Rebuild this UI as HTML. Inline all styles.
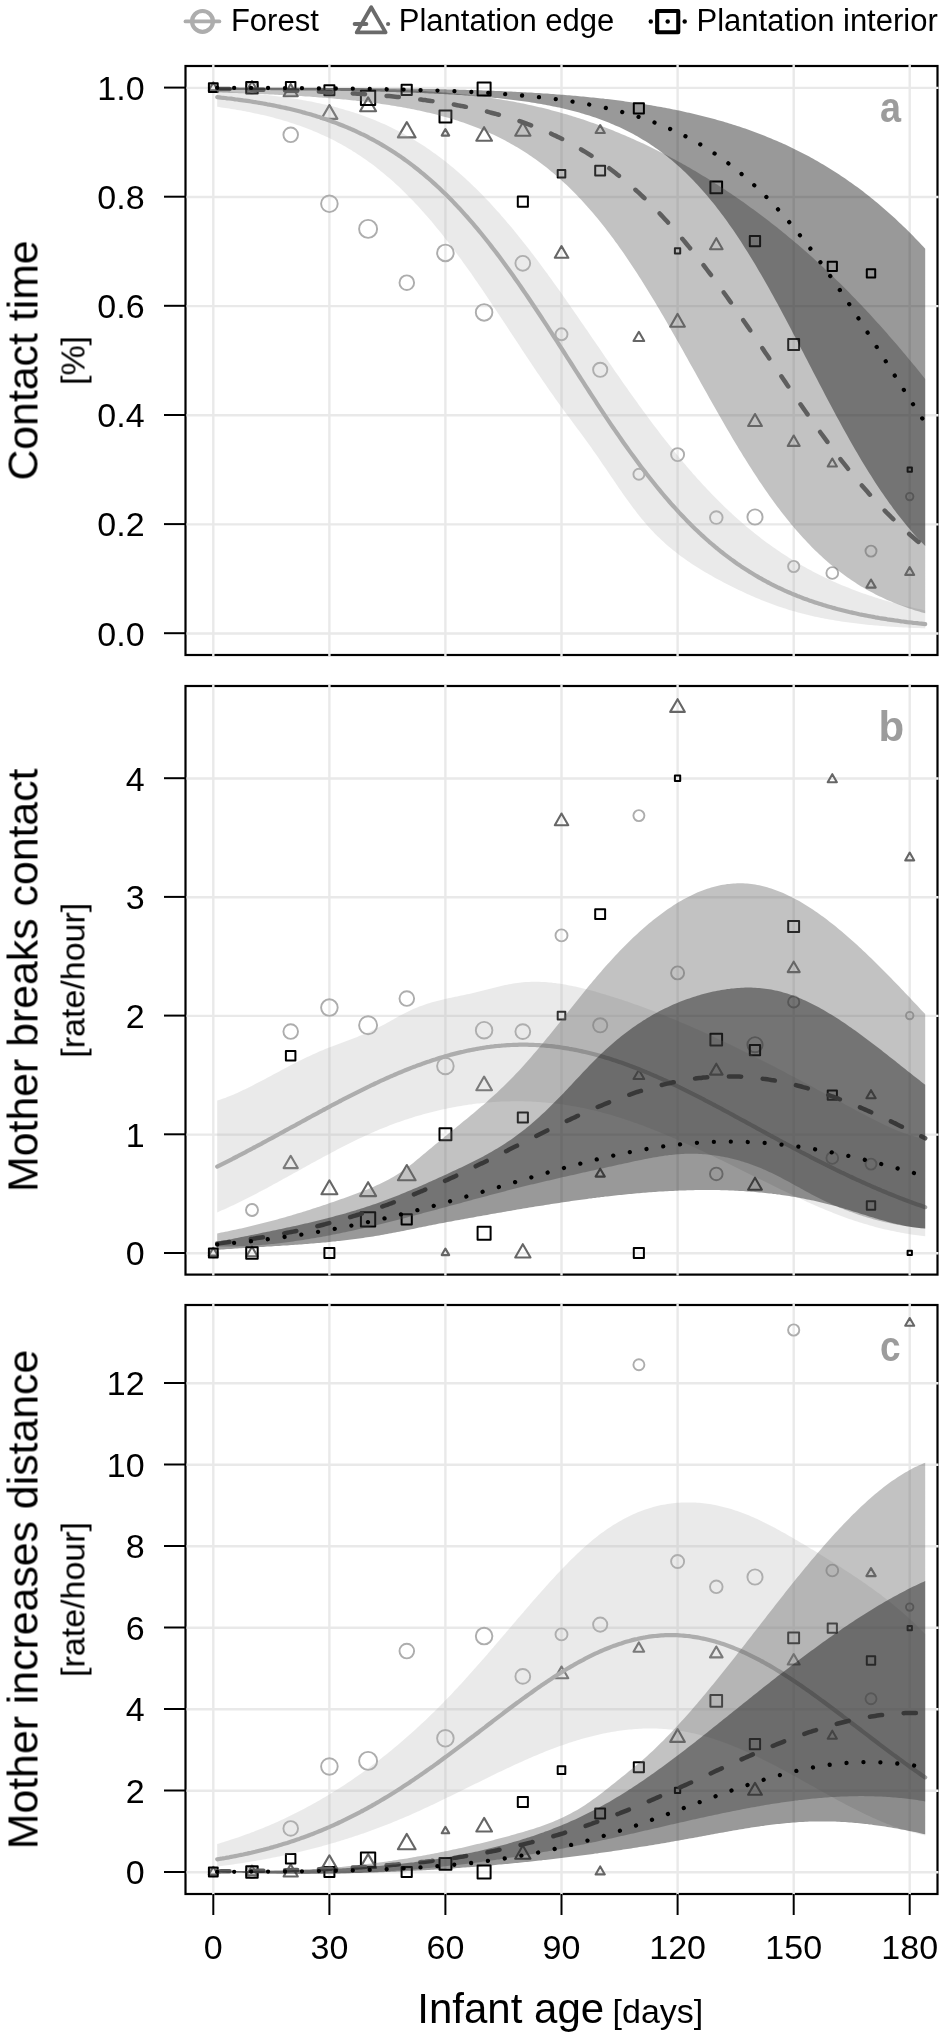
<!DOCTYPE html>
<html><head><meta charset="utf-8"><title>Figure</title>
<style>html,body{margin:0;padding:0;background:#fff;}body{width:944px;height:2040px;overflow:hidden;font-family:"Liberation Sans",sans-serif;}svg{display:block;}svg text{will-change:transform;}</style>
</head><body>
<svg width="944" height="2040" viewBox="0 0 944 2040" font-family="'Liberation Sans', sans-serif" fill="#000">
<rect width="944" height="2040" fill="#fff"/>
<rect x="185.5" y="66" width="752" height="589" fill="#fff" stroke="#000" stroke-width="2.2"/>
<line x1="213.3" y1="65" x2="213.3" y2="656" stroke="#e9e9e9" stroke-width="2.4"/>
<line x1="329.4" y1="65" x2="329.4" y2="656" stroke="#e9e9e9" stroke-width="2.4"/>
<line x1="445.4" y1="65" x2="445.4" y2="656" stroke="#e9e9e9" stroke-width="2.4"/>
<line x1="561.5" y1="65" x2="561.5" y2="656" stroke="#e9e9e9" stroke-width="2.4"/>
<line x1="677.6" y1="65" x2="677.6" y2="656" stroke="#e9e9e9" stroke-width="2.4"/>
<line x1="793.7" y1="65" x2="793.7" y2="656" stroke="#e9e9e9" stroke-width="2.4"/>
<line x1="909.7" y1="65" x2="909.7" y2="656" stroke="#e9e9e9" stroke-width="2.4"/>
<line x1="186.5" y1="633.5" x2="938.5" y2="633.5" stroke="#e9e9e9" stroke-width="2.4"/>
<line x1="186.5" y1="524.4" x2="938.5" y2="524.4" stroke="#e9e9e9" stroke-width="2.4"/>
<line x1="186.5" y1="415.3" x2="938.5" y2="415.3" stroke="#e9e9e9" stroke-width="2.4"/>
<line x1="186.5" y1="306.1" x2="938.5" y2="306.1" stroke="#e9e9e9" stroke-width="2.4"/>
<line x1="186.5" y1="197" x2="938.5" y2="197" stroke="#e9e9e9" stroke-width="2.4"/>
<line x1="186.5" y1="87.9" x2="938.5" y2="87.9" stroke="#e9e9e9" stroke-width="2.4"/>
<line x1="164" y1="633.2" x2="185.5" y2="633.2" stroke="#000" stroke-width="2"/>
<text x="144.6" y="645.5" text-anchor="end" font-size="34">0.0</text>
<line x1="164" y1="524.1" x2="185.5" y2="524.1" stroke="#000" stroke-width="2"/>
<text x="144.6" y="536.4" text-anchor="end" font-size="34">0.2</text>
<line x1="164" y1="415" x2="185.5" y2="415" stroke="#000" stroke-width="2"/>
<text x="144.6" y="427.3" text-anchor="end" font-size="34">0.4</text>
<line x1="164" y1="305.8" x2="185.5" y2="305.8" stroke="#000" stroke-width="2"/>
<text x="144.6" y="318.1" text-anchor="end" font-size="34">0.6</text>
<line x1="164" y1="196.7" x2="185.5" y2="196.7" stroke="#000" stroke-width="2"/>
<text x="144.6" y="209" text-anchor="end" font-size="34">0.8</text>
<line x1="164" y1="87.6" x2="185.5" y2="87.6" stroke="#000" stroke-width="2"/>
<text x="144.6" y="99.9" text-anchor="end" font-size="34">1.0</text>
<circle cx="213.3" cy="87.6" r="4.5" fill="none" stroke="#adadad" stroke-width="1.9"/>
<circle cx="252" cy="87.6" r="6" fill="none" stroke="#adadad" stroke-width="1.9"/>
<circle cx="290.7" cy="134.8" r="7.3" fill="none" stroke="#adadad" stroke-width="1.9"/>
<circle cx="329.4" cy="203.8" r="8.3" fill="none" stroke="#adadad" stroke-width="1.9"/>
<circle cx="368.1" cy="228.9" r="9" fill="none" stroke="#adadad" stroke-width="1.9"/>
<circle cx="406.8" cy="282.7" r="7.3" fill="none" stroke="#adadad" stroke-width="1.9"/>
<circle cx="445.4" cy="252.9" r="8.3" fill="none" stroke="#adadad" stroke-width="1.9"/>
<circle cx="484.1" cy="312.4" r="8.3" fill="none" stroke="#adadad" stroke-width="1.9"/>
<circle cx="522.8" cy="263.3" r="7.4" fill="none" stroke="#adadad" stroke-width="1.9"/>
<circle cx="561.5" cy="334.3" r="6" fill="none" stroke="#adadad" stroke-width="1.9"/>
<circle cx="600.2" cy="369.8" r="7.1" fill="none" stroke="#adadad" stroke-width="1.9"/>
<circle cx="638.9" cy="474.2" r="5.5" fill="none" stroke="#adadad" stroke-width="1.9"/>
<circle cx="677.6" cy="454.6" r="6.5" fill="none" stroke="#adadad" stroke-width="1.9"/>
<circle cx="716.3" cy="517.6" r="6.3" fill="none" stroke="#adadad" stroke-width="1.9"/>
<circle cx="755" cy="517" r="7.6" fill="none" stroke="#adadad" stroke-width="1.9"/>
<circle cx="793.7" cy="566.5" r="5.6" fill="none" stroke="#adadad" stroke-width="1.9"/>
<circle cx="832.3" cy="573" r="5.9" fill="none" stroke="#adadad" stroke-width="1.9"/>
<circle cx="871" cy="551.1" r="5.5" fill="none" stroke="#adadad" stroke-width="1.9"/>
<circle cx="909.7" cy="496.6" r="3.7" fill="none" stroke="#adadad" stroke-width="1.9"/>
<path d="M213.3 82.4 L217.8 90.2 L208.8 90.2Z" fill="none" stroke="#666666" stroke-width="2.1" stroke-linejoin="round"/>
<path d="M252 81.2 L257.5 90.7 L246.5 90.7Z" fill="none" stroke="#666666" stroke-width="2.1" stroke-linejoin="round"/>
<path d="M290.7 83.9 L297.8 96.2 L283.6 96.2Z" fill="none" stroke="#666666" stroke-width="2.1" stroke-linejoin="round"/>
<path d="M329.4 105.1 L337.4 118.9 L321.4 118.9Z" fill="none" stroke="#666666" stroke-width="2.1" stroke-linejoin="round"/>
<path d="M368.1 97.4 L376.1 111.2 L360.1 111.2Z" fill="none" stroke="#666666" stroke-width="2.1" stroke-linejoin="round"/>
<path d="M406.8 122.1 L415.6 137.4 L397.9 137.4Z" fill="none" stroke="#666666" stroke-width="2.1" stroke-linejoin="round"/>
<path d="M445.4 129.1 L449.2 135.6 L441.7 135.6Z" fill="none" stroke="#666666" stroke-width="2.1" stroke-linejoin="round"/>
<path d="M484.1 127.2 L492 140.8 L476.3 140.8Z" fill="none" stroke="#666666" stroke-width="2.1" stroke-linejoin="round"/>
<path d="M522.8 122.4 L530.5 135.7 L515.2 135.7Z" fill="none" stroke="#666666" stroke-width="2.1" stroke-linejoin="round"/>
<path d="M561.5 246.1 L568.3 257.8 L554.8 257.8Z" fill="none" stroke="#666666" stroke-width="2.1" stroke-linejoin="round"/>
<path d="M600.2 125.1 L604.8 133 L595.6 133Z" fill="none" stroke="#666666" stroke-width="2.1" stroke-linejoin="round"/>
<path d="M638.9 331.8 L644.2 341 L633.5 341Z" fill="none" stroke="#666666" stroke-width="2.1" stroke-linejoin="round"/>
<path d="M677.6 313.9 L684.9 326.7 L670.2 326.7Z" fill="none" stroke="#666666" stroke-width="2.1" stroke-linejoin="round"/>
<path d="M716.3 238.2 L722.6 249.2 L710 249.2Z" fill="none" stroke="#666666" stroke-width="2.1" stroke-linejoin="round"/>
<path d="M755 414 L761.9 426 L748.1 426Z" fill="none" stroke="#666666" stroke-width="2.1" stroke-linejoin="round"/>
<path d="M793.7 435.5 L799.7 445.9 L787.7 445.9Z" fill="none" stroke="#666666" stroke-width="2.1" stroke-linejoin="round"/>
<path d="M832.3 458.5 L836.9 466.5 L827.7 466.5Z" fill="none" stroke="#666666" stroke-width="2.1" stroke-linejoin="round"/>
<path d="M871 579.5 L875.7 587.6 L866.4 587.6Z" fill="none" stroke="#666666" stroke-width="2.1" stroke-linejoin="round"/>
<path d="M909.7 567.1 L914.2 574.9 L905.2 574.9Z" fill="none" stroke="#666666" stroke-width="2.1" stroke-linejoin="round"/>
<rect x="208.9" y="83.2" width="8.8" height="8.8" fill="none" stroke="#000" stroke-width="2" stroke-linejoin="round"/>
<rect x="246.2" y="81.9" width="11.5" height="11.5" fill="none" stroke="#000" stroke-width="2" stroke-linejoin="round"/>
<rect x="285.9" y="82" width="9.5" height="9.5" fill="none" stroke="#000" stroke-width="2" stroke-linejoin="round"/>
<rect x="324.4" y="85.3" width="10" height="10" fill="none" stroke="#000" stroke-width="2" stroke-linejoin="round"/>
<rect x="360.9" y="90.8" width="14.3" height="14.3" fill="none" stroke="#000" stroke-width="2" stroke-linejoin="round"/>
<rect x="401.6" y="84.7" width="10.2" height="10.2" fill="none" stroke="#000" stroke-width="2" stroke-linejoin="round"/>
<rect x="439.5" y="110.6" width="11.9" height="11.9" fill="none" stroke="#000" stroke-width="2" stroke-linejoin="round"/>
<rect x="477.6" y="82.4" width="13" height="13" fill="none" stroke="#000" stroke-width="2" stroke-linejoin="round"/>
<rect x="517.8" y="196.6" width="10.1" height="10.1" fill="none" stroke="#000" stroke-width="2" stroke-linejoin="round"/>
<rect x="557.7" y="170" width="7.6" height="7.6" fill="none" stroke="#000" stroke-width="2" stroke-linejoin="round"/>
<rect x="595.2" y="165.7" width="9.9" height="9.9" fill="none" stroke="#000" stroke-width="2" stroke-linejoin="round"/>
<rect x="633.8" y="103.3" width="10.1" height="10.1" fill="none" stroke="#000" stroke-width="2" stroke-linejoin="round"/>
<rect x="674.9" y="248.2" width="5.3" height="5.3" fill="none" stroke="#000" stroke-width="2" stroke-linejoin="round"/>
<rect x="710.4" y="181.6" width="11.7" height="11.7" fill="none" stroke="#000" stroke-width="2" stroke-linejoin="round"/>
<rect x="749.8" y="236" width="10.3" height="10.3" fill="none" stroke="#000" stroke-width="2" stroke-linejoin="round"/>
<rect x="788.2" y="339" width="10.9" height="10.9" fill="none" stroke="#000" stroke-width="2" stroke-linejoin="round"/>
<rect x="827.7" y="261.8" width="9.2" height="9.2" fill="none" stroke="#000" stroke-width="2" stroke-linejoin="round"/>
<rect x="866.8" y="269.2" width="8.4" height="8.4" fill="none" stroke="#000" stroke-width="2" stroke-linejoin="round"/>
<rect x="907.6" y="467.4" width="4.3" height="4.3" fill="none" stroke="#000" stroke-width="2" stroke-linejoin="round"/>
<path d="M217.2 91.1 L219.2 91.2 L221.2 91.3 L223.2 91.4 L225.2 91.5 L227.2 91.7 L229.2 91.8 L231.2 91.9 L233.2 92.1 L235.2 92.2 L237.2 92.3 L239.2 92.5 L241.2 92.6 L243.2 92.8 L245.2 93 L247.2 93.1 L249.2 93.3 L251.2 93.5 L253.2 93.6 L255.2 93.8 L257.2 94 L259.2 94.2 L261.2 94.4 L263.2 94.6 L265.2 94.8 L267.2 95.1 L269.2 95.3 L271.2 95.5 L273.2 95.8 L275.2 96 L277.2 96.2 L279.2 96.5 L281.2 96.8 L283.2 97 L285.2 97.3 L287.2 97.6 L289.2 97.9 L291.2 98.2 L293.2 98.5 L295.2 98.8 L297.2 99.1 L299.2 99.5 L301.2 99.8 L303.2 100.2 L305.2 100.5 L307.2 100.9 L309.2 101.3 L311.2 101.6 L313.2 102 L315.2 102.4 L317.2 102.9 L319.2 103.3 L321.2 103.7 L323.2 104.2 L325.2 104.6 L327.2 105.1 L329.2 105.6 L331.2 106.1 L333.2 106.6 L335.2 107.1 L337.2 107.6 L339.2 108.2 L341.2 108.7 L343.2 109.3 L345.2 109.9 L347.2 110.5 L349.2 111.1 L351.2 111.7 L353.2 112.3 L355.2 113 L357.2 113.6 L359.2 114.3 L361.2 115 L363.2 115.7 L365.2 116.4 L367.2 117.2 L369.2 117.9 L371.2 118.7 L373.2 119.5 L375.2 120.3 L377.2 121.2 L379.2 122 L381.2 122.9 L383.2 123.7 L385.2 124.6 L387.2 125.6 L389.2 126.5 L391.2 127.4 L393.2 128.4 L395.2 129.4 L397.2 130.4 L399.2 131.5 L401.2 132.5 L403.2 133.6 L405.2 134.7 L407.2 135.8 L409.2 136.9 L411.2 138.1 L413.2 139.3 L415.2 140.5 L417.2 141.7 L419.2 143 L421.2 144.2 L423.2 145.5 L425.2 146.8 L427.2 148.2 L429.2 149.6 L431.2 150.9 L433.2 152.4 L435.2 153.8 L437.2 155.3 L439.2 156.7 L441.2 158.3 L443.2 159.8 L445.2 161.3 L447.2 162.9 L449.2 164.5 L451.2 166.2 L453.2 167.8 L455.2 169.5 L457.2 171.2 L459.2 173 L461.2 174.7 L463.2 176.5 L465.2 178.3 L467.2 180.2 L469.2 182.1 L471.2 183.9 L473.2 185.9 L475.2 187.8 L477.2 189.8 L479.2 191.8 L481.2 193.8 L483.2 195.8 L485.2 197.9 L487.2 200 L489.2 202.1 L491.2 204.3 L493.2 206.5 L495.2 208.7 L497.2 210.9 L499.2 213.1 L501.2 215.4 L503.2 217.7 L505.2 220 L507.2 222.4 L509.2 224.7 L511.2 227.1 L513.2 229.5 L515.2 232 L517.2 234.4 L519.2 236.9 L521.2 239.4 L523.2 241.9 L525.2 244.4 L527.2 247 L529.2 249.6 L531.2 252.2 L533.2 254.8 L535.2 257.4 L537.2 260.1 L539.2 262.8 L541.2 265.5 L543.2 268.2 L545.2 270.9 L547.2 273.6 L549.2 276.4 L551.2 279.1 L553.2 281.9 L555.2 284.7 L557.2 287.5 L559.2 290.3 L561.2 293.1 L563.2 296 L565.2 298.8 L567.2 301.7 L569.2 304.6 L571.2 307.4 L573.2 310.3 L575.2 313.2 L577.2 316.1 L579.2 319 L581.2 321.9 L583.2 324.8 L585.2 327.7 L587.2 330.6 L589.2 333.5 L591.2 336.5 L593.2 339.4 L595.2 342.3 L597.2 345.2 L599.2 348.1 L601.2 351.1 L603.2 354 L605.2 356.9 L607.2 359.8 L609.2 362.7 L611.2 365.6 L613.2 368.5 L615.2 371.4 L617.2 374.3 L619.2 377.1 L621.2 380 L623.2 382.9 L625.2 385.7 L627.2 388.6 L629.2 391.4 L631.2 394.2 L633.2 397 L635.2 399.8 L637.2 402.6 L639.2 405.4 L641.2 408.1 L643.2 410.9 L645.2 413.6 L647.2 416.3 L649.2 419 L651.2 421.7 L653.2 424.4 L655.2 427 L657.2 429.6 L659.2 432.3 L661.2 434.9 L663.2 437.4 L665.2 440 L667.2 442.6 L669.2 445.1 L671.2 447.6 L673.2 450.1 L675.2 452.5 L677.2 455 L679.2 457.4 L681.2 459.8 L683.2 462.2 L685.2 464.6 L687.2 466.9 L689.2 469.3 L691.2 471.6 L693.2 473.9 L695.2 476.1 L697.2 478.4 L699.2 480.6 L701.2 482.8 L703.2 484.9 L705.2 487.1 L707.2 489.2 L709.2 491.3 L711.2 493.4 L713.2 495.5 L715.2 497.5 L717.2 499.5 L719.2 501.5 L721.2 503.5 L723.2 505.5 L725.2 507.4 L727.2 509.3 L729.2 511.2 L731.2 513.1 L733.2 514.9 L735.2 516.7 L737.2 518.5 L739.2 520.3 L741.2 522 L743.2 523.8 L745.2 525.5 L747.2 527.2 L749.2 528.8 L751.2 530.5 L753.2 532.1 L755.2 533.7 L757.2 535.3 L759.2 536.8 L761.2 538.4 L763.2 539.9 L765.2 541.4 L767.2 542.9 L769.2 544.3 L771.2 545.8 L773.2 547.2 L775.2 548.6 L777.2 550 L779.2 551.3 L781.2 552.7 L783.2 554 L785.2 555.3 L787.2 556.6 L789.2 557.9 L791.2 559.1 L793.2 560.3 L795.2 561.5 L797.2 562.7 L799.2 563.9 L801.2 565.1 L803.2 566.2 L805.2 567.3 L807.2 568.4 L809.2 569.5 L811.2 570.6 L813.2 571.7 L815.2 572.7 L817.2 573.7 L819.2 574.7 L821.2 575.7 L823.2 576.7 L825.2 577.7 L827.2 578.6 L829.2 579.6 L831.2 580.5 L833.2 581.4 L835.2 582.3 L837.2 583.2 L839.2 584 L841.2 584.9 L843.2 585.7 L845.2 586.5 L847.2 587.3 L849.2 588.1 L851.2 588.9 L853.2 589.7 L855.2 590.5 L857.2 591.2 L859.2 591.9 L861.2 592.7 L863.2 593.4 L865.2 594.1 L867.2 594.8 L869.2 595.4 L871.2 596.1 L873.2 596.8 L875.2 597.4 L877.2 598 L879.2 598.7 L881.2 599.3 L883.2 599.9 L885.2 600.5 L887.2 601 L889.2 601.6 L891.2 602.2 L893.2 602.7 L895.2 603.3 L897.2 603.8 L899.2 604.3 L901.2 604.9 L903.2 605.4 L905.2 605.9 L907.2 606.4 L909.2 606.8 L911.2 607.3 L913.2 607.8 L915.2 608.2 L917.2 608.7 L919.2 609.1 L921.2 609.6 L923.2 610 L925.2 610.4 L925.2 628.4 L923.2 628.3 L921.2 628.2 L919.2 628.1 L917.2 628.1 L915.2 628 L913.2 627.9 L911.2 627.8 L909.2 627.7 L907.2 627.6 L905.2 627.5 L903.2 627.4 L901.2 627.3 L899.2 627.2 L897.2 627 L895.2 626.9 L893.2 626.8 L891.2 626.7 L889.2 626.5 L887.2 626.4 L885.2 626.2 L883.2 626.1 L881.2 625.9 L879.2 625.8 L877.2 625.6 L875.2 625.4 L873.2 625.2 L871.2 625 L869.2 624.9 L867.2 624.7 L865.2 624.5 L863.2 624.2 L861.2 624 L859.2 623.8 L857.2 623.6 L855.2 623.3 L853.2 623.1 L851.2 622.8 L849.2 622.6 L847.2 622.3 L845.2 622 L843.2 621.7 L841.2 621.4 L839.2 621.1 L837.2 620.8 L835.2 620.5 L833.2 620.1 L831.2 619.8 L829.2 619.4 L827.2 619.1 L825.2 618.7 L823.2 618.3 L821.2 617.9 L819.2 617.5 L817.2 617.1 L815.2 616.7 L813.2 616.2 L811.2 615.8 L809.2 615.3 L807.2 614.8 L805.2 614.3 L803.2 613.8 L801.2 613.3 L799.2 612.8 L797.2 612.2 L795.2 611.6 L793.2 611.1 L791.2 610.5 L789.2 609.9 L787.2 609.3 L785.2 608.6 L783.2 608 L781.2 607.3 L779.2 606.7 L777.2 606 L775.2 605.3 L773.2 604.5 L771.2 603.8 L769.2 603.1 L767.2 602.3 L765.2 601.5 L763.2 600.7 L761.2 599.9 L759.2 599.1 L757.2 598.3 L755.2 597.4 L753.2 596.6 L751.2 595.7 L749.2 594.8 L747.2 593.9 L745.2 593 L743.2 592 L741.2 591.1 L739.2 590.2 L737.2 589.2 L735.2 588.2 L733.2 587.2 L731.2 586.2 L729.2 585.2 L727.2 584.2 L725.2 583.2 L723.2 582.2 L721.2 581.1 L719.2 580 L717.2 579 L715.2 577.9 L713.2 576.8 L711.2 575.6 L709.2 574.5 L707.2 573.3 L705.2 572.2 L703.2 571 L701.2 569.8 L699.2 568.5 L697.2 567.3 L695.2 566 L693.2 564.7 L691.2 563.4 L689.2 562 L687.2 560.7 L685.2 559.3 L683.2 557.8 L681.2 556.4 L679.2 554.9 L677.2 553.3 L675.2 551.8 L673.2 550.2 L671.2 548.5 L669.2 546.9 L667.2 545.2 L665.2 543.4 L663.2 541.6 L661.2 539.7 L659.2 537.8 L657.2 535.9 L655.2 533.9 L653.2 531.8 L651.2 529.7 L649.2 527.5 L647.2 525.3 L645.2 523 L643.2 520.6 L641.2 518.2 L639.2 515.7 L637.2 513.2 L635.2 510.6 L633.2 508 L631.2 505.3 L629.2 502.6 L627.2 499.8 L625.2 497 L623.2 494.2 L621.2 491.3 L619.2 488.4 L617.2 485.5 L615.2 482.6 L613.2 479.6 L611.2 476.7 L609.2 473.7 L607.2 470.8 L605.2 467.8 L603.2 464.9 L601.2 462 L599.2 459 L597.2 456.1 L595.2 453.3 L593.2 450.4 L591.2 447.6 L589.2 444.8 L587.2 442 L585.2 439.2 L583.2 436.5 L581.2 433.8 L579.2 431 L577.2 428.4 L575.2 425.7 L573.2 423 L571.2 420.3 L569.2 417.6 L567.2 414.9 L565.2 412.2 L563.2 409.5 L561.2 406.7 L559.2 404 L557.2 401.2 L555.2 398.4 L553.2 395.6 L551.2 392.7 L549.2 389.9 L547.2 387 L545.2 384.1 L543.2 381.2 L541.2 378.3 L539.2 375.3 L537.2 372.4 L535.2 369.4 L533.2 366.4 L531.2 363.4 L529.2 360.4 L527.2 357.4 L525.2 354.4 L523.2 351.4 L521.2 348.4 L519.2 345.3 L517.2 342.3 L515.2 339.3 L513.2 336.2 L511.2 333.2 L509.2 330.2 L507.2 327.1 L505.2 324.1 L503.2 321 L501.2 318 L499.2 315 L497.2 312 L495.2 308.9 L493.2 305.9 L491.2 302.9 L489.2 300 L487.2 297 L485.2 294 L483.2 291.1 L481.2 288.1 L479.2 285.2 L477.2 282.3 L475.2 279.4 L473.2 276.5 L471.2 273.6 L469.2 270.8 L467.2 268 L465.2 265.2 L463.2 262.4 L461.2 259.6 L459.2 256.9 L457.2 254.2 L455.2 251.5 L453.2 248.8 L451.2 246.2 L449.2 243.5 L447.2 240.9 L445.2 238.4 L443.2 235.8 L441.2 233.3 L439.2 230.8 L437.2 228.4 L435.2 225.9 L433.2 223.5 L431.2 221.1 L429.2 218.8 L427.2 216.5 L425.2 214.2 L423.2 211.9 L421.2 209.7 L419.2 207.5 L417.2 205.3 L415.2 203.2 L413.2 201.1 L411.2 199 L409.2 196.9 L407.2 194.9 L405.2 192.9 L403.2 191 L401.2 189 L399.2 187.1 L397.2 185.3 L395.2 183.4 L393.2 181.6 L391.2 179.8 L389.2 178.1 L387.2 176.4 L385.2 174.7 L383.2 173 L381.2 171.4 L379.2 169.8 L377.2 168.2 L375.2 166.6 L373.2 165.1 L371.2 163.6 L369.2 162.2 L367.2 160.7 L365.2 159.3 L363.2 157.9 L361.2 156.6 L359.2 155.2 L357.2 153.9 L355.2 152.6 L353.2 151.4 L351.2 150.1 L349.2 148.9 L347.2 147.7 L345.2 146.6 L343.2 145.4 L341.2 144.3 L339.2 143.2 L337.2 142.2 L335.2 141.1 L333.2 140.1 L331.2 139.1 L329.2 138.1 L327.2 137.1 L325.2 136.2 L323.2 135.3 L321.2 134.4 L319.2 133.5 L317.2 132.6 L315.2 131.7 L313.2 130.9 L311.2 130.1 L309.2 129.3 L307.2 128.5 L305.2 127.8 L303.2 127 L301.2 126.3 L299.2 125.6 L297.2 124.9 L295.2 124.2 L293.2 123.5 L291.2 122.9 L289.2 122.2 L287.2 121.6 L285.2 121 L283.2 120.4 L281.2 119.8 L279.2 119.3 L277.2 118.7 L275.2 118.2 L273.2 117.6 L271.2 117.1 L269.2 116.6 L267.2 116.1 L265.2 115.6 L263.2 115.1 L261.2 114.7 L259.2 114.2 L257.2 113.8 L255.2 113.4 L253.2 112.9 L251.2 112.5 L249.2 112.1 L247.2 111.7 L245.2 111.3 L243.2 111 L241.2 110.6 L239.2 110.2 L237.2 109.9 L235.2 109.6 L233.2 109.2 L231.2 108.9 L229.2 108.6 L227.2 108.3 L225.2 108 L223.2 107.7 L221.2 107.4 L219.2 107.1 L217.2 106.8Z" fill="rgba(179,179,179,0.27)"/>
<path d="M217.2 97.1 L219.2 97.3 L221.2 97.6 L223.2 97.8 L225.2 98 L227.2 98.3 L229.2 98.5 L231.2 98.7 L233.2 99 L235.2 99.3 L237.2 99.5 L239.2 99.8 L241.2 100.1 L243.2 100.4 L245.2 100.6 L247.2 100.9 L249.2 101.2 L251.2 101.5 L253.2 101.9 L255.2 102.2 L257.2 102.5 L259.2 102.8 L261.2 103.2 L263.2 103.5 L265.2 103.9 L267.2 104.3 L269.2 104.6 L271.2 105 L273.2 105.4 L275.2 105.8 L277.2 106.2 L279.2 106.6 L281.2 107.1 L283.2 107.5 L285.2 107.9 L287.2 108.4 L289.2 108.8 L291.2 109.3 L293.2 109.8 L295.2 110.3 L297.2 110.8 L299.2 111.3 L301.2 111.8 L303.2 112.4 L305.2 112.9 L307.2 113.5 L309.2 114 L311.2 114.6 L313.2 115.2 L315.2 115.8 L317.2 116.5 L319.2 117.1 L321.2 117.7 L323.2 118.4 L325.2 119.1 L327.2 119.7 L329.2 120.4 L331.2 121.2 L333.2 121.9 L335.2 122.6 L337.2 123.4 L339.2 124.2 L341.2 125 L343.2 125.8 L345.2 126.6 L347.2 127.4 L349.2 128.3 L351.2 129.1 L353.2 130 L355.2 130.9 L357.2 131.9 L359.2 132.8 L361.2 133.8 L363.2 134.7 L365.2 135.7 L367.2 136.7 L369.2 137.8 L371.2 138.8 L373.2 139.9 L375.2 141 L377.2 142.1 L379.2 143.2 L381.2 144.4 L383.2 145.6 L385.2 146.8 L387.2 148 L389.2 149.2 L391.2 150.5 L393.2 151.8 L395.2 153.1 L397.2 154.4 L399.2 155.8 L401.2 157.1 L403.2 158.5 L405.2 160 L407.2 161.4 L409.2 162.9 L411.2 164.4 L413.2 165.9 L415.2 167.5 L417.2 169 L419.2 170.6 L421.2 172.3 L423.2 173.9 L425.2 175.6 L427.2 177.3 L429.2 179 L431.2 180.8 L433.2 182.6 L435.2 184.4 L437.2 186.2 L439.2 188.1 L441.2 190 L443.2 191.9 L445.2 193.8 L447.2 195.8 L449.2 197.8 L451.2 199.8 L453.2 201.9 L455.2 204 L457.2 206.1 L459.2 208.2 L461.2 210.4 L463.2 212.6 L465.2 214.8 L467.2 217 L469.2 219.3 L471.2 221.6 L473.2 223.9 L475.2 226.3 L477.2 228.7 L479.2 231.1 L481.2 233.5 L483.2 236 L485.2 238.5 L487.2 241 L489.2 243.5 L491.2 246.1 L493.2 248.7 L495.2 251.3 L497.2 253.9 L499.2 256.6 L501.2 259.3 L503.2 262 L505.2 264.7 L507.2 267.4 L509.2 270.2 L511.2 273 L513.2 275.8 L515.2 278.7 L517.2 281.5 L519.2 284.4 L521.2 287.3 L523.2 290.2 L525.2 293.1 L527.2 296 L529.2 299 L531.2 302 L533.2 305 L535.2 308 L537.2 311 L539.2 314 L541.2 317 L543.2 320.1 L545.2 323.2 L547.2 326.2 L549.2 329.3 L551.2 332.4 L553.2 335.5 L555.2 338.6 L557.2 341.7 L559.2 344.8 L561.2 347.9 L563.2 351 L565.2 354.2 L567.2 357.3 L569.2 360.4 L571.2 363.5 L573.2 366.7 L575.2 369.8 L577.2 372.9 L579.2 376 L581.2 379.1 L583.2 382.2 L585.2 385.3 L587.2 388.4 L589.2 391.5 L591.2 394.6 L593.2 397.7 L595.2 400.7 L597.2 403.8 L599.2 406.8 L601.2 409.8 L603.2 412.8 L605.2 415.8 L607.2 418.8 L609.2 421.8 L611.2 424.8 L613.2 427.7 L615.2 430.6 L617.2 433.5 L619.2 436.4 L621.2 439.3 L623.2 442.2 L625.2 445 L627.2 447.8 L629.2 450.6 L631.2 453.4 L633.2 456.1 L635.2 458.8 L637.2 461.5 L639.2 464.2 L641.2 466.9 L643.2 469.5 L645.2 472.1 L647.2 474.7 L649.2 477.3 L651.2 479.8 L653.2 482.3 L655.2 484.8 L657.2 487.3 L659.2 489.7 L661.2 492.1 L663.2 494.5 L665.2 496.9 L667.2 499.2 L669.2 501.5 L671.2 503.8 L673.2 506 L675.2 508.2 L677.2 510.4 L679.2 512.6 L681.2 514.7 L683.2 516.8 L685.2 518.9 L687.2 521 L689.2 523 L691.2 525 L693.2 527 L695.2 528.9 L697.2 530.8 L699.2 532.7 L701.2 534.6 L703.2 536.4 L705.2 538.2 L707.2 540 L709.2 541.8 L711.2 543.5 L713.2 545.2 L715.2 546.9 L717.2 548.5 L719.2 550.2 L721.2 551.8 L723.2 553.3 L725.2 554.9 L727.2 556.4 L729.2 557.9 L731.2 559.4 L733.2 560.8 L735.2 562.3 L737.2 563.7 L739.2 565 L741.2 566.4 L743.2 567.7 L745.2 569 L747.2 570.3 L749.2 571.6 L751.2 572.8 L753.2 574 L755.2 575.2 L757.2 576.4 L759.2 577.6 L761.2 578.7 L763.2 579.8 L765.2 580.9 L767.2 582 L769.2 583 L771.2 584.1 L773.2 585.1 L775.2 586.1 L777.2 587.1 L779.2 588 L781.2 588.9 L783.2 589.9 L785.2 590.8 L787.2 591.7 L789.2 592.5 L791.2 593.4 L793.2 594.2 L795.2 595 L797.2 595.9 L799.2 596.6 L801.2 597.4 L803.2 598.2 L805.2 598.9 L807.2 599.6 L809.2 600.4 L811.2 601.1 L813.2 601.7 L815.2 602.4 L817.2 603.1 L819.2 603.7 L821.2 604.3 L823.2 605 L825.2 605.6 L827.2 606.2 L829.2 606.8 L831.2 607.3 L833.2 607.9 L835.2 608.4 L837.2 609 L839.2 609.5 L841.2 610 L843.2 610.5 L845.2 611 L847.2 611.5 L849.2 612 L851.2 612.4 L853.2 612.9 L855.2 613.3 L857.2 613.7 L859.2 614.2 L861.2 614.6 L863.2 615 L865.2 615.4 L867.2 615.8 L869.2 616.2 L871.2 616.5 L873.2 616.9 L875.2 617.3 L877.2 617.6 L879.2 618 L881.2 618.3 L883.2 618.6 L885.2 618.9 L887.2 619.3 L889.2 619.6 L891.2 619.9 L893.2 620.2 L895.2 620.5 L897.2 620.7 L899.2 621 L901.2 621.3 L903.2 621.5 L905.2 621.8 L907.2 622.1 L909.2 622.3 L911.2 622.5 L913.2 622.8 L915.2 623 L917.2 623.2 L919.2 623.5 L921.2 623.7 L923.2 623.9 L925.2 624.1" fill="none" stroke="#adadad" stroke-width="4.2" stroke-linecap="round" stroke-linejoin="round"/>
<path d="M217.2 87.6 L219.2 87.6 L221.2 87.6 L223.2 87.6 L225.2 87.6 L227.2 87.6 L229.2 87.6 L231.2 87.6 L233.2 87.6 L235.2 87.6 L237.2 87.6 L239.2 87.6 L241.2 87.6 L243.2 87.6 L245.2 87.6 L247.2 87.6 L249.2 87.7 L251.2 87.7 L253.2 87.7 L255.2 87.7 L257.2 87.7 L259.2 87.7 L261.2 87.7 L263.2 87.7 L265.2 87.7 L267.2 87.7 L269.2 87.7 L271.2 87.7 L273.2 87.7 L275.2 87.7 L277.2 87.7 L279.2 87.7 L281.2 87.7 L283.2 87.7 L285.2 87.7 L287.2 87.8 L289.2 87.8 L291.2 87.8 L293.2 87.8 L295.2 87.8 L297.2 87.8 L299.2 87.8 L301.2 87.8 L303.2 87.8 L305.2 87.9 L307.2 87.9 L309.2 87.9 L311.2 87.9 L313.2 87.9 L315.2 87.9 L317.2 87.9 L319.2 88 L321.2 88 L323.2 88 L325.2 88 L327.2 88 L329.2 88.1 L331.2 88.1 L333.2 88.1 L335.2 88.1 L337.2 88.2 L339.2 88.2 L341.2 88.2 L343.2 88.2 L345.2 88.3 L347.2 88.3 L349.2 88.3 L351.2 88.4 L353.2 88.4 L355.2 88.5 L357.2 88.5 L359.2 88.5 L361.2 88.6 L363.2 88.6 L365.2 88.7 L367.2 88.7 L369.2 88.8 L371.2 88.8 L373.2 88.9 L375.2 88.9 L377.2 89 L379.2 89 L381.2 89.1 L383.2 89.2 L385.2 89.2 L387.2 89.3 L389.2 89.4 L391.2 89.5 L393.2 89.5 L395.2 89.6 L397.2 89.7 L399.2 89.8 L401.2 89.9 L403.2 89.9 L405.2 90 L407.2 90.1 L409.2 90.2 L411.2 90.3 L413.2 90.4 L415.2 90.6 L417.2 90.7 L419.2 90.8 L421.2 90.9 L423.2 91 L425.2 91.1 L427.2 91.3 L429.2 91.4 L431.2 91.6 L433.2 91.7 L435.2 91.8 L437.2 92 L439.2 92.1 L441.2 92.3 L443.2 92.5 L445.2 92.6 L447.2 92.8 L449.2 93 L451.2 93.2 L453.2 93.4 L455.2 93.5 L457.2 93.7 L459.2 93.9 L461.2 94.2 L463.2 94.4 L465.2 94.6 L467.2 94.8 L469.2 95 L471.2 95.3 L473.2 95.5 L475.2 95.8 L477.2 96 L479.2 96.3 L481.2 96.5 L483.2 96.8 L485.2 97.1 L487.2 97.4 L489.2 97.7 L491.2 97.9 L493.2 98.2 L495.2 98.6 L497.2 98.9 L499.2 99.2 L501.2 99.5 L503.2 99.9 L505.2 100.2 L507.2 100.5 L509.2 100.9 L511.2 101.3 L513.2 101.6 L515.2 102 L517.2 102.4 L519.2 102.8 L521.2 103.2 L523.2 103.6 L525.2 104 L527.2 104.4 L529.2 104.9 L531.2 105.3 L533.2 105.8 L535.2 106.2 L537.2 106.7 L539.2 107.2 L541.2 107.6 L543.2 108.1 L545.2 108.6 L547.2 109.1 L549.2 109.6 L551.2 110.2 L553.2 110.7 L555.2 111.2 L557.2 111.8 L559.2 112.3 L561.2 112.9 L563.2 113.5 L565.2 114 L567.2 114.6 L569.2 115.2 L571.2 115.8 L573.2 116.4 L575.2 117.1 L577.2 117.7 L579.2 118.3 L581.2 119 L583.2 119.6 L585.2 120.3 L587.2 121 L589.2 121.7 L591.2 122.4 L593.2 123.1 L595.2 123.8 L597.2 124.5 L599.2 125.2 L601.2 126 L603.2 126.7 L605.2 127.5 L607.2 128.3 L609.2 129 L611.2 129.8 L613.2 130.6 L615.2 131.4 L617.2 132.2 L619.2 133.1 L621.2 133.9 L623.2 134.7 L625.2 135.6 L627.2 136.4 L629.2 137.3 L631.2 138.2 L633.2 139.1 L635.2 140 L637.2 140.9 L639.2 141.8 L641.2 142.7 L643.2 143.6 L645.2 144.6 L647.2 145.5 L649.2 146.5 L651.2 147.5 L653.2 148.4 L655.2 149.4 L657.2 150.4 L659.2 151.4 L661.2 152.4 L663.2 153.5 L665.2 154.5 L667.2 155.5 L669.2 156.6 L671.2 157.7 L673.2 158.7 L675.2 159.8 L677.2 160.9 L679.2 162 L681.2 163.1 L683.2 164.2 L685.2 165.3 L687.2 166.5 L689.2 167.6 L691.2 168.8 L693.2 169.9 L695.2 171.1 L697.2 172.3 L699.2 173.5 L701.2 174.7 L703.2 175.9 L705.2 177.1 L707.2 178.3 L709.2 179.6 L711.2 180.8 L713.2 182.1 L715.2 183.4 L717.2 184.6 L719.2 185.9 L721.2 187.2 L723.2 188.5 L725.2 189.8 L727.2 191.2 L729.2 192.5 L731.2 193.8 L733.2 195.2 L735.2 196.6 L737.2 197.9 L739.2 199.3 L741.2 200.7 L743.2 202.1 L745.2 203.5 L747.2 205 L749.2 206.4 L751.2 207.9 L753.2 209.3 L755.2 210.8 L757.2 212.3 L759.2 213.7 L761.2 215.2 L763.2 216.7 L765.2 218.3 L767.2 219.8 L769.2 221.3 L771.2 222.9 L773.2 224.5 L775.2 226 L777.2 227.6 L779.2 229.2 L781.2 230.8 L783.2 232.4 L785.2 234.1 L787.2 235.7 L789.2 237.4 L791.2 239 L793.2 240.7 L795.2 242.4 L797.2 244.1 L799.2 245.8 L801.2 247.5 L803.2 249.3 L805.2 251 L807.2 252.8 L809.2 254.6 L811.2 256.3 L813.2 258.1 L815.2 259.9 L817.2 261.8 L819.2 263.6 L821.2 265.4 L823.2 267.3 L825.2 269.2 L827.2 271.1 L829.2 273 L831.2 274.9 L833.2 276.8 L835.2 278.7 L837.2 280.7 L839.2 282.6 L841.2 284.6 L843.2 286.6 L845.2 288.6 L847.2 290.6 L849.2 292.6 L851.2 294.7 L853.2 296.7 L855.2 298.8 L857.2 300.9 L859.2 303 L861.2 305.1 L863.2 307.2 L865.2 309.3 L867.2 311.4 L869.2 313.6 L871.2 315.8 L873.2 318 L875.2 320.2 L877.2 322.4 L879.2 324.6 L881.2 326.8 L883.2 329.1 L885.2 331.3 L887.2 333.6 L889.2 335.9 L891.2 338.2 L893.2 340.5 L895.2 342.8 L897.2 345.1 L899.2 347.5 L901.2 349.8 L903.2 352.2 L905.2 354.6 L907.2 357 L909.2 359.4 L911.2 361.8 L913.2 364.2 L915.2 366.6 L917.2 369.1 L919.2 371.5 L921.2 374 L923.2 376.5 L925.2 379 L925.2 613.3 L923.2 612.7 L921.2 612.2 L919.2 611.6 L917.2 611 L915.2 610.4 L913.2 609.7 L911.2 609.1 L909.2 608.4 L907.2 607.7 L905.2 607 L903.2 606.3 L901.2 605.6 L899.2 604.8 L897.2 604.1 L895.2 603.3 L893.2 602.5 L891.2 601.6 L889.2 600.8 L887.2 599.9 L885.2 599 L883.2 598.1 L881.2 597.1 L879.2 596.2 L877.2 595.2 L875.2 594.2 L873.2 593.1 L871.2 592.1 L869.2 591 L867.2 589.9 L865.2 588.7 L863.2 587.6 L861.2 586.4 L859.2 585.2 L857.2 583.9 L855.2 582.6 L853.2 581.3 L851.2 580 L849.2 578.6 L847.2 577.2 L845.2 575.8 L843.2 574.3 L841.2 572.8 L839.2 571.3 L837.2 569.8 L835.2 568.2 L833.2 566.6 L831.2 564.9 L829.2 563.2 L827.2 561.5 L825.2 559.7 L823.2 557.9 L821.2 556.1 L819.2 554.2 L817.2 552.3 L815.2 550.4 L813.2 548.4 L811.2 546.4 L809.2 544.3 L807.2 542.3 L805.2 540.1 L803.2 538 L801.2 535.8 L799.2 533.5 L797.2 531.3 L795.2 528.9 L793.2 526.6 L791.2 524.2 L789.2 521.8 L787.2 519.3 L785.2 516.8 L783.2 514.2 L781.2 511.7 L779.2 509 L777.2 506.4 L775.2 503.7 L773.2 501 L771.2 498.2 L769.2 495.4 L767.2 492.6 L765.2 489.7 L763.2 486.8 L761.2 483.8 L759.2 480.9 L757.2 477.8 L755.2 474.8 L753.2 471.7 L751.2 468.6 L749.2 465.5 L747.2 462.3 L745.2 459.1 L743.2 455.9 L741.2 452.6 L739.2 449.4 L737.2 446 L735.2 442.7 L733.2 439.4 L731.2 436 L729.2 432.6 L727.2 429.2 L725.2 425.7 L723.2 422.3 L721.2 418.8 L719.2 415.3 L717.2 411.8 L715.2 408.3 L713.2 404.8 L711.2 401.2 L709.2 397.7 L707.2 394.1 L705.2 390.5 L703.2 387 L701.2 383.4 L699.2 379.8 L697.2 376.2 L695.2 372.6 L693.2 369 L691.2 365.4 L689.2 361.9 L687.2 358.3 L685.2 354.7 L683.2 351.1 L681.2 347.6 L679.2 344 L677.2 340.5 L675.2 337 L673.2 333.5 L671.2 330 L669.2 326.5 L667.2 323 L665.2 319.5 L663.2 316.1 L661.2 312.7 L659.2 309.3 L657.2 305.9 L655.2 302.6 L653.2 299.2 L651.2 295.9 L649.2 292.7 L647.2 289.4 L645.2 286.2 L643.2 283 L641.2 279.8 L639.2 276.7 L637.2 273.5 L635.2 270.5 L633.2 267.4 L631.2 264.4 L629.2 261.4 L627.2 258.4 L625.2 255.5 L623.2 252.6 L621.2 249.7 L619.2 246.9 L617.2 244.1 L615.2 241.4 L613.2 238.6 L611.2 235.9 L609.2 233.3 L607.2 230.7 L605.2 228.1 L603.2 225.5 L601.2 223 L599.2 220.5 L597.2 218.1 L595.2 215.7 L593.2 213.3 L591.2 211 L589.2 208.7 L587.2 206.4 L585.2 204.2 L583.2 202 L581.2 199.8 L579.2 197.7 L577.2 195.6 L575.2 193.5 L573.2 191.5 L571.2 189.5 L569.2 187.6 L567.2 185.6 L565.2 183.7 L563.2 181.9 L561.2 180.1 L559.2 178.3 L557.2 176.5 L555.2 174.8 L553.2 173.1 L551.2 171.4 L549.2 169.8 L547.2 168.1 L545.2 166.6 L543.2 165 L541.2 163.5 L539.2 162 L537.2 160.5 L535.2 159.1 L533.2 157.7 L531.2 156.3 L529.2 154.9 L527.2 153.6 L525.2 152.3 L523.2 151 L521.2 149.8 L519.2 148.5 L517.2 147.3 L515.2 146.2 L513.2 145 L511.2 143.9 L509.2 142.8 L507.2 141.7 L505.2 140.6 L503.2 139.5 L501.2 138.5 L499.2 137.5 L497.2 136.5 L495.2 135.6 L493.2 134.6 L491.2 133.7 L489.2 132.8 L487.2 131.9 L485.2 131 L483.2 130.2 L481.2 129.4 L479.2 128.5 L477.2 127.7 L475.2 127 L473.2 126.2 L471.2 125.4 L469.2 124.7 L467.2 124 L465.2 123.3 L463.2 122.6 L461.2 121.9 L459.2 121.2 L457.2 120.6 L455.2 120 L453.2 119.3 L451.2 118.7 L449.2 118.1 L447.2 117.6 L445.2 117 L443.2 116.4 L441.2 115.9 L439.2 115.4 L437.2 114.8 L435.2 114.3 L433.2 113.8 L431.2 113.3 L429.2 112.8 L427.2 112.4 L425.2 111.9 L423.2 111.5 L421.2 111 L419.2 110.6 L417.2 110.2 L415.2 109.8 L413.2 109.3 L411.2 108.9 L409.2 108.6 L407.2 108.2 L405.2 107.8 L403.2 107.4 L401.2 107.1 L399.2 106.7 L397.2 106.4 L395.2 106.1 L393.2 105.7 L391.2 105.4 L389.2 105.1 L387.2 104.8 L385.2 104.5 L383.2 104.2 L381.2 103.9 L379.2 103.6 L377.2 103.3 L375.2 103.1 L373.2 102.8 L371.2 102.5 L369.2 102.3 L367.2 102 L365.2 101.8 L363.2 101.6 L361.2 101.3 L359.2 101.1 L357.2 100.9 L355.2 100.6 L353.2 100.4 L351.2 100.2 L349.2 100 L347.2 99.8 L345.2 99.6 L343.2 99.4 L341.2 99.2 L339.2 99 L337.2 98.9 L335.2 98.7 L333.2 98.5 L331.2 98.3 L329.2 98.2 L327.2 98 L325.2 97.8 L323.2 97.7 L321.2 97.5 L319.2 97.4 L317.2 97.2 L315.2 97.1 L313.2 96.9 L311.2 96.8 L309.2 96.6 L307.2 96.5 L305.2 96.4 L303.2 96.2 L301.2 96.1 L299.2 96 L297.2 95.9 L295.2 95.8 L293.2 95.6 L291.2 95.5 L289.2 95.4 L287.2 95.3 L285.2 95.2 L283.2 95.1 L281.2 95 L279.2 94.9 L277.2 94.8 L275.2 94.7 L273.2 94.6 L271.2 94.5 L269.2 94.4 L267.2 94.3 L265.2 94.2 L263.2 94.1 L261.2 94 L259.2 94 L257.2 93.9 L255.2 93.8 L253.2 93.7 L251.2 93.6 L249.2 93.6 L247.2 93.5 L245.2 93.4 L243.2 93.3 L241.2 93.3 L239.2 93.2 L237.2 93.1 L235.2 93.1 L233.2 93 L231.2 92.9 L229.2 92.9 L227.2 92.8 L225.2 92.8 L223.2 92.7 L221.2 92.6 L219.2 92.6 L217.2 92.5Z" fill="rgba(102,102,102,0.40)"/>
<path d="M217.2 88.9 L219.2 89 L221.2 89 L223.2 89 L225.2 89.1 L227.2 89.1 L229.2 89.1 L231.2 89.2 L233.2 89.2 L235.2 89.2 L237.2 89.3 L239.2 89.3 L241.2 89.3 L243.2 89.4 L245.2 89.4 L247.2 89.5 L249.2 89.5 L251.2 89.5 L253.2 89.6 L255.2 89.6 L257.2 89.7 L259.2 89.7 L261.2 89.8 L263.2 89.8 L265.2 89.9 L267.2 89.9 L269.2 89.9 L271.2 90 L273.2 90.1 L275.2 90.1 L277.2 90.2 L279.2 90.2 L281.2 90.3 L283.2 90.3 L285.2 90.4 L287.2 90.5 L289.2 90.5 L291.2 90.6 L293.2 90.6 L295.2 90.7 L297.2 90.8 L299.2 90.8 L301.2 90.9 L303.2 91 L305.2 91.1 L307.2 91.1 L309.2 91.2 L311.2 91.3 L313.2 91.4 L315.2 91.5 L317.2 91.5 L319.2 91.6 L321.2 91.7 L323.2 91.8 L325.2 91.9 L327.2 92 L329.2 92.1 L331.2 92.2 L333.2 92.3 L335.2 92.4 L337.2 92.5 L339.2 92.6 L341.2 92.7 L343.2 92.8 L345.2 92.9 L347.2 93 L349.2 93.2 L351.2 93.3 L353.2 93.4 L355.2 93.5 L357.2 93.7 L359.2 93.8 L361.2 93.9 L363.2 94.1 L365.2 94.2 L367.2 94.4 L369.2 94.5 L371.2 94.6 L373.2 94.8 L375.2 95 L377.2 95.1 L379.2 95.3 L381.2 95.4 L383.2 95.6 L385.2 95.8 L387.2 96 L389.2 96.1 L391.2 96.3 L393.2 96.5 L395.2 96.7 L397.2 96.9 L399.2 97.1 L401.2 97.3 L403.2 97.5 L405.2 97.7 L407.2 98 L409.2 98.2 L411.2 98.4 L413.2 98.6 L415.2 98.9 L417.2 99.1 L419.2 99.4 L421.2 99.6 L423.2 99.9 L425.2 100.1 L427.2 100.4 L429.2 100.7 L431.2 101 L433.2 101.2 L435.2 101.5 L437.2 101.8 L439.2 102.1 L441.2 102.5 L443.2 102.8 L445.2 103.1 L447.2 103.4 L449.2 103.8 L451.2 104.1 L453.2 104.5 L455.2 104.8 L457.2 105.2 L459.2 105.6 L461.2 105.9 L463.2 106.3 L465.2 106.7 L467.2 107.1 L469.2 107.5 L471.2 108 L473.2 108.4 L475.2 108.8 L477.2 109.3 L479.2 109.7 L481.2 110.2 L483.2 110.7 L485.2 111.2 L487.2 111.6 L489.2 112.2 L491.2 112.7 L493.2 113.2 L495.2 113.7 L497.2 114.3 L499.2 114.8 L501.2 115.4 L503.2 116 L505.2 116.6 L507.2 117.2 L509.2 117.8 L511.2 118.4 L513.2 119 L515.2 119.7 L517.2 120.4 L519.2 121 L521.2 121.7 L523.2 122.4 L525.2 123.1 L527.2 123.9 L529.2 124.6 L531.2 125.4 L533.2 126.1 L535.2 126.9 L537.2 127.7 L539.2 128.5 L541.2 129.4 L543.2 130.2 L545.2 131.1 L547.2 131.9 L549.2 132.8 L551.2 133.7 L553.2 134.7 L555.2 135.6 L557.2 136.6 L559.2 137.5 L561.2 138.5 L563.2 139.5 L565.2 140.6 L567.2 141.6 L569.2 142.7 L571.2 143.8 L573.2 144.9 L575.2 146 L577.2 147.1 L579.2 148.3 L581.2 149.5 L583.2 150.7 L585.2 151.9 L587.2 153.1 L589.2 154.4 L591.2 155.7 L593.2 157 L595.2 158.3 L597.2 159.7 L599.2 161 L601.2 162.4 L603.2 163.8 L605.2 165.3 L607.2 166.7 L609.2 168.2 L611.2 169.7 L613.2 171.2 L615.2 172.8 L617.2 174.4 L619.2 176 L621.2 177.6 L623.2 179.2 L625.2 180.9 L627.2 182.6 L629.2 184.3 L631.2 186 L633.2 187.8 L635.2 189.6 L637.2 191.4 L639.2 193.2 L641.2 195.1 L643.2 197 L645.2 198.9 L647.2 200.8 L649.2 202.8 L651.2 204.8 L653.2 206.8 L655.2 208.8 L657.2 210.9 L659.2 213 L661.2 215.1 L663.2 217.2 L665.2 219.4 L667.2 221.6 L669.2 223.8 L671.2 226 L673.2 228.2 L675.2 230.5 L677.2 232.8 L679.2 235.1 L681.2 237.5 L683.2 239.9 L685.2 242.3 L687.2 244.7 L689.2 247.1 L691.2 249.6 L693.2 252.1 L695.2 254.6 L697.2 257.1 L699.2 259.6 L701.2 262.2 L703.2 264.8 L705.2 267.4 L707.2 270 L709.2 272.7 L711.2 275.3 L713.2 278 L715.2 280.7 L717.2 283.4 L719.2 286.2 L721.2 288.9 L723.2 291.7 L725.2 294.5 L727.2 297.3 L729.2 300.1 L731.2 302.9 L733.2 305.7 L735.2 308.6 L737.2 311.5 L739.2 314.3 L741.2 317.2 L743.2 320.1 L745.2 323 L747.2 325.9 L749.2 328.8 L751.2 331.8 L753.2 334.7 L755.2 337.6 L757.2 340.6 L759.2 343.5 L761.2 346.5 L763.2 349.4 L765.2 352.4 L767.2 355.3 L769.2 358.3 L771.2 361.3 L773.2 364.2 L775.2 367.2 L777.2 370.1 L779.2 373.1 L781.2 376 L783.2 379 L785.2 381.9 L787.2 384.9 L789.2 387.8 L791.2 390.7 L793.2 393.7 L795.2 396.6 L797.2 399.5 L799.2 402.4 L801.2 405.3 L803.2 408.1 L805.2 411 L807.2 413.9 L809.2 416.7 L811.2 419.5 L813.2 422.3 L815.2 425.2 L817.2 427.9 L819.2 430.7 L821.2 433.5 L823.2 436.2 L825.2 438.9 L827.2 441.6 L829.2 444.3 L831.2 447 L833.2 449.7 L835.2 452.3 L837.2 454.9 L839.2 457.5 L841.2 460.1 L843.2 462.6 L845.2 465.2 L847.2 467.7 L849.2 470.2 L851.2 472.6 L853.2 475.1 L855.2 477.5 L857.2 479.9 L859.2 482.3 L861.2 484.7 L863.2 487 L865.2 489.3 L867.2 491.6 L869.2 493.9 L871.2 496.1 L873.2 498.3 L875.2 500.5 L877.2 502.7 L879.2 504.8 L881.2 506.9 L883.2 509 L885.2 511.1 L887.2 513.2 L889.2 515.2 L891.2 517.2 L893.2 519.1 L895.2 521.1 L897.2 523 L899.2 524.9 L901.2 526.8 L903.2 528.6 L905.2 530.5 L907.2 532.2 L909.2 534 L911.2 535.8 L913.2 537.5 L915.2 539.2 L917.2 540.9 L919.2 542.5 L921.2 544.2 L923.2 545.8 L925.2 547.3" fill="none" stroke="#5e5e5e" stroke-width="4.5" stroke-linecap="round" stroke-dasharray="12.3 21.62"/>
<path d="M217.2 87.6 L219.2 87.6 L221.2 87.6 L223.2 87.6 L225.2 87.6 L227.2 87.6 L229.2 87.6 L231.2 87.6 L233.2 87.6 L235.2 87.6 L237.2 87.6 L239.2 87.7 L241.2 87.7 L243.2 87.7 L245.2 87.7 L247.2 87.7 L249.2 87.7 L251.2 87.7 L253.2 87.7 L255.2 87.7 L257.2 87.7 L259.2 87.7 L261.2 87.7 L263.2 87.7 L265.2 87.7 L267.2 87.7 L269.2 87.7 L271.2 87.7 L273.2 87.7 L275.2 87.7 L277.2 87.7 L279.2 87.7 L281.2 87.7 L283.2 87.7 L285.2 87.7 L287.2 87.7 L289.2 87.7 L291.2 87.7 L293.2 87.7 L295.2 87.8 L297.2 87.8 L299.2 87.8 L301.2 87.8 L303.2 87.8 L305.2 87.8 L307.2 87.8 L309.2 87.8 L311.2 87.8 L313.2 87.8 L315.2 87.8 L317.2 87.8 L319.2 87.8 L321.2 87.8 L323.2 87.9 L325.2 87.9 L327.2 87.9 L329.2 87.9 L331.2 87.9 L333.2 87.9 L335.2 87.9 L337.2 87.9 L339.2 87.9 L341.2 88 L343.2 88 L345.2 88 L347.2 88 L349.2 88 L351.2 88 L353.2 88 L355.2 88 L357.2 88.1 L359.2 88.1 L361.2 88.1 L363.2 88.1 L365.2 88.1 L367.2 88.1 L369.2 88.2 L371.2 88.2 L373.2 88.2 L375.2 88.2 L377.2 88.2 L379.2 88.2 L381.2 88.3 L383.2 88.3 L385.2 88.3 L387.2 88.3 L389.2 88.4 L391.2 88.4 L393.2 88.4 L395.2 88.4 L397.2 88.5 L399.2 88.5 L401.2 88.5 L403.2 88.5 L405.2 88.6 L407.2 88.6 L409.2 88.6 L411.2 88.7 L413.2 88.7 L415.2 88.7 L417.2 88.7 L419.2 88.8 L421.2 88.8 L423.2 88.9 L425.2 88.9 L427.2 88.9 L429.2 89 L431.2 89 L433.2 89 L435.2 89.1 L437.2 89.1 L439.2 89.2 L441.2 89.2 L443.2 89.3 L445.2 89.3 L447.2 89.4 L449.2 89.4 L451.2 89.4 L453.2 89.5 L455.2 89.6 L457.2 89.6 L459.2 89.7 L461.2 89.7 L463.2 89.8 L465.2 89.8 L467.2 89.9 L469.2 89.9 L471.2 90 L473.2 90.1 L475.2 90.1 L477.2 90.2 L479.2 90.3 L481.2 90.3 L483.2 90.4 L485.2 90.5 L487.2 90.6 L489.2 90.6 L491.2 90.7 L493.2 90.8 L495.2 90.9 L497.2 91 L499.2 91 L501.2 91.1 L503.2 91.2 L505.2 91.3 L507.2 91.4 L509.2 91.5 L511.2 91.6 L513.2 91.7 L515.2 91.8 L517.2 91.9 L519.2 92 L521.2 92.1 L523.2 92.2 L525.2 92.3 L527.2 92.4 L529.2 92.5 L531.2 92.6 L533.2 92.8 L535.2 92.9 L537.2 93 L539.2 93.1 L541.2 93.3 L543.2 93.4 L545.2 93.5 L547.2 93.6 L549.2 93.8 L551.2 93.9 L553.2 94.1 L555.2 94.2 L557.2 94.4 L559.2 94.5 L561.2 94.7 L563.2 94.8 L565.2 95 L567.2 95.2 L569.2 95.3 L571.2 95.5 L573.2 95.7 L575.2 95.8 L577.2 96 L579.2 96.2 L581.2 96.4 L583.2 96.6 L585.2 96.8 L587.2 97 L589.2 97.2 L591.2 97.4 L593.2 97.6 L595.2 97.8 L597.2 98 L599.2 98.2 L601.2 98.4 L603.2 98.6 L605.2 98.9 L607.2 99.1 L609.2 99.3 L611.2 99.6 L613.2 99.8 L615.2 100.1 L617.2 100.3 L619.2 100.6 L621.2 100.8 L623.2 101.1 L625.2 101.4 L627.2 101.7 L629.2 101.9 L631.2 102.2 L633.2 102.5 L635.2 102.8 L637.2 103.1 L639.2 103.4 L641.2 103.7 L643.2 104 L645.2 104.3 L647.2 104.7 L649.2 105 L651.2 105.3 L653.2 105.7 L655.2 106 L657.2 106.4 L659.2 106.7 L661.2 107.1 L663.2 107.5 L665.2 107.8 L667.2 108.2 L669.2 108.6 L671.2 109 L673.2 109.4 L675.2 109.8 L677.2 110.2 L679.2 110.6 L681.2 111 L683.2 111.5 L685.2 111.9 L687.2 112.4 L689.2 112.8 L691.2 113.3 L693.2 113.7 L695.2 114.2 L697.2 114.7 L699.2 115.2 L701.2 115.7 L703.2 116.2 L705.2 116.7 L707.2 117.2 L709.2 117.7 L711.2 118.3 L713.2 118.8 L715.2 119.3 L717.2 119.9 L719.2 120.5 L721.2 121 L723.2 121.6 L725.2 122.2 L727.2 122.8 L729.2 123.4 L731.2 124.1 L733.2 124.7 L735.2 125.3 L737.2 126 L739.2 126.6 L741.2 127.3 L743.2 128 L745.2 128.6 L747.2 129.3 L749.2 130 L751.2 130.8 L753.2 131.5 L755.2 132.2 L757.2 133 L759.2 133.7 L761.2 134.5 L763.2 135.3 L765.2 136.1 L767.2 136.9 L769.2 137.7 L771.2 138.5 L773.2 139.4 L775.2 140.2 L777.2 141.1 L779.2 141.9 L781.2 142.8 L783.2 143.7 L785.2 144.6 L787.2 145.6 L789.2 146.5 L791.2 147.4 L793.2 148.4 L795.2 149.4 L797.2 150.4 L799.2 151.4 L801.2 152.4 L803.2 153.4 L805.2 154.5 L807.2 155.5 L809.2 156.6 L811.2 157.7 L813.2 158.8 L815.2 159.9 L817.2 161.1 L819.2 162.2 L821.2 163.4 L823.2 164.5 L825.2 165.7 L827.2 167 L829.2 168.2 L831.2 169.4 L833.2 170.7 L835.2 172 L837.2 173.3 L839.2 174.6 L841.2 175.9 L843.2 177.2 L845.2 178.6 L847.2 180 L849.2 181.4 L851.2 182.8 L853.2 184.2 L855.2 185.7 L857.2 187.1 L859.2 188.6 L861.2 190.1 L863.2 191.6 L865.2 193.2 L867.2 194.7 L869.2 196.3 L871.2 197.9 L873.2 199.5 L875.2 201.2 L877.2 202.8 L879.2 204.5 L881.2 206.2 L883.2 207.9 L885.2 209.7 L887.2 211.4 L889.2 213.2 L891.2 215 L893.2 216.8 L895.2 218.6 L897.2 220.5 L899.2 222.4 L901.2 224.3 L903.2 226.2 L905.2 228.1 L907.2 230.1 L909.2 232.1 L911.2 234.1 L913.2 236.1 L915.2 238.2 L917.2 240.2 L919.2 242.3 L921.2 244.4 L923.2 246.5 L925.2 248.7 L925.2 546.1 L923.2 544 L921.2 541.9 L919.2 539.8 L917.2 537.7 L915.2 535.4 L913.2 533.2 L911.2 530.9 L909.2 528.6 L907.2 526.2 L905.2 523.8 L903.2 521.3 L901.2 518.8 L899.2 516.3 L897.2 513.7 L895.2 511 L893.2 508.4 L891.2 505.6 L889.2 502.9 L887.2 500.1 L885.2 497.2 L883.2 494.3 L881.2 491.4 L879.2 488.4 L877.2 485.4 L875.2 482.4 L873.2 479.3 L871.2 476.1 L869.2 473 L867.2 469.7 L865.2 466.5 L863.2 463.2 L861.2 459.9 L859.2 456.5 L857.2 453.1 L855.2 449.7 L853.2 446.2 L851.2 442.7 L849.2 439.2 L847.2 435.6 L845.2 432.1 L843.2 428.5 L841.2 424.8 L839.2 421.1 L837.2 417.5 L835.2 413.8 L833.2 410 L831.2 406.3 L829.2 402.5 L827.2 398.7 L825.2 394.9 L823.2 391.1 L821.2 387.3 L819.2 383.4 L817.2 379.6 L815.2 375.7 L813.2 371.9 L811.2 368 L809.2 364.2 L807.2 360.3 L805.2 356.4 L803.2 352.6 L801.2 348.7 L799.2 344.9 L797.2 341 L795.2 337.2 L793.2 333.4 L791.2 329.6 L789.2 325.8 L787.2 322 L785.2 318.2 L783.2 314.5 L781.2 310.7 L779.2 307 L777.2 303.3 L775.2 299.7 L773.2 296 L771.2 292.4 L769.2 288.8 L767.2 285.3 L765.2 281.8 L763.2 278.3 L761.2 274.8 L759.2 271.4 L757.2 268 L755.2 264.6 L753.2 261.3 L751.2 258 L749.2 254.8 L747.2 251.5 L745.2 248.4 L743.2 245.2 L741.2 242.1 L739.2 239.1 L737.2 236.1 L735.2 233.1 L733.2 230.1 L731.2 227.3 L729.2 224.4 L727.2 221.6 L725.2 218.8 L723.2 216.1 L721.2 213.4 L719.2 210.8 L717.2 208.2 L715.2 205.6 L713.2 203.1 L711.2 200.7 L709.2 198.2 L707.2 195.8 L705.2 193.5 L703.2 191.2 L701.2 188.9 L699.2 186.7 L697.2 184.6 L695.2 182.4 L693.2 180.3 L691.2 178.3 L689.2 176.3 L687.2 174.3 L685.2 172.3 L683.2 170.4 L681.2 168.6 L679.2 166.8 L677.2 165 L675.2 163.2 L673.2 161.5 L671.2 159.8 L669.2 158.2 L667.2 156.6 L665.2 155 L663.2 153.5 L661.2 152 L659.2 150.5 L657.2 149.1 L655.2 147.7 L653.2 146.3 L651.2 144.9 L649.2 143.6 L647.2 142.3 L645.2 141.1 L643.2 139.9 L641.2 138.7 L639.2 137.5 L637.2 136.3 L635.2 135.2 L633.2 134.1 L631.2 133.1 L629.2 132 L627.2 131 L625.2 130 L623.2 129 L621.2 128.1 L619.2 127.1 L617.2 126.2 L615.2 125.4 L613.2 124.5 L611.2 123.7 L609.2 122.8 L607.2 122 L605.2 121.2 L603.2 120.5 L601.2 119.7 L599.2 119 L597.2 118.3 L595.2 117.6 L593.2 116.9 L591.2 116.3 L589.2 115.6 L587.2 115 L585.2 114.4 L583.2 113.8 L581.2 113.2 L579.2 112.6 L577.2 112.1 L575.2 111.5 L573.2 111 L571.2 110.5 L569.2 110 L567.2 109.5 L565.2 109 L563.2 108.5 L561.2 108.1 L559.2 107.6 L557.2 107.2 L555.2 106.8 L553.2 106.4 L551.2 106 L549.2 105.6 L547.2 105.2 L545.2 104.8 L543.2 104.5 L541.2 104.1 L539.2 103.8 L537.2 103.4 L535.2 103.1 L533.2 102.8 L531.2 102.5 L529.2 102.1 L527.2 101.8 L525.2 101.6 L523.2 101.3 L521.2 101 L519.2 100.7 L517.2 100.5 L515.2 100.2 L513.2 99.9 L511.2 99.7 L509.2 99.5 L507.2 99.2 L505.2 99 L503.2 98.8 L501.2 98.6 L499.2 98.3 L497.2 98.1 L495.2 97.9 L493.2 97.7 L491.2 97.5 L489.2 97.4 L487.2 97.2 L485.2 97 L483.2 96.8 L481.2 96.6 L479.2 96.5 L477.2 96.3 L475.2 96.2 L473.2 96 L471.2 95.8 L469.2 95.7 L467.2 95.6 L465.2 95.4 L463.2 95.3 L461.2 95.1 L459.2 95 L457.2 94.9 L455.2 94.8 L453.2 94.6 L451.2 94.5 L449.2 94.4 L447.2 94.3 L445.2 94.2 L443.2 94.1 L441.2 94 L439.2 93.9 L437.2 93.8 L435.2 93.7 L433.2 93.6 L431.2 93.5 L429.2 93.4 L427.2 93.3 L425.2 93.2 L423.2 93.1 L421.2 93 L419.2 92.9 L417.2 92.9 L415.2 92.8 L413.2 92.7 L411.2 92.6 L409.2 92.6 L407.2 92.5 L405.2 92.4 L403.2 92.4 L401.2 92.3 L399.2 92.2 L397.2 92.2 L395.2 92.1 L393.2 92 L391.2 92 L389.2 91.9 L387.2 91.9 L385.2 91.8 L383.2 91.8 L381.2 91.7 L379.2 91.6 L377.2 91.6 L375.2 91.5 L373.2 91.5 L371.2 91.5 L369.2 91.4 L367.2 91.4 L365.2 91.3 L363.2 91.3 L361.2 91.2 L359.2 91.2 L357.2 91.2 L355.2 91.1 L353.2 91.1 L351.2 91 L349.2 91 L347.2 91 L345.2 90.9 L343.2 90.9 L341.2 90.9 L339.2 90.8 L337.2 90.8 L335.2 90.8 L333.2 90.7 L331.2 90.7 L329.2 90.7 L327.2 90.7 L325.2 90.6 L323.2 90.6 L321.2 90.6 L319.2 90.6 L317.2 90.5 L315.2 90.5 L313.2 90.5 L311.2 90.5 L309.2 90.5 L307.2 90.4 L305.2 90.4 L303.2 90.4 L301.2 90.4 L299.2 90.4 L297.2 90.3 L295.2 90.3 L293.2 90.3 L291.2 90.3 L289.2 90.3 L287.2 90.3 L285.2 90.2 L283.2 90.2 L281.2 90.2 L279.2 90.2 L277.2 90.2 L275.2 90.2 L273.2 90.2 L271.2 90.2 L269.2 90.1 L267.2 90.1 L265.2 90.1 L263.2 90.1 L261.2 90.1 L259.2 90.1 L257.2 90.1 L255.2 90.1 L253.2 90.1 L251.2 90.1 L249.2 90.1 L247.2 90.1 L245.2 90.1 L243.2 90.1 L241.2 90 L239.2 90 L237.2 90 L235.2 90 L233.2 90 L231.2 90 L229.2 90 L227.2 90 L225.2 90 L223.2 90 L221.2 90 L219.2 90 L217.2 90Z" fill="rgba(0,0,0,0.40)"/>
<path d="M217.2 87.8 L219.2 87.8 L221.2 87.8 L223.2 87.8 L225.2 87.9 L227.2 87.9 L229.2 87.9 L231.2 87.9 L233.2 87.9 L235.2 87.9 L237.2 87.9 L239.2 87.9 L241.2 87.9 L243.2 87.9 L245.2 87.9 L247.2 87.9 L249.2 87.9 L251.2 87.9 L253.2 87.9 L255.2 88 L257.2 88 L259.2 88 L261.2 88 L263.2 88 L265.2 88 L267.2 88 L269.2 88 L271.2 88 L273.2 88 L275.2 88.1 L277.2 88.1 L279.2 88.1 L281.2 88.1 L283.2 88.1 L285.2 88.1 L287.2 88.1 L289.2 88.1 L291.2 88.1 L293.2 88.2 L295.2 88.2 L297.2 88.2 L299.2 88.2 L301.2 88.2 L303.2 88.2 L305.2 88.2 L307.2 88.3 L309.2 88.3 L311.2 88.3 L313.2 88.3 L315.2 88.3 L317.2 88.3 L319.2 88.4 L321.2 88.4 L323.2 88.4 L325.2 88.4 L327.2 88.4 L329.2 88.4 L331.2 88.5 L333.2 88.5 L335.2 88.5 L337.2 88.5 L339.2 88.5 L341.2 88.6 L343.2 88.6 L345.2 88.6 L347.2 88.6 L349.2 88.7 L351.2 88.7 L353.2 88.7 L355.2 88.7 L357.2 88.8 L359.2 88.8 L361.2 88.8 L363.2 88.9 L365.2 88.9 L367.2 88.9 L369.2 88.9 L371.2 89 L373.2 89 L375.2 89 L377.2 89.1 L379.2 89.1 L381.2 89.1 L383.2 89.2 L385.2 89.2 L387.2 89.3 L389.2 89.3 L391.2 89.3 L393.2 89.4 L395.2 89.4 L397.2 89.5 L399.2 89.5 L401.2 89.5 L403.2 89.6 L405.2 89.6 L407.2 89.7 L409.2 89.7 L411.2 89.8 L413.2 89.8 L415.2 89.9 L417.2 89.9 L419.2 90 L421.2 90.1 L423.2 90.1 L425.2 90.2 L427.2 90.2 L429.2 90.3 L431.2 90.4 L433.2 90.4 L435.2 90.5 L437.2 90.6 L439.2 90.6 L441.2 90.7 L443.2 90.8 L445.2 90.8 L447.2 90.9 L449.2 91 L451.2 91.1 L453.2 91.2 L455.2 91.2 L457.2 91.3 L459.2 91.4 L461.2 91.5 L463.2 91.6 L465.2 91.7 L467.2 91.8 L469.2 91.9 L471.2 92 L473.2 92.1 L475.2 92.2 L477.2 92.3 L479.2 92.4 L481.2 92.5 L483.2 92.6 L485.2 92.7 L487.2 92.9 L489.2 93 L491.2 93.1 L493.2 93.2 L495.2 93.4 L497.2 93.5 L499.2 93.6 L501.2 93.8 L503.2 93.9 L505.2 94.1 L507.2 94.2 L509.2 94.4 L511.2 94.5 L513.2 94.7 L515.2 94.9 L517.2 95 L519.2 95.2 L521.2 95.4 L523.2 95.6 L525.2 95.8 L527.2 95.9 L529.2 96.1 L531.2 96.3 L533.2 96.5 L535.2 96.7 L537.2 97 L539.2 97.2 L541.2 97.4 L543.2 97.6 L545.2 97.8 L547.2 98.1 L549.2 98.3 L551.2 98.6 L553.2 98.8 L555.2 99.1 L557.2 99.3 L559.2 99.6 L561.2 99.9 L563.2 100.2 L565.2 100.5 L567.2 100.8 L569.2 101.1 L571.2 101.4 L573.2 101.7 L575.2 102 L577.2 102.3 L579.2 102.7 L581.2 103 L583.2 103.4 L585.2 103.7 L587.2 104.1 L589.2 104.5 L591.2 104.9 L593.2 105.3 L595.2 105.7 L597.2 106.1 L599.2 106.5 L601.2 106.9 L603.2 107.4 L605.2 107.8 L607.2 108.3 L609.2 108.7 L611.2 109.2 L613.2 109.7 L615.2 110.2 L617.2 110.7 L619.2 111.2 L621.2 111.8 L623.2 112.3 L625.2 112.9 L627.2 113.4 L629.2 114 L631.2 114.6 L633.2 115.2 L635.2 115.8 L637.2 116.4 L639.2 117.1 L641.2 117.7 L643.2 118.4 L645.2 119.1 L647.2 119.8 L649.2 120.5 L651.2 121.2 L653.2 122 L655.2 122.7 L657.2 123.5 L659.2 124.3 L661.2 125.1 L663.2 125.9 L665.2 126.8 L667.2 127.6 L669.2 128.5 L671.2 129.4 L673.2 130.3 L675.2 131.2 L677.2 132.2 L679.2 133.1 L681.2 134.1 L683.2 135.1 L685.2 136.1 L687.2 137.2 L689.2 138.2 L691.2 139.3 L693.2 140.4 L695.2 141.5 L697.2 142.6 L699.2 143.8 L701.2 145 L703.2 146.2 L705.2 147.4 L707.2 148.7 L709.2 150 L711.2 151.3 L713.2 152.6 L715.2 153.9 L717.2 155.3 L719.2 156.7 L721.2 158.1 L723.2 159.5 L725.2 161 L727.2 162.5 L729.2 164 L731.2 165.5 L733.2 167.1 L735.2 168.7 L737.2 170.3 L739.2 172 L741.2 173.7 L743.2 175.4 L745.2 177.1 L747.2 178.8 L749.2 180.6 L751.2 182.4 L753.2 184.3 L755.2 186.1 L757.2 188 L759.2 189.9 L761.2 191.9 L763.2 193.9 L765.2 195.9 L767.2 197.9 L769.2 200 L771.2 202.1 L773.2 204.2 L775.2 206.3 L777.2 208.5 L779.2 210.7 L781.2 212.9 L783.2 215.2 L785.2 217.5 L787.2 219.8 L789.2 222.1 L791.2 224.5 L793.2 226.9 L795.2 229.4 L797.2 231.8 L799.2 234.3 L801.2 236.8 L803.2 239.3 L805.2 241.9 L807.2 244.5 L809.2 247.1 L811.2 249.7 L813.2 252.4 L815.2 255.1 L817.2 257.8 L819.2 260.5 L821.2 263.3 L823.2 266.1 L825.2 268.9 L827.2 271.7 L829.2 274.6 L831.2 277.4 L833.2 280.3 L835.2 283.2 L837.2 286.2 L839.2 289.1 L841.2 292.1 L843.2 295.1 L845.2 298.1 L847.2 301.1 L849.2 304.1 L851.2 307.2 L853.2 310.2 L855.2 313.3 L857.2 316.4 L859.2 319.5 L861.2 322.6 L863.2 325.7 L865.2 328.8 L867.2 332 L869.2 335.1 L871.2 338.3 L873.2 341.4 L875.2 344.6 L877.2 347.8 L879.2 350.9 L881.2 354.1 L883.2 357.3 L885.2 360.4 L887.2 363.6 L889.2 366.8 L891.2 370 L893.2 373.1 L895.2 376.3 L897.2 379.5 L899.2 382.6 L901.2 385.8 L903.2 388.9 L905.2 392 L907.2 395.2 L909.2 398.3 L911.2 401.4 L913.2 404.5 L915.2 407.6 L917.2 410.6 L919.2 413.7 L921.2 416.8 L923.2 419.8 L925.2 422.8" fill="none" stroke="#000000" stroke-width="4.3" stroke-linecap="round" stroke-dasharray="0.01 16.94"/>
<text transform="translate(890.6 121.7) scale(0.9 1)" font-size="42" font-weight="bold" fill="#9c9c9c" text-anchor="middle">a</text>
<rect x="185.5" y="686" width="752" height="588.6" fill="#fff" stroke="#000" stroke-width="2.2"/>
<line x1="213.3" y1="685" x2="213.3" y2="1275.6" stroke="#e9e9e9" stroke-width="2.4"/>
<line x1="329.4" y1="685" x2="329.4" y2="1275.6" stroke="#e9e9e9" stroke-width="2.4"/>
<line x1="445.4" y1="685" x2="445.4" y2="1275.6" stroke="#e9e9e9" stroke-width="2.4"/>
<line x1="561.5" y1="685" x2="561.5" y2="1275.6" stroke="#e9e9e9" stroke-width="2.4"/>
<line x1="677.6" y1="685" x2="677.6" y2="1275.6" stroke="#e9e9e9" stroke-width="2.4"/>
<line x1="793.7" y1="685" x2="793.7" y2="1275.6" stroke="#e9e9e9" stroke-width="2.4"/>
<line x1="909.7" y1="685" x2="909.7" y2="1275.6" stroke="#e9e9e9" stroke-width="2.4"/>
<line x1="186.5" y1="1253.3" x2="938.5" y2="1253.3" stroke="#e9e9e9" stroke-width="2.4"/>
<line x1="186.5" y1="1134.6" x2="938.5" y2="1134.6" stroke="#e9e9e9" stroke-width="2.4"/>
<line x1="186.5" y1="1015.9" x2="938.5" y2="1015.9" stroke="#e9e9e9" stroke-width="2.4"/>
<line x1="186.5" y1="897.2" x2="938.5" y2="897.2" stroke="#e9e9e9" stroke-width="2.4"/>
<line x1="186.5" y1="778.5" x2="938.5" y2="778.5" stroke="#e9e9e9" stroke-width="2.4"/>
<line x1="164" y1="1253" x2="185.5" y2="1253" stroke="#000" stroke-width="2"/>
<text x="144.6" y="1265.3" text-anchor="end" font-size="34">0</text>
<line x1="164" y1="1134.3" x2="185.5" y2="1134.3" stroke="#000" stroke-width="2"/>
<text x="144.6" y="1146.6" text-anchor="end" font-size="34">1</text>
<line x1="164" y1="1015.6" x2="185.5" y2="1015.6" stroke="#000" stroke-width="2"/>
<text x="144.6" y="1027.9" text-anchor="end" font-size="34">2</text>
<line x1="164" y1="896.9" x2="185.5" y2="896.9" stroke="#000" stroke-width="2"/>
<text x="144.6" y="909.2" text-anchor="end" font-size="34">3</text>
<line x1="164" y1="778.2" x2="185.5" y2="778.2" stroke="#000" stroke-width="2"/>
<text x="144.6" y="790.5" text-anchor="end" font-size="34">4</text>
<circle cx="213.3" cy="1253" r="4.5" fill="none" stroke="#adadad" stroke-width="1.9"/>
<circle cx="252" cy="1210" r="6" fill="none" stroke="#adadad" stroke-width="1.9"/>
<circle cx="290.7" cy="1031.6" r="7.3" fill="none" stroke="#adadad" stroke-width="1.9"/>
<circle cx="329.4" cy="1007.6" r="8.3" fill="none" stroke="#adadad" stroke-width="1.9"/>
<circle cx="368.1" cy="1025.3" r="9" fill="none" stroke="#adadad" stroke-width="1.9"/>
<circle cx="406.8" cy="998.6" r="7.3" fill="none" stroke="#adadad" stroke-width="1.9"/>
<circle cx="445.4" cy="1066" r="8.3" fill="none" stroke="#adadad" stroke-width="1.9"/>
<circle cx="484.1" cy="1030.2" r="8.3" fill="none" stroke="#adadad" stroke-width="1.9"/>
<circle cx="522.8" cy="1031.6" r="7.4" fill="none" stroke="#adadad" stroke-width="1.9"/>
<circle cx="561.5" cy="935.4" r="6" fill="none" stroke="#adadad" stroke-width="1.9"/>
<circle cx="600.2" cy="1025.3" r="7.1" fill="none" stroke="#adadad" stroke-width="1.9"/>
<circle cx="638.9" cy="815.6" r="5.5" fill="none" stroke="#adadad" stroke-width="1.9"/>
<circle cx="677.6" cy="972.9" r="6.5" fill="none" stroke="#adadad" stroke-width="1.9"/>
<circle cx="716.3" cy="1173.9" r="6.3" fill="none" stroke="#adadad" stroke-width="1.9"/>
<circle cx="755" cy="1044.7" r="7.6" fill="none" stroke="#adadad" stroke-width="1.9"/>
<circle cx="793.7" cy="1001.9" r="5.6" fill="none" stroke="#adadad" stroke-width="1.9"/>
<circle cx="832.3" cy="1158" r="5.9" fill="none" stroke="#adadad" stroke-width="1.9"/>
<circle cx="871" cy="1164.1" r="5.5" fill="none" stroke="#adadad" stroke-width="1.9"/>
<circle cx="909.7" cy="1015.6" r="3.7" fill="none" stroke="#adadad" stroke-width="1.9"/>
<path d="M213.3 1247.8 L217.8 1255.6 L208.8 1255.6Z" fill="none" stroke="#666666" stroke-width="2.1" stroke-linejoin="round"/>
<path d="M252 1246.7 L257.5 1256.2 L246.5 1256.2Z" fill="none" stroke="#666666" stroke-width="2.1" stroke-linejoin="round"/>
<path d="M290.7 1155.8 L297.8 1168.1 L283.6 1168.1Z" fill="none" stroke="#666666" stroke-width="2.1" stroke-linejoin="round"/>
<path d="M329.4 1180.3 L337.4 1194.2 L321.4 1194.2Z" fill="none" stroke="#666666" stroke-width="2.1" stroke-linejoin="round"/>
<path d="M368.1 1182.2 L376.1 1196.1 L360.1 1196.1Z" fill="none" stroke="#666666" stroke-width="2.1" stroke-linejoin="round"/>
<path d="M406.8 1165 L415.6 1180.3 L397.9 1180.3Z" fill="none" stroke="#666666" stroke-width="2.1" stroke-linejoin="round"/>
<path d="M445.4 1248.6 L449.2 1255.1 L441.7 1255.1Z" fill="none" stroke="#666666" stroke-width="2.1" stroke-linejoin="round"/>
<path d="M484.1 1076.6 L492 1090.2 L476.3 1090.2Z" fill="none" stroke="#666666" stroke-width="2.1" stroke-linejoin="round"/>
<path d="M522.8 1244.2 L530.5 1257.5 L515.2 1257.5Z" fill="none" stroke="#666666" stroke-width="2.1" stroke-linejoin="round"/>
<path d="M561.5 813.5 L568.3 825.2 L554.8 825.2Z" fill="none" stroke="#666666" stroke-width="2.1" stroke-linejoin="round"/>
<path d="M600.2 1168.7 L604.8 1176.6 L595.6 1176.6Z" fill="none" stroke="#666666" stroke-width="2.1" stroke-linejoin="round"/>
<path d="M638.9 1069.7 L644.2 1079 L633.5 1079Z" fill="none" stroke="#666666" stroke-width="2.1" stroke-linejoin="round"/>
<path d="M677.6 699.2 L684.9 711.9 L670.2 711.9Z" fill="none" stroke="#666666" stroke-width="2.1" stroke-linejoin="round"/>
<path d="M716.3 1063.7 L722.6 1074.6 L710 1074.6Z" fill="none" stroke="#666666" stroke-width="2.1" stroke-linejoin="round"/>
<path d="M755 1177.7 L761.9 1189.7 L748.1 1189.7Z" fill="none" stroke="#666666" stroke-width="2.1" stroke-linejoin="round"/>
<path d="M793.7 961.7 L799.7 972.1 L787.7 972.1Z" fill="none" stroke="#666666" stroke-width="2.1" stroke-linejoin="round"/>
<path d="M832.3 774.2 L836.9 782.2 L827.7 782.2Z" fill="none" stroke="#666666" stroke-width="2.1" stroke-linejoin="round"/>
<path d="M871 1090.2 L875.7 1098.2 L866.4 1098.2Z" fill="none" stroke="#666666" stroke-width="2.1" stroke-linejoin="round"/>
<path d="M909.7 852.6 L914.2 860.4 L905.2 860.4Z" fill="none" stroke="#666666" stroke-width="2.1" stroke-linejoin="round"/>
<rect x="208.9" y="1248.6" width="8.8" height="8.8" fill="none" stroke="#000" stroke-width="2" stroke-linejoin="round"/>
<rect x="246.2" y="1247.2" width="11.5" height="11.5" fill="none" stroke="#000" stroke-width="2" stroke-linejoin="round"/>
<rect x="285.9" y="1050.9" width="9.5" height="9.5" fill="none" stroke="#000" stroke-width="2" stroke-linejoin="round"/>
<rect x="324.4" y="1248" width="10" height="10" fill="none" stroke="#000" stroke-width="2" stroke-linejoin="round"/>
<rect x="360.9" y="1212.3" width="14.3" height="14.3" fill="none" stroke="#000" stroke-width="2" stroke-linejoin="round"/>
<rect x="401.6" y="1214.3" width="10.2" height="10.2" fill="none" stroke="#000" stroke-width="2" stroke-linejoin="round"/>
<rect x="439.5" y="1128.3" width="11.9" height="11.9" fill="none" stroke="#000" stroke-width="2" stroke-linejoin="round"/>
<rect x="477.6" y="1226.7" width="13" height="13" fill="none" stroke="#000" stroke-width="2" stroke-linejoin="round"/>
<rect x="517.8" y="1112.5" width="10.1" height="10.1" fill="none" stroke="#000" stroke-width="2" stroke-linejoin="round"/>
<rect x="557.7" y="1011.8" width="7.6" height="7.6" fill="none" stroke="#000" stroke-width="2" stroke-linejoin="round"/>
<rect x="595.2" y="909.2" width="9.9" height="9.9" fill="none" stroke="#000" stroke-width="2" stroke-linejoin="round"/>
<rect x="633.8" y="1248" width="10.1" height="10.1" fill="none" stroke="#000" stroke-width="2" stroke-linejoin="round"/>
<rect x="674.9" y="775.6" width="5.3" height="5.3" fill="none" stroke="#000" stroke-width="2" stroke-linejoin="round"/>
<rect x="710.4" y="1033.8" width="11.7" height="11.7" fill="none" stroke="#000" stroke-width="2" stroke-linejoin="round"/>
<rect x="749.8" y="1044.9" width="10.3" height="10.3" fill="none" stroke="#000" stroke-width="2" stroke-linejoin="round"/>
<rect x="788.2" y="921.1" width="10.9" height="10.9" fill="none" stroke="#000" stroke-width="2" stroke-linejoin="round"/>
<rect x="827.7" y="1090.5" width="9.2" height="9.2" fill="none" stroke="#000" stroke-width="2" stroke-linejoin="round"/>
<rect x="866.8" y="1201.3" width="8.4" height="8.4" fill="none" stroke="#000" stroke-width="2" stroke-linejoin="round"/>
<rect x="907.6" y="1250.8" width="4.3" height="4.3" fill="none" stroke="#000" stroke-width="2" stroke-linejoin="round"/>
<path d="M217.2 1100.6 L219.2 1100 L221.2 1099.3 L223.2 1098.6 L225.2 1097.9 L227.2 1097.1 L229.2 1096.3 L231.2 1095.5 L233.2 1094.7 L235.2 1093.8 L237.2 1092.9 L239.2 1092 L241.2 1091.1 L243.2 1090.1 L245.2 1089.2 L247.2 1088.2 L249.2 1087.2 L251.2 1086.2 L253.2 1085.2 L255.2 1084.1 L257.2 1083.1 L259.2 1082.1 L261.2 1081 L263.2 1079.9 L265.2 1078.9 L267.2 1077.8 L269.2 1076.7 L271.2 1075.7 L273.2 1074.6 L275.2 1073.5 L277.2 1072.5 L279.2 1071.4 L281.2 1070.3 L283.2 1069.3 L285.2 1068.2 L287.2 1067.2 L289.2 1066.1 L291.2 1065.1 L293.2 1064.1 L295.2 1063 L297.2 1062 L299.2 1061 L301.2 1060 L303.2 1059 L305.2 1058.1 L307.2 1057.1 L309.2 1056.2 L311.2 1055.2 L313.2 1054.3 L315.2 1053.4 L317.2 1052.5 L319.2 1051.6 L321.2 1050.8 L323.2 1049.9 L325.2 1049.1 L327.2 1048.3 L329.2 1047.5 L331.2 1046.7 L333.2 1046 L335.2 1045.2 L337.2 1044.4 L339.2 1043.7 L341.2 1043 L343.2 1042.2 L345.2 1041.5 L347.2 1040.7 L349.2 1040 L351.2 1039.2 L353.2 1038.5 L355.2 1037.7 L357.2 1036.9 L359.2 1036.1 L361.2 1035.3 L363.2 1034.5 L365.2 1033.6 L367.2 1032.8 L369.2 1031.9 L371.2 1031 L373.2 1030.1 L375.2 1029.1 L377.2 1028.1 L379.2 1027.1 L381.2 1026.1 L383.2 1025 L385.2 1023.9 L387.2 1022.8 L389.2 1021.7 L391.2 1020.6 L393.2 1019.5 L395.2 1018.3 L397.2 1017.2 L399.2 1016.1 L401.2 1015 L403.2 1014 L405.2 1012.9 L407.2 1011.9 L409.2 1010.9 L411.2 1010 L413.2 1009.1 L415.2 1008.2 L417.2 1007.4 L419.2 1006.6 L421.2 1005.9 L423.2 1005.2 L425.2 1004.5 L427.2 1003.8 L429.2 1003.2 L431.2 1002.6 L433.2 1002 L435.2 1001.5 L437.2 1001 L439.2 1000.4 L441.2 1000 L443.2 999.5 L445.2 999 L447.2 998.6 L449.2 998.1 L451.2 997.7 L453.2 997.3 L455.2 996.8 L457.2 996.4 L459.2 996 L461.2 995.6 L463.2 995.2 L465.2 994.7 L467.2 994.3 L469.2 993.9 L471.2 993.4 L473.2 993 L475.2 992.5 L477.2 992 L479.2 991.5 L481.2 991 L483.2 990.5 L485.2 990 L487.2 989.5 L489.2 989 L491.2 988.4 L493.2 987.9 L495.2 987.4 L497.2 986.9 L499.2 986.4 L501.2 986 L503.2 985.5 L505.2 985.1 L507.2 984.7 L509.2 984.3 L511.2 983.9 L513.2 983.5 L515.2 983.2 L517.2 982.9 L519.2 982.7 L521.2 982.5 L523.2 982.3 L525.2 982.1 L527.2 982 L529.2 981.9 L531.2 981.8 L533.2 981.8 L535.2 981.8 L537.2 981.8 L539.2 981.8 L541.2 981.9 L543.2 982 L545.2 982.1 L547.2 982.3 L549.2 982.5 L551.2 982.6 L553.2 982.9 L555.2 983.1 L557.2 983.4 L559.2 983.6 L561.2 984 L563.2 984.3 L565.2 984.6 L567.2 985 L569.2 985.4 L571.2 985.8 L573.2 986.2 L575.2 986.6 L577.2 987 L579.2 987.5 L581.2 988 L583.2 988.5 L585.2 989 L587.2 989.5 L589.2 990 L591.2 990.5 L593.2 991.1 L595.2 991.6 L597.2 992.2 L599.2 992.8 L601.2 993.4 L603.2 994 L605.2 994.6 L607.2 995.2 L609.2 995.8 L611.2 996.4 L613.2 997 L615.2 997.7 L617.2 998.3 L619.2 999 L621.2 999.6 L623.2 1000.3 L625.2 1000.9 L627.2 1001.6 L629.2 1002.3 L631.2 1003 L633.2 1003.7 L635.2 1004.4 L637.2 1005.1 L639.2 1005.8 L641.2 1006.6 L643.2 1007.3 L645.2 1008 L647.2 1008.8 L649.2 1009.5 L651.2 1010.3 L653.2 1011.1 L655.2 1011.8 L657.2 1012.6 L659.2 1013.4 L661.2 1014.2 L663.2 1015 L665.2 1015.8 L667.2 1016.6 L669.2 1017.4 L671.2 1018.2 L673.2 1019 L675.2 1019.8 L677.2 1020.7 L679.2 1021.5 L681.2 1022.4 L683.2 1023.2 L685.2 1024.1 L687.2 1024.9 L689.2 1025.8 L691.2 1026.7 L693.2 1027.5 L695.2 1028.4 L697.2 1029.3 L699.2 1030.2 L701.2 1031.1 L703.2 1032 L705.2 1032.9 L707.2 1033.8 L709.2 1034.7 L711.2 1035.6 L713.2 1036.6 L715.2 1037.5 L717.2 1038.4 L719.2 1039.4 L721.2 1040.3 L723.2 1041.3 L725.2 1042.2 L727.2 1043.2 L729.2 1044.1 L731.2 1045.1 L733.2 1046 L735.2 1047 L737.2 1048 L739.2 1049 L741.2 1049.9 L743.2 1050.9 L745.2 1051.9 L747.2 1052.9 L749.2 1053.9 L751.2 1054.9 L753.2 1055.9 L755.2 1056.9 L757.2 1057.9 L759.2 1058.9 L761.2 1059.9 L763.2 1061 L765.2 1062 L767.2 1063 L769.2 1064 L771.2 1065.1 L773.2 1066.1 L775.2 1067.1 L777.2 1068.2 L779.2 1069.2 L781.2 1070.2 L783.2 1071.3 L785.2 1072.3 L787.2 1073.4 L789.2 1074.4 L791.2 1075.5 L793.2 1076.6 L795.2 1077.6 L797.2 1078.7 L799.2 1079.7 L801.2 1080.8 L803.2 1081.9 L805.2 1082.9 L807.2 1084 L809.2 1085.1 L811.2 1086.1 L813.2 1087.2 L815.2 1088.3 L817.2 1089.4 L819.2 1090.4 L821.2 1091.5 L823.2 1092.6 L825.2 1093.7 L827.2 1094.7 L829.2 1095.8 L831.2 1096.9 L833.2 1098 L835.2 1099 L837.2 1100.1 L839.2 1101.2 L841.2 1102.3 L843.2 1103.3 L845.2 1104.4 L847.2 1105.5 L849.2 1106.6 L851.2 1107.6 L853.2 1108.7 L855.2 1109.8 L857.2 1110.9 L859.2 1111.9 L861.2 1113 L863.2 1114.1 L865.2 1115.1 L867.2 1116.2 L869.2 1117.2 L871.2 1118.3 L873.2 1119.3 L875.2 1120.3 L877.2 1121.3 L879.2 1122.3 L881.2 1123.3 L883.2 1124.3 L885.2 1125.2 L887.2 1126.1 L889.2 1127.1 L891.2 1127.9 L893.2 1128.8 L895.2 1129.7 L897.2 1130.5 L899.2 1131.3 L901.2 1132.1 L903.2 1132.8 L905.2 1133.5 L907.2 1134.2 L909.2 1134.9 L911.2 1135.5 L913.2 1136.1 L915.2 1136.7 L917.2 1137.2 L919.2 1137.7 L921.2 1138.1 L923.2 1138.5 L925.2 1138.9 L925.2 1236.2 L923.2 1236 L921.2 1235.7 L919.2 1235.5 L917.2 1235.2 L915.2 1235 L913.2 1234.7 L911.2 1234.4 L909.2 1234.1 L907.2 1233.7 L905.2 1233.4 L903.2 1233.1 L901.2 1232.7 L899.2 1232.3 L897.2 1231.9 L895.2 1231.5 L893.2 1231.1 L891.2 1230.7 L889.2 1230.3 L887.2 1229.8 L885.2 1229.4 L883.2 1228.9 L881.2 1228.4 L879.2 1227.9 L877.2 1227.4 L875.2 1226.9 L873.2 1226.3 L871.2 1225.8 L869.2 1225.2 L867.2 1224.6 L865.2 1224 L863.2 1223.4 L861.2 1222.8 L859.2 1222.2 L857.2 1221.6 L855.2 1220.9 L853.2 1220.2 L851.2 1219.6 L849.2 1218.9 L847.2 1218.2 L845.2 1217.5 L843.2 1216.7 L841.2 1216 L839.2 1215.2 L837.2 1214.5 L835.2 1213.7 L833.2 1212.9 L831.2 1212.1 L829.2 1211.3 L827.2 1210.5 L825.2 1209.7 L823.2 1208.8 L821.2 1208 L819.2 1207.2 L817.2 1206.3 L815.2 1205.4 L813.2 1204.5 L811.2 1203.7 L809.2 1202.8 L807.2 1201.9 L805.2 1201 L803.2 1200.1 L801.2 1199.1 L799.2 1198.2 L797.2 1197.3 L795.2 1196.3 L793.2 1195.4 L791.2 1194.5 L789.2 1193.5 L787.2 1192.5 L785.2 1191.6 L783.2 1190.6 L781.2 1189.7 L779.2 1188.7 L777.2 1187.7 L775.2 1186.7 L773.2 1185.8 L771.2 1184.8 L769.2 1183.8 L767.2 1182.8 L765.2 1181.8 L763.2 1180.8 L761.2 1179.8 L759.2 1178.9 L757.2 1177.9 L755.2 1176.9 L753.2 1175.9 L751.2 1174.9 L749.2 1173.9 L747.2 1172.9 L745.2 1171.9 L743.2 1170.9 L741.2 1170 L739.2 1169 L737.2 1168 L735.2 1167 L733.2 1166 L731.2 1165 L729.2 1164 L727.2 1163.1 L725.2 1162.1 L723.2 1161.1 L721.2 1160.1 L719.2 1159.2 L717.2 1158.2 L715.2 1157.3 L713.2 1156.3 L711.2 1155.3 L709.2 1154.4 L707.2 1153.4 L705.2 1152.5 L703.2 1151.5 L701.2 1150.6 L699.2 1149.7 L697.2 1148.7 L695.2 1147.8 L693.2 1146.9 L691.2 1146 L689.2 1145.1 L687.2 1144.2 L685.2 1143.3 L683.2 1142.4 L681.2 1141.5 L679.2 1140.6 L677.2 1139.7 L675.2 1138.8 L673.2 1138 L671.2 1137.1 L669.2 1136.3 L667.2 1135.4 L665.2 1134.6 L663.2 1133.7 L661.2 1132.9 L659.2 1132.1 L657.2 1131.3 L655.2 1130.5 L653.2 1129.7 L651.2 1128.9 L649.2 1128.1 L647.2 1127.4 L645.2 1126.6 L643.2 1125.8 L641.2 1125.1 L639.2 1124.4 L637.2 1123.6 L635.2 1122.9 L633.2 1122.2 L631.2 1121.5 L629.2 1120.8 L627.2 1120.2 L625.2 1119.5 L623.2 1118.8 L621.2 1118.2 L619.2 1117.6 L617.2 1116.9 L615.2 1116.3 L613.2 1115.7 L611.2 1115.1 L609.2 1114.5 L607.2 1114 L605.2 1113.4 L603.2 1112.9 L601.2 1112.3 L599.2 1111.8 L597.2 1111.3 L595.2 1110.8 L593.2 1110.3 L591.2 1109.9 L589.2 1109.4 L587.2 1109 L585.2 1108.5 L583.2 1108.1 L581.2 1107.7 L579.2 1107.3 L577.2 1106.9 L575.2 1106.6 L573.2 1106.2 L571.2 1105.9 L569.2 1105.5 L567.2 1105.2 L565.2 1104.9 L563.2 1104.6 L561.2 1104.3 L559.2 1104.1 L557.2 1103.8 L555.2 1103.6 L553.2 1103.3 L551.2 1103.1 L549.2 1102.9 L547.2 1102.7 L545.2 1102.5 L543.2 1102.4 L541.2 1102.2 L539.2 1102.1 L537.2 1101.9 L535.2 1101.8 L533.2 1101.7 L531.2 1101.6 L529.2 1101.5 L527.2 1101.4 L525.2 1101.4 L523.2 1101.3 L521.2 1101.3 L519.2 1101.3 L517.2 1101.3 L515.2 1101.3 L513.2 1101.3 L511.2 1101.3 L509.2 1101.4 L507.2 1101.4 L505.2 1101.5 L503.2 1101.5 L501.2 1101.6 L499.2 1101.7 L497.2 1101.8 L495.2 1102 L493.2 1102.1 L491.2 1102.2 L489.2 1102.4 L487.2 1102.6 L485.2 1102.8 L483.2 1102.9 L481.2 1103.2 L479.2 1103.4 L477.2 1103.6 L475.2 1103.8 L473.2 1104.1 L471.2 1104.4 L469.2 1104.6 L467.2 1104.9 L465.2 1105.2 L463.2 1105.6 L461.2 1105.9 L459.2 1106.2 L457.2 1106.6 L455.2 1106.9 L453.2 1107.3 L451.2 1107.7 L449.2 1108.1 L447.2 1108.5 L445.2 1108.9 L443.2 1109.3 L441.2 1109.8 L439.2 1110.2 L437.2 1110.7 L435.2 1111.2 L433.2 1111.7 L431.2 1112.2 L429.2 1112.7 L427.2 1113.2 L425.2 1113.8 L423.2 1114.3 L421.2 1114.9 L419.2 1115.4 L417.2 1116 L415.2 1116.6 L413.2 1117.3 L411.2 1117.9 L409.2 1118.5 L407.2 1119.2 L405.2 1119.8 L403.2 1120.5 L401.2 1121.2 L399.2 1121.9 L397.2 1122.6 L395.2 1123.3 L393.2 1124.1 L391.2 1124.8 L389.2 1125.6 L387.2 1126.4 L385.2 1127.2 L383.2 1128 L381.2 1128.8 L379.2 1129.6 L377.2 1130.5 L375.2 1131.3 L373.2 1132.2 L371.2 1133.1 L369.2 1134 L367.2 1134.9 L365.2 1135.8 L363.2 1136.7 L361.2 1137.7 L359.2 1138.6 L357.2 1139.6 L355.2 1140.5 L353.2 1141.5 L351.2 1142.5 L349.2 1143.5 L347.2 1144.5 L345.2 1145.5 L343.2 1146.5 L341.2 1147.6 L339.2 1148.6 L337.2 1149.6 L335.2 1150.7 L333.2 1151.7 L331.2 1152.8 L329.2 1153.9 L327.2 1154.9 L325.2 1156 L323.2 1157.1 L321.2 1158.2 L319.2 1159.3 L317.2 1160.3 L315.2 1161.4 L313.2 1162.5 L311.2 1163.6 L309.2 1164.7 L307.2 1165.8 L305.2 1167 L303.2 1168.1 L301.2 1169.2 L299.2 1170.3 L297.2 1171.4 L295.2 1172.5 L293.2 1173.6 L291.2 1174.7 L289.2 1175.8 L287.2 1176.9 L285.2 1178 L283.2 1179.1 L281.2 1180.2 L279.2 1181.3 L277.2 1182.4 L275.2 1183.5 L273.2 1184.6 L271.2 1185.7 L269.2 1186.8 L267.2 1187.9 L265.2 1188.9 L263.2 1190 L261.2 1191.1 L259.2 1192.1 L257.2 1193.2 L255.2 1194.2 L253.2 1195.2 L251.2 1196.3 L249.2 1197.3 L247.2 1198.3 L245.2 1199.3 L243.2 1200.3 L241.2 1201.3 L239.2 1202.3 L237.2 1203.3 L235.2 1204.2 L233.2 1205.2 L231.2 1206.1 L229.2 1207 L227.2 1208 L225.2 1208.9 L223.2 1209.8 L221.2 1210.6 L219.2 1211.5 L217.2 1212.4Z" fill="rgba(179,179,179,0.27)"/>
<path d="M217.2 1166.6 L219.2 1165.6 L221.2 1164.6 L223.2 1163.6 L225.2 1162.6 L227.2 1161.6 L229.2 1160.6 L231.2 1159.6 L233.2 1158.5 L235.2 1157.5 L237.2 1156.5 L239.2 1155.4 L241.2 1154.4 L243.2 1153.3 L245.2 1152.3 L247.2 1151.2 L249.2 1150.2 L251.2 1149.1 L253.2 1148 L255.2 1147 L257.2 1145.9 L259.2 1144.8 L261.2 1143.8 L263.2 1142.7 L265.2 1141.6 L267.2 1140.5 L269.2 1139.4 L271.2 1138.4 L273.2 1137.3 L275.2 1136.2 L277.2 1135.1 L279.2 1134 L281.2 1132.9 L283.2 1131.8 L285.2 1130.7 L287.2 1129.6 L289.2 1128.5 L291.2 1127.4 L293.2 1126.3 L295.2 1125.3 L297.2 1124.2 L299.2 1123.1 L301.2 1122 L303.2 1120.9 L305.2 1119.8 L307.2 1118.7 L309.2 1117.6 L311.2 1116.5 L313.2 1115.4 L315.2 1114.3 L317.2 1113.3 L319.2 1112.2 L321.2 1111.1 L323.2 1110 L325.2 1109 L327.2 1107.9 L329.2 1106.8 L331.2 1105.7 L333.2 1104.7 L335.2 1103.6 L337.2 1102.6 L339.2 1101.5 L341.2 1100.5 L343.2 1099.4 L345.2 1098.4 L347.2 1097.4 L349.2 1096.3 L351.2 1095.3 L353.2 1094.3 L355.2 1093.3 L357.2 1092.3 L359.2 1091.3 L361.2 1090.3 L363.2 1089.3 L365.2 1088.3 L367.2 1087.3 L369.2 1086.4 L371.2 1085.4 L373.2 1084.5 L375.2 1083.5 L377.2 1082.6 L379.2 1081.6 L381.2 1080.7 L383.2 1079.8 L385.2 1078.9 L387.2 1078 L389.2 1077.1 L391.2 1076.2 L393.2 1075.4 L395.2 1074.5 L397.2 1073.6 L399.2 1072.8 L401.2 1072 L403.2 1071.1 L405.2 1070.3 L407.2 1069.5 L409.2 1068.7 L411.2 1067.9 L413.2 1067.1 L415.2 1066.4 L417.2 1065.6 L419.2 1064.9 L421.2 1064.2 L423.2 1063.4 L425.2 1062.7 L427.2 1062 L429.2 1061.4 L431.2 1060.7 L433.2 1060 L435.2 1059.4 L437.2 1058.7 L439.2 1058.1 L441.2 1057.5 L443.2 1056.9 L445.2 1056.3 L447.2 1055.8 L449.2 1055.2 L451.2 1054.6 L453.2 1054.1 L455.2 1053.6 L457.2 1053.1 L459.2 1052.6 L461.2 1052.1 L463.2 1051.7 L465.2 1051.2 L467.2 1050.8 L469.2 1050.4 L471.2 1050 L473.2 1049.6 L475.2 1049.2 L477.2 1048.8 L479.2 1048.5 L481.2 1048.2 L483.2 1047.8 L485.2 1047.5 L487.2 1047.2 L489.2 1047 L491.2 1046.7 L493.2 1046.5 L495.2 1046.2 L497.2 1046 L499.2 1045.8 L501.2 1045.7 L503.2 1045.5 L505.2 1045.3 L507.2 1045.2 L509.2 1045.1 L511.2 1045 L513.2 1044.9 L515.2 1044.8 L517.2 1044.8 L519.2 1044.7 L521.2 1044.7 L523.2 1044.7 L525.2 1044.7 L527.2 1044.7 L529.2 1044.8 L531.2 1044.8 L533.2 1044.9 L535.2 1045 L537.2 1045.1 L539.2 1045.2 L541.2 1045.3 L543.2 1045.5 L545.2 1045.6 L547.2 1045.8 L549.2 1046 L551.2 1046.2 L553.2 1046.4 L555.2 1046.7 L557.2 1046.9 L559.2 1047.2 L561.2 1047.5 L563.2 1047.8 L565.2 1048.1 L567.2 1048.4 L569.2 1048.8 L571.2 1049.1 L573.2 1049.5 L575.2 1049.9 L577.2 1050.3 L579.2 1050.7 L581.2 1051.1 L583.2 1051.6 L585.2 1052 L587.2 1052.5 L589.2 1053 L591.2 1053.5 L593.2 1054 L595.2 1054.5 L597.2 1055.1 L599.2 1055.6 L601.2 1056.2 L603.2 1056.8 L605.2 1057.4 L607.2 1058 L609.2 1058.6 L611.2 1059.2 L613.2 1059.9 L615.2 1060.5 L617.2 1061.2 L619.2 1061.9 L621.2 1062.6 L623.2 1063.3 L625.2 1064 L627.2 1064.7 L629.2 1065.5 L631.2 1066.2 L633.2 1067 L635.2 1067.8 L637.2 1068.5 L639.2 1069.3 L641.2 1070.1 L643.2 1070.9 L645.2 1071.8 L647.2 1072.6 L649.2 1073.4 L651.2 1074.3 L653.2 1075.2 L655.2 1076 L657.2 1076.9 L659.2 1077.8 L661.2 1078.7 L663.2 1079.6 L665.2 1080.5 L667.2 1081.4 L669.2 1082.4 L671.2 1083.3 L673.2 1084.3 L675.2 1085.2 L677.2 1086.2 L679.2 1087.1 L681.2 1088.1 L683.2 1089.1 L685.2 1090.1 L687.2 1091.1 L689.2 1092.1 L691.2 1093.1 L693.2 1094.1 L695.2 1095.1 L697.2 1096.1 L699.2 1097.1 L701.2 1098.2 L703.2 1099.2 L705.2 1100.3 L707.2 1101.3 L709.2 1102.3 L711.2 1103.4 L713.2 1104.5 L715.2 1105.5 L717.2 1106.6 L719.2 1107.7 L721.2 1108.7 L723.2 1109.8 L725.2 1110.9 L727.2 1111.9 L729.2 1113 L731.2 1114.1 L733.2 1115.2 L735.2 1116.3 L737.2 1117.4 L739.2 1118.5 L741.2 1119.6 L743.2 1120.6 L745.2 1121.7 L747.2 1122.8 L749.2 1123.9 L751.2 1125 L753.2 1126.1 L755.2 1127.2 L757.2 1128.3 L759.2 1129.4 L761.2 1130.5 L763.2 1131.6 L765.2 1132.7 L767.2 1133.8 L769.2 1134.9 L771.2 1136 L773.2 1137 L775.2 1138.1 L777.2 1139.2 L779.2 1140.3 L781.2 1141.4 L783.2 1142.5 L785.2 1143.5 L787.2 1144.6 L789.2 1145.7 L791.2 1146.7 L793.2 1147.8 L795.2 1148.9 L797.2 1149.9 L799.2 1151 L801.2 1152.1 L803.2 1153.1 L805.2 1154.2 L807.2 1155.2 L809.2 1156.2 L811.2 1157.3 L813.2 1158.3 L815.2 1159.3 L817.2 1160.4 L819.2 1161.4 L821.2 1162.4 L823.2 1163.4 L825.2 1164.4 L827.2 1165.4 L829.2 1166.4 L831.2 1167.4 L833.2 1168.4 L835.2 1169.4 L837.2 1170.3 L839.2 1171.3 L841.2 1172.3 L843.2 1173.2 L845.2 1174.2 L847.2 1175.1 L849.2 1176.1 L851.2 1177 L853.2 1178 L855.2 1178.9 L857.2 1179.8 L859.2 1180.7 L861.2 1181.6 L863.2 1182.5 L865.2 1183.4 L867.2 1184.3 L869.2 1185.2 L871.2 1186.1 L873.2 1187 L875.2 1187.8 L877.2 1188.7 L879.2 1189.5 L881.2 1190.4 L883.2 1191.2 L885.2 1192 L887.2 1192.9 L889.2 1193.7 L891.2 1194.5 L893.2 1195.3 L895.2 1196.1 L897.2 1196.9 L899.2 1197.7 L901.2 1198.4 L903.2 1199.2 L905.2 1200 L907.2 1200.7 L909.2 1201.5 L911.2 1202.2 L913.2 1203 L915.2 1203.7 L917.2 1204.4 L919.2 1205.1 L921.2 1205.8 L923.2 1206.5 L925.2 1207.2" fill="none" stroke="#adadad" stroke-width="4.2" stroke-linecap="round" stroke-linejoin="round"/>
<path d="M217.2 1233.4 L219.2 1233 L221.2 1232.6 L223.2 1232.2 L225.2 1231.8 L227.2 1231.4 L229.2 1231 L231.2 1230.6 L233.2 1230.1 L235.2 1229.7 L237.2 1229.3 L239.2 1228.8 L241.2 1228.4 L243.2 1227.9 L245.2 1227.5 L247.2 1227 L249.2 1226.5 L251.2 1226.1 L253.2 1225.6 L255.2 1225.1 L257.2 1224.6 L259.2 1224.1 L261.2 1223.6 L263.2 1223.1 L265.2 1222.6 L267.2 1222.1 L269.2 1221.5 L271.2 1221 L273.2 1220.5 L275.2 1219.9 L277.2 1219.4 L279.2 1218.8 L281.2 1218.3 L283.2 1217.7 L285.2 1217.2 L287.2 1216.6 L289.2 1216 L291.2 1215.4 L293.2 1214.8 L295.2 1214.2 L297.2 1213.6 L299.2 1213 L301.2 1212.4 L303.2 1211.8 L305.2 1211.2 L307.2 1210.5 L309.2 1209.9 L311.2 1209.3 L313.2 1208.6 L315.2 1208 L317.2 1207.3 L319.2 1206.7 L321.2 1206 L323.2 1205.3 L325.2 1204.7 L327.2 1204 L329.2 1203.3 L331.2 1202.6 L333.2 1201.9 L335.2 1201.2 L337.2 1200.5 L339.2 1199.8 L341.2 1199.1 L343.2 1198.4 L345.2 1197.7 L347.2 1196.9 L349.2 1196.2 L351.2 1195.5 L353.2 1194.7 L355.2 1194 L357.2 1193.2 L359.2 1192.5 L361.2 1191.7 L363.2 1190.9 L365.2 1190.1 L367.2 1189.4 L369.2 1188.5 L371.2 1187.7 L373.2 1186.9 L375.2 1186 L377.2 1185.1 L379.2 1184.2 L381.2 1183.3 L383.2 1182.3 L385.2 1181.3 L387.2 1180.2 L389.2 1179.2 L391.2 1178.1 L393.2 1176.9 L395.2 1175.7 L397.2 1174.5 L399.2 1173.2 L401.2 1171.8 L403.2 1170.4 L405.2 1169 L407.2 1167.5 L409.2 1166 L411.2 1164.4 L413.2 1162.9 L415.2 1161.3 L417.2 1159.6 L419.2 1158 L421.2 1156.3 L423.2 1154.6 L425.2 1152.9 L427.2 1151.2 L429.2 1149.5 L431.2 1147.9 L433.2 1146.2 L435.2 1144.5 L437.2 1142.9 L439.2 1141.2 L441.2 1139.6 L443.2 1137.9 L445.2 1136.3 L447.2 1134.7 L449.2 1133 L451.2 1131.4 L453.2 1129.8 L455.2 1128.2 L457.2 1126.5 L459.2 1124.9 L461.2 1123.3 L463.2 1121.6 L465.2 1120 L467.2 1118.4 L469.2 1116.7 L471.2 1115.1 L473.2 1113.4 L475.2 1111.7 L477.2 1110 L479.2 1108.3 L481.2 1106.6 L483.2 1104.9 L485.2 1103.2 L487.2 1101.4 L489.2 1099.6 L491.2 1097.8 L493.2 1096 L495.2 1094.2 L497.2 1092.4 L499.2 1090.5 L501.2 1088.6 L503.2 1086.7 L505.2 1084.7 L507.2 1082.8 L509.2 1080.8 L511.2 1078.7 L513.2 1076.7 L515.2 1074.6 L517.2 1072.5 L519.2 1070.4 L521.2 1068.2 L523.2 1066 L525.2 1063.8 L527.2 1061.5 L529.2 1059.2 L531.2 1056.9 L533.2 1054.6 L535.2 1052.3 L537.2 1049.9 L539.2 1047.5 L541.2 1045.1 L543.2 1042.7 L545.2 1040.3 L547.2 1037.8 L549.2 1035.4 L551.2 1032.9 L553.2 1030.4 L555.2 1027.9 L557.2 1025.4 L559.2 1022.9 L561.2 1020.4 L563.2 1017.9 L565.2 1015.4 L567.2 1012.9 L569.2 1010.4 L571.2 1007.9 L573.2 1005.4 L575.2 1002.9 L577.2 1000.4 L579.2 997.9 L581.2 995.4 L583.2 993 L585.2 990.5 L587.2 988.1 L589.2 985.6 L591.2 983.2 L593.2 980.8 L595.2 978.4 L597.2 976.1 L599.2 973.7 L601.2 971.4 L603.2 969.1 L605.2 966.8 L607.2 964.6 L609.2 962.4 L611.2 960.2 L613.2 958 L615.2 955.8 L617.2 953.7 L619.2 951.6 L621.2 949.5 L623.2 947.5 L625.2 945.4 L627.2 943.4 L629.2 941.5 L631.2 939.5 L633.2 937.6 L635.2 935.7 L637.2 933.9 L639.2 932 L641.2 930.2 L643.2 928.5 L645.2 926.7 L647.2 925 L649.2 923.3 L651.2 921.7 L653.2 920 L655.2 918.4 L657.2 916.9 L659.2 915.4 L661.2 913.9 L663.2 912.4 L665.2 911 L667.2 909.6 L669.2 908.2 L671.2 906.9 L673.2 905.6 L675.2 904.3 L677.2 903 L679.2 901.8 L681.2 900.7 L683.2 899.6 L685.2 898.5 L687.2 897.4 L689.2 896.4 L691.2 895.4 L693.2 894.4 L695.2 893.5 L697.2 892.6 L699.2 891.8 L701.2 891 L703.2 890.2 L705.2 889.5 L707.2 888.8 L709.2 888.2 L711.2 887.6 L713.2 887 L715.2 886.5 L717.2 886 L719.2 885.5 L721.2 885.1 L723.2 884.7 L725.2 884.4 L727.2 884.1 L729.2 883.9 L731.2 883.7 L733.2 883.5 L735.2 883.4 L737.2 883.3 L739.2 883.3 L741.2 883.3 L743.2 883.3 L745.2 883.4 L747.2 883.6 L749.2 883.8 L751.2 884 L753.2 884.3 L755.2 884.6 L757.2 884.9 L759.2 885.3 L761.2 885.8 L763.2 886.3 L765.2 886.8 L767.2 887.3 L769.2 887.9 L771.2 888.5 L773.2 889.2 L775.2 889.9 L777.2 890.7 L779.2 891.5 L781.2 892.3 L783.2 893.1 L785.2 894 L787.2 894.9 L789.2 895.9 L791.2 896.9 L793.2 897.9 L795.2 898.9 L797.2 900 L799.2 901.1 L801.2 902.3 L803.2 903.5 L805.2 904.7 L807.2 905.9 L809.2 907.2 L811.2 908.5 L813.2 909.8 L815.2 911.2 L817.2 912.5 L819.2 913.9 L821.2 915.4 L823.2 916.8 L825.2 918.3 L827.2 919.8 L829.2 921.4 L831.2 922.9 L833.2 924.5 L835.2 926.1 L837.2 927.7 L839.2 929.4 L841.2 931 L843.2 932.7 L845.2 934.4 L847.2 936.2 L849.2 937.9 L851.2 939.7 L853.2 941.5 L855.2 943.3 L857.2 945.1 L859.2 946.9 L861.2 948.8 L863.2 950.7 L865.2 952.6 L867.2 954.5 L869.2 956.4 L871.2 958.3 L873.2 960.3 L875.2 962.2 L877.2 964.2 L879.2 966.2 L881.2 968.2 L883.2 970.2 L885.2 972.2 L887.2 974.2 L889.2 976.3 L891.2 978.3 L893.2 980.4 L895.2 982.4 L897.2 984.5 L899.2 986.6 L901.2 988.7 L903.2 990.8 L905.2 992.9 L907.2 995 L909.2 997.1 L911.2 999.2 L913.2 1001.4 L915.2 1003.5 L917.2 1005.6 L919.2 1007.7 L921.2 1009.9 L923.2 1012 L925.2 1014.1 L925.2 1228.6 L923.2 1228.4 L921.2 1228.2 L919.2 1228 L917.2 1227.8 L915.2 1227.5 L913.2 1227.3 L911.2 1227 L909.2 1226.7 L907.2 1226.4 L905.2 1226.1 L903.2 1225.8 L901.2 1225.4 L899.2 1225.1 L897.2 1224.7 L895.2 1224.3 L893.2 1223.9 L891.2 1223.5 L889.2 1223.1 L887.2 1222.6 L885.2 1222.2 L883.2 1221.7 L881.2 1221.2 L879.2 1220.7 L877.2 1220.2 L875.2 1219.7 L873.2 1219.2 L871.2 1218.6 L869.2 1218 L867.2 1217.4 L865.2 1216.8 L863.2 1216.2 L861.2 1215.6 L859.2 1214.9 L857.2 1214.2 L855.2 1213.6 L853.2 1212.8 L851.2 1212.1 L849.2 1211.4 L847.2 1210.6 L845.2 1209.9 L843.2 1209.1 L841.2 1208.3 L839.2 1207.5 L837.2 1206.6 L835.2 1205.8 L833.2 1204.9 L831.2 1204 L829.2 1203.1 L827.2 1202.2 L825.2 1201.2 L823.2 1200.3 L821.2 1199.3 L819.2 1198.3 L817.2 1197.3 L815.2 1196.3 L813.2 1195.2 L811.2 1194.2 L809.2 1193.1 L807.2 1192 L805.2 1190.9 L803.2 1189.8 L801.2 1188.7 L799.2 1187.6 L797.2 1186.5 L795.2 1185.4 L793.2 1184.3 L791.2 1183.2 L789.2 1182.1 L787.2 1181 L785.2 1179.9 L783.2 1178.9 L781.2 1177.8 L779.2 1176.8 L777.2 1175.8 L775.2 1174.8 L773.2 1173.8 L771.2 1172.8 L769.2 1171.9 L767.2 1171 L765.2 1170.1 L763.2 1169.2 L761.2 1168.3 L759.2 1167.5 L757.2 1166.7 L755.2 1166 L753.2 1165.2 L751.2 1164.5 L749.2 1163.8 L747.2 1163.1 L745.2 1162.4 L743.2 1161.8 L741.2 1161.2 L739.2 1160.6 L737.2 1160 L735.2 1159.5 L733.2 1159 L731.2 1158.5 L729.2 1158 L727.2 1157.6 L725.2 1157.2 L723.2 1156.8 L721.2 1156.4 L719.2 1156.1 L717.2 1155.7 L715.2 1155.4 L713.2 1155.2 L711.2 1154.9 L709.2 1154.7 L707.2 1154.5 L705.2 1154.3 L703.2 1154.2 L701.2 1154 L699.2 1153.9 L697.2 1153.8 L695.2 1153.8 L693.2 1153.7 L691.2 1153.7 L689.2 1153.7 L687.2 1153.8 L685.2 1153.8 L683.2 1153.9 L681.2 1154 L679.2 1154.2 L677.2 1154.3 L675.2 1154.5 L673.2 1154.7 L671.2 1154.9 L669.2 1155.1 L667.2 1155.4 L665.2 1155.6 L663.2 1155.9 L661.2 1156.2 L659.2 1156.5 L657.2 1156.9 L655.2 1157.2 L653.2 1157.5 L651.2 1157.9 L649.2 1158.3 L647.2 1158.7 L645.2 1159 L643.2 1159.4 L641.2 1159.9 L639.2 1160.3 L637.2 1160.7 L635.2 1161.1 L633.2 1161.5 L631.2 1162 L629.2 1162.4 L627.2 1162.9 L625.2 1163.3 L623.2 1163.7 L621.2 1164.2 L619.2 1164.6 L617.2 1165.1 L615.2 1165.5 L613.2 1166 L611.2 1166.4 L609.2 1166.8 L607.2 1167.3 L605.2 1167.7 L603.2 1168.2 L601.2 1168.6 L599.2 1169 L597.2 1169.5 L595.2 1169.9 L593.2 1170.4 L591.2 1170.8 L589.2 1171.3 L587.2 1171.7 L585.2 1172.2 L583.2 1172.6 L581.2 1173.1 L579.2 1173.5 L577.2 1174 L575.2 1174.4 L573.2 1174.9 L571.2 1175.3 L569.2 1175.8 L567.2 1176.2 L565.2 1176.7 L563.2 1177.1 L561.2 1177.6 L559.2 1178 L557.2 1178.5 L555.2 1179 L553.2 1179.4 L551.2 1179.9 L549.2 1180.4 L547.2 1180.8 L545.2 1181.3 L543.2 1181.8 L541.2 1182.2 L539.2 1182.7 L537.2 1183.2 L535.2 1183.7 L533.2 1184.2 L531.2 1184.6 L529.2 1185.1 L527.2 1185.6 L525.2 1186.1 L523.2 1186.6 L521.2 1187.1 L519.2 1187.6 L517.2 1188.1 L515.2 1188.6 L513.2 1189.1 L511.2 1189.6 L509.2 1190.1 L507.2 1190.6 L505.2 1191.2 L503.2 1191.7 L501.2 1192.2 L499.2 1192.7 L497.2 1193.2 L495.2 1193.8 L493.2 1194.3 L491.2 1194.8 L489.2 1195.3 L487.2 1195.9 L485.2 1196.4 L483.2 1196.9 L481.2 1197.5 L479.2 1198 L477.2 1198.6 L475.2 1199.1 L473.2 1199.6 L471.2 1200.2 L469.2 1200.7 L467.2 1201.2 L465.2 1201.8 L463.2 1202.3 L461.2 1202.9 L459.2 1203.4 L457.2 1204 L455.2 1204.5 L453.2 1205 L451.2 1205.6 L449.2 1206.1 L447.2 1206.7 L445.2 1207.2 L443.2 1207.8 L441.2 1208.3 L439.2 1208.8 L437.2 1209.4 L435.2 1209.9 L433.2 1210.5 L431.2 1211 L429.2 1211.5 L427.2 1212.1 L425.2 1212.6 L423.2 1213.1 L421.2 1213.7 L419.2 1214.2 L417.2 1214.7 L415.2 1215.3 L413.2 1215.8 L411.2 1216.3 L409.2 1216.8 L407.2 1217.4 L405.2 1217.9 L403.2 1218.4 L401.2 1218.9 L399.2 1219.4 L397.2 1219.9 L395.2 1220.4 L393.2 1220.9 L391.2 1221.4 L389.2 1222 L387.2 1222.4 L385.2 1222.9 L383.2 1223.4 L381.2 1223.9 L379.2 1224.4 L377.2 1224.9 L375.2 1225.4 L373.2 1225.9 L371.2 1226.3 L369.2 1226.8 L367.2 1227.3 L365.2 1227.7 L363.2 1228.2 L361.2 1228.7 L359.2 1229.1 L357.2 1229.6 L355.2 1230 L353.2 1230.4 L351.2 1230.9 L349.2 1231.3 L347.2 1231.7 L345.2 1232.2 L343.2 1232.6 L341.2 1233 L339.2 1233.4 L337.2 1233.8 L335.2 1234.2 L333.2 1234.6 L331.2 1235 L329.2 1235.4 L327.2 1235.8 L325.2 1236.2 L323.2 1236.5 L321.2 1236.9 L319.2 1237.3 L317.2 1237.6 L315.2 1238 L313.2 1238.3 L311.2 1238.6 L309.2 1239 L307.2 1239.3 L305.2 1239.6 L303.2 1239.9 L301.2 1240.2 L299.2 1240.5 L297.2 1240.8 L295.2 1241.1 L293.2 1241.4 L291.2 1241.7 L289.2 1242 L287.2 1242.2 L285.2 1242.5 L283.2 1242.7 L281.2 1243 L279.2 1243.2 L277.2 1243.4 L275.2 1243.7 L273.2 1243.9 L271.2 1244.1 L269.2 1244.3 L267.2 1244.5 L265.2 1244.7 L263.2 1244.8 L261.2 1245 L259.2 1245.2 L257.2 1245.3 L255.2 1245.5 L253.2 1245.6 L251.2 1245.7 L249.2 1245.8 L247.2 1246 L245.2 1246.1 L243.2 1246.2 L241.2 1246.2 L239.2 1246.3 L237.2 1246.4 L235.2 1246.5 L233.2 1246.5 L231.2 1246.5 L229.2 1246.6 L227.2 1246.6 L225.2 1246.6 L223.2 1246.6 L221.2 1246.6 L219.2 1246.6 L217.2 1246.6Z" fill="rgba(102,102,102,0.40)"/>
<path d="M217.2 1243.4 L219.2 1243.2 L221.2 1243 L223.2 1242.7 L225.2 1242.5 L227.2 1242.3 L229.2 1242 L231.2 1241.8 L233.2 1241.5 L235.2 1241.3 L237.2 1241 L239.2 1240.7 L241.2 1240.5 L243.2 1240.2 L245.2 1239.9 L247.2 1239.6 L249.2 1239.3 L251.2 1239 L253.2 1238.8 L255.2 1238.4 L257.2 1238.1 L259.2 1237.8 L261.2 1237.5 L263.2 1237.2 L265.2 1236.8 L267.2 1236.5 L269.2 1236.2 L271.2 1235.8 L273.2 1235.5 L275.2 1235.1 L277.2 1234.7 L279.2 1234.4 L281.2 1234 L283.2 1233.6 L285.2 1233.2 L287.2 1232.8 L289.2 1232.4 L291.2 1232 L293.2 1231.6 L295.2 1231.2 L297.2 1230.8 L299.2 1230.3 L301.2 1229.9 L303.2 1229.5 L305.2 1229 L307.2 1228.6 L309.2 1228.1 L311.2 1227.6 L313.2 1227.2 L315.2 1226.7 L317.2 1226.2 L319.2 1225.7 L321.2 1225.2 L323.2 1224.7 L325.2 1224.2 L327.2 1223.6 L329.2 1223.1 L331.2 1222.6 L333.2 1222 L335.2 1221.5 L337.2 1220.9 L339.2 1220.4 L341.2 1219.8 L343.2 1219.2 L345.2 1218.6 L347.2 1218 L349.2 1217.4 L351.2 1216.8 L353.2 1216.2 L355.2 1215.6 L357.2 1215 L359.2 1214.4 L361.2 1213.7 L363.2 1213.1 L365.2 1212.4 L367.2 1211.8 L369.2 1211.1 L371.2 1210.4 L373.2 1209.7 L375.2 1209 L377.2 1208.3 L379.2 1207.6 L381.2 1206.9 L383.2 1206.2 L385.2 1205.5 L387.2 1204.8 L389.2 1204 L391.2 1203.3 L393.2 1202.5 L395.2 1201.8 L397.2 1201 L399.2 1200.2 L401.2 1199.5 L403.2 1198.7 L405.2 1197.9 L407.2 1197.1 L409.2 1196.3 L411.2 1195.5 L413.2 1194.7 L415.2 1193.8 L417.2 1193 L419.2 1192.2 L421.2 1191.3 L423.2 1190.5 L425.2 1189.6 L427.2 1188.8 L429.2 1187.9 L431.2 1187 L433.2 1186.2 L435.2 1185.3 L437.2 1184.4 L439.2 1183.5 L441.2 1182.6 L443.2 1181.7 L445.2 1180.8 L447.2 1179.9 L449.2 1178.9 L451.2 1178 L453.2 1177.1 L455.2 1176.2 L457.2 1175.2 L459.2 1174.3 L461.2 1173.3 L463.2 1172.4 L465.2 1171.4 L467.2 1170.5 L469.2 1169.5 L471.2 1168.5 L473.2 1167.6 L475.2 1166.6 L477.2 1165.6 L479.2 1164.6 L481.2 1163.6 L483.2 1162.7 L485.2 1161.7 L487.2 1160.7 L489.2 1159.7 L491.2 1158.7 L493.2 1157.7 L495.2 1156.7 L497.2 1155.7 L499.2 1154.7 L501.2 1153.7 L503.2 1152.7 L505.2 1151.7 L507.2 1150.7 L509.2 1149.6 L511.2 1148.6 L513.2 1147.6 L515.2 1146.6 L517.2 1145.6 L519.2 1144.6 L521.2 1143.6 L523.2 1142.6 L525.2 1141.6 L527.2 1140.5 L529.2 1139.5 L531.2 1138.5 L533.2 1137.5 L535.2 1136.5 L537.2 1135.5 L539.2 1134.5 L541.2 1133.5 L543.2 1132.5 L545.2 1131.5 L547.2 1130.5 L549.2 1129.6 L551.2 1128.6 L553.2 1127.6 L555.2 1126.6 L557.2 1125.6 L559.2 1124.7 L561.2 1123.7 L563.2 1122.7 L565.2 1121.8 L567.2 1120.8 L569.2 1119.9 L571.2 1118.9 L573.2 1118 L575.2 1117.1 L577.2 1116.1 L579.2 1115.2 L581.2 1114.3 L583.2 1113.4 L585.2 1112.5 L587.2 1111.6 L589.2 1110.7 L591.2 1109.8 L593.2 1109 L595.2 1108.1 L597.2 1107.2 L599.2 1106.4 L601.2 1105.6 L603.2 1104.7 L605.2 1103.9 L607.2 1103.1 L609.2 1102.3 L611.2 1101.5 L613.2 1100.7 L615.2 1099.9 L617.2 1099.2 L619.2 1098.4 L621.2 1097.6 L623.2 1096.9 L625.2 1096.2 L627.2 1095.5 L629.2 1094.8 L631.2 1094.1 L633.2 1093.4 L635.2 1092.7 L637.2 1092 L639.2 1091.4 L641.2 1090.8 L643.2 1090.1 L645.2 1089.5 L647.2 1088.9 L649.2 1088.3 L651.2 1087.8 L653.2 1087.2 L655.2 1086.6 L657.2 1086.1 L659.2 1085.6 L661.2 1085.1 L663.2 1084.6 L665.2 1084.1 L667.2 1083.6 L669.2 1083.2 L671.2 1082.7 L673.2 1082.3 L675.2 1081.9 L677.2 1081.5 L679.2 1081.1 L681.2 1080.7 L683.2 1080.4 L685.2 1080 L687.2 1079.7 L689.2 1079.4 L691.2 1079.1 L693.2 1078.8 L695.2 1078.6 L697.2 1078.3 L699.2 1078.1 L701.2 1077.9 L703.2 1077.6 L705.2 1077.5 L707.2 1077.3 L709.2 1077.1 L711.2 1077 L713.2 1076.9 L715.2 1076.7 L717.2 1076.6 L719.2 1076.6 L721.2 1076.5 L723.2 1076.4 L725.2 1076.4 L727.2 1076.4 L729.2 1076.4 L731.2 1076.4 L733.2 1076.4 L735.2 1076.5 L737.2 1076.5 L739.2 1076.6 L741.2 1076.7 L743.2 1076.8 L745.2 1076.9 L747.2 1077.1 L749.2 1077.2 L751.2 1077.4 L753.2 1077.6 L755.2 1077.8 L757.2 1078 L759.2 1078.2 L761.2 1078.5 L763.2 1078.8 L765.2 1079 L767.2 1079.3 L769.2 1079.6 L771.2 1080 L773.2 1080.3 L775.2 1080.6 L777.2 1081 L779.2 1081.4 L781.2 1081.8 L783.2 1082.2 L785.2 1082.6 L787.2 1083.1 L789.2 1083.5 L791.2 1084 L793.2 1084.5 L795.2 1084.9 L797.2 1085.5 L799.2 1086 L801.2 1086.5 L803.2 1087.1 L805.2 1087.6 L807.2 1088.2 L809.2 1088.8 L811.2 1089.4 L813.2 1090 L815.2 1090.6 L817.2 1091.2 L819.2 1091.9 L821.2 1092.5 L823.2 1093.2 L825.2 1093.9 L827.2 1094.6 L829.2 1095.3 L831.2 1096 L833.2 1096.7 L835.2 1097.5 L837.2 1098.2 L839.2 1099 L841.2 1099.7 L843.2 1100.5 L845.2 1101.3 L847.2 1102.1 L849.2 1102.9 L851.2 1103.7 L853.2 1104.5 L855.2 1105.3 L857.2 1106.2 L859.2 1107 L861.2 1107.9 L863.2 1108.7 L865.2 1109.6 L867.2 1110.5 L869.2 1111.4 L871.2 1112.3 L873.2 1113.2 L875.2 1114.1 L877.2 1115 L879.2 1115.9 L881.2 1116.8 L883.2 1117.8 L885.2 1118.7 L887.2 1119.6 L889.2 1120.6 L891.2 1121.5 L893.2 1122.5 L895.2 1123.4 L897.2 1124.4 L899.2 1125.4 L901.2 1126.4 L903.2 1127.3 L905.2 1128.3 L907.2 1129.3 L909.2 1130.3 L911.2 1131.3 L913.2 1132.3 L915.2 1133.3 L917.2 1134.3 L919.2 1135.3 L921.2 1136.3 L923.2 1137.3 L925.2 1138.3" fill="none" stroke="#5e5e5e" stroke-width="4.5" stroke-linecap="round" stroke-dasharray="12.3 21.62"/>
<path d="M217.2 1242.1 L219.2 1241.7 L221.2 1241.2 L223.2 1240.8 L225.2 1240.4 L227.2 1240 L229.2 1239.6 L231.2 1239.2 L233.2 1238.7 L235.2 1238.3 L237.2 1237.9 L239.2 1237.5 L241.2 1237.1 L243.2 1236.7 L245.2 1236.3 L247.2 1235.9 L249.2 1235.5 L251.2 1235.1 L253.2 1234.7 L255.2 1234.3 L257.2 1233.9 L259.2 1233.5 L261.2 1233 L263.2 1232.6 L265.2 1232.2 L267.2 1231.8 L269.2 1231.4 L271.2 1231 L273.2 1230.6 L275.2 1230.2 L277.2 1229.7 L279.2 1229.3 L281.2 1228.9 L283.2 1228.5 L285.2 1228.1 L287.2 1227.6 L289.2 1227.2 L291.2 1226.8 L293.2 1226.3 L295.2 1225.9 L297.2 1225.4 L299.2 1225 L301.2 1224.5 L303.2 1224.1 L305.2 1223.6 L307.2 1223.2 L309.2 1222.7 L311.2 1222.2 L313.2 1221.7 L315.2 1221.3 L317.2 1220.8 L319.2 1220.3 L321.2 1219.8 L323.2 1219.3 L325.2 1218.8 L327.2 1218.3 L329.2 1217.7 L331.2 1217.2 L333.2 1216.7 L335.2 1216.1 L337.2 1215.6 L339.2 1215.1 L341.2 1214.5 L343.2 1213.9 L345.2 1213.4 L347.2 1212.8 L349.2 1212.2 L351.2 1211.6 L353.2 1211 L355.2 1210.4 L357.2 1209.8 L359.2 1209.2 L361.2 1208.5 L363.2 1207.9 L365.2 1207.3 L367.2 1206.6 L369.2 1205.9 L371.2 1205.3 L373.2 1204.6 L375.2 1203.9 L377.2 1203.2 L379.2 1202.5 L381.2 1201.8 L383.2 1201 L385.2 1200.3 L387.2 1199.6 L389.2 1198.8 L391.2 1198 L393.2 1197.3 L395.2 1196.5 L397.2 1195.7 L399.2 1194.9 L401.2 1194.1 L403.2 1193.3 L405.2 1192.5 L407.2 1191.6 L409.2 1190.8 L411.2 1190 L413.2 1189.1 L415.2 1188.3 L417.2 1187.4 L419.2 1186.5 L421.2 1185.7 L423.2 1184.8 L425.2 1183.9 L427.2 1183 L429.2 1182.1 L431.2 1181.2 L433.2 1180.3 L435.2 1179.4 L437.2 1178.5 L439.2 1177.6 L441.2 1176.7 L443.2 1175.8 L445.2 1174.9 L447.2 1173.9 L449.2 1173 L451.2 1172.1 L453.2 1171.1 L455.2 1170.2 L457.2 1169.3 L459.2 1168.3 L461.2 1167.4 L463.2 1166.4 L465.2 1165.5 L467.2 1164.5 L469.2 1163.5 L471.2 1162.5 L473.2 1161.5 L475.2 1160.5 L477.2 1159.5 L479.2 1158.5 L481.2 1157.4 L483.2 1156.4 L485.2 1155.3 L487.2 1154.2 L489.2 1153.1 L491.2 1152 L493.2 1150.8 L495.2 1149.6 L497.2 1148.4 L499.2 1147.2 L501.2 1146 L503.2 1144.7 L505.2 1143.4 L507.2 1142.1 L509.2 1140.8 L511.2 1139.4 L513.2 1138 L515.2 1136.6 L517.2 1135.1 L519.2 1133.6 L521.2 1132.1 L523.2 1130.5 L525.2 1129 L527.2 1127.3 L529.2 1125.7 L531.2 1124 L533.2 1122.3 L535.2 1120.5 L537.2 1118.7 L539.2 1116.9 L541.2 1115.1 L543.2 1113.2 L545.2 1111.4 L547.2 1109.5 L549.2 1107.5 L551.2 1105.6 L553.2 1103.6 L555.2 1101.6 L557.2 1099.6 L559.2 1097.5 L561.2 1095.4 L563.2 1093.4 L565.2 1091.3 L567.2 1089.2 L569.2 1087 L571.2 1084.9 L573.2 1082.8 L575.2 1080.6 L577.2 1078.5 L579.2 1076.4 L581.2 1074.2 L583.2 1072.1 L585.2 1070 L587.2 1067.9 L589.2 1065.8 L591.2 1063.8 L593.2 1061.7 L595.2 1059.7 L597.2 1057.7 L599.2 1055.8 L601.2 1053.8 L603.2 1051.9 L605.2 1050.1 L607.2 1048.2 L609.2 1046.4 L611.2 1044.7 L613.2 1042.9 L615.2 1041.2 L617.2 1039.6 L619.2 1037.9 L621.2 1036.3 L623.2 1034.7 L625.2 1033.2 L627.2 1031.7 L629.2 1030.2 L631.2 1028.7 L633.2 1027.3 L635.2 1025.9 L637.2 1024.5 L639.2 1023.2 L641.2 1021.9 L643.2 1020.6 L645.2 1019.4 L647.2 1018.1 L649.2 1016.9 L651.2 1015.8 L653.2 1014.6 L655.2 1013.5 L657.2 1012.4 L659.2 1011.3 L661.2 1010.3 L663.2 1009.3 L665.2 1008.3 L667.2 1007.4 L669.2 1006.4 L671.2 1005.5 L673.2 1004.6 L675.2 1003.8 L677.2 1002.9 L679.2 1002.1 L681.2 1001.3 L683.2 1000.5 L685.2 999.8 L687.2 999.1 L689.2 998.4 L691.2 997.7 L693.2 997 L695.2 996.4 L697.2 995.8 L699.2 995.2 L701.2 994.6 L703.2 994.1 L705.2 993.6 L707.2 993 L709.2 992.6 L711.2 992.1 L713.2 991.6 L715.2 991.2 L717.2 990.8 L719.2 990.4 L721.2 990.1 L723.2 989.7 L725.2 989.4 L727.2 989.1 L729.2 988.9 L731.2 988.6 L733.2 988.4 L735.2 988.2 L737.2 988 L739.2 987.9 L741.2 987.8 L743.2 987.7 L745.2 987.6 L747.2 987.6 L749.2 987.6 L751.2 987.6 L753.2 987.7 L755.2 987.8 L757.2 987.9 L759.2 988.1 L761.2 988.2 L763.2 988.4 L765.2 988.7 L767.2 989 L769.2 989.3 L771.2 989.6 L773.2 990 L775.2 990.4 L777.2 990.8 L779.2 991.3 L781.2 991.8 L783.2 992.4 L785.2 993 L787.2 993.6 L789.2 994.2 L791.2 994.9 L793.2 995.6 L795.2 996.4 L797.2 997.2 L799.2 998 L801.2 998.8 L803.2 999.7 L805.2 1000.6 L807.2 1001.5 L809.2 1002.5 L811.2 1003.4 L813.2 1004.4 L815.2 1005.5 L817.2 1006.5 L819.2 1007.6 L821.2 1008.7 L823.2 1009.8 L825.2 1011 L827.2 1012.2 L829.2 1013.4 L831.2 1014.6 L833.2 1015.8 L835.2 1017.1 L837.2 1018.3 L839.2 1019.6 L841.2 1021 L843.2 1022.3 L845.2 1023.6 L847.2 1025 L849.2 1026.4 L851.2 1027.8 L853.2 1029.2 L855.2 1030.6 L857.2 1032 L859.2 1033.5 L861.2 1034.9 L863.2 1036.4 L865.2 1037.9 L867.2 1039.4 L869.2 1040.9 L871.2 1042.4 L873.2 1044 L875.2 1045.5 L877.2 1047 L879.2 1048.6 L881.2 1050.1 L883.2 1051.7 L885.2 1053.2 L887.2 1054.8 L889.2 1056.4 L891.2 1058 L893.2 1059.6 L895.2 1061.1 L897.2 1062.7 L899.2 1064.3 L901.2 1065.9 L903.2 1067.5 L905.2 1069.1 L907.2 1070.7 L909.2 1072.2 L911.2 1073.8 L913.2 1075.4 L915.2 1077 L917.2 1078.5 L919.2 1080.1 L921.2 1081.7 L923.2 1083.2 L925.2 1084.8 L925.2 1228.5 L923.2 1228.3 L921.2 1228.2 L919.2 1228 L917.2 1227.8 L915.2 1227.5 L913.2 1227.2 L911.2 1226.9 L909.2 1226.6 L907.2 1226.2 L905.2 1225.9 L903.2 1225.5 L901.2 1225.1 L899.2 1224.6 L897.2 1224.2 L895.2 1223.7 L893.2 1223.2 L891.2 1222.7 L889.2 1222.2 L887.2 1221.7 L885.2 1221.1 L883.2 1220.5 L881.2 1220 L879.2 1219.4 L877.2 1218.8 L875.2 1218.2 L873.2 1217.6 L871.2 1217 L869.2 1216.4 L867.2 1215.8 L865.2 1215.1 L863.2 1214.5 L861.2 1213.9 L859.2 1213.2 L857.2 1212.6 L855.2 1212 L853.2 1211.4 L851.2 1210.8 L849.2 1210.1 L847.2 1209.5 L845.2 1208.9 L843.2 1208.3 L841.2 1207.7 L839.2 1207.2 L837.2 1206.6 L835.2 1206 L833.2 1205.5 L831.2 1205 L829.2 1204.4 L827.2 1203.9 L825.2 1203.4 L823.2 1202.9 L821.2 1202.5 L819.2 1202 L817.2 1201.5 L815.2 1201.1 L813.2 1200.6 L811.2 1200.2 L809.2 1199.8 L807.2 1199.4 L805.2 1199 L803.2 1198.6 L801.2 1198.2 L799.2 1197.8 L797.2 1197.5 L795.2 1197.1 L793.2 1196.8 L791.2 1196.4 L789.2 1196.1 L787.2 1195.8 L785.2 1195.5 L783.2 1195.2 L781.2 1194.9 L779.2 1194.6 L777.2 1194.4 L775.2 1194.1 L773.2 1193.9 L771.2 1193.6 L769.2 1193.4 L767.2 1193.2 L765.2 1193 L763.2 1192.7 L761.2 1192.5 L759.2 1192.4 L757.2 1192.2 L755.2 1192 L753.2 1191.8 L751.2 1191.7 L749.2 1191.5 L747.2 1191.4 L745.2 1191.2 L743.2 1191.1 L741.2 1191 L739.2 1190.9 L737.2 1190.8 L735.2 1190.7 L733.2 1190.6 L731.2 1190.5 L729.2 1190.4 L727.2 1190.3 L725.2 1190.3 L723.2 1190.2 L721.2 1190.2 L719.2 1190.1 L717.2 1190.1 L715.2 1190.1 L713.2 1190 L711.2 1190 L709.2 1190 L707.2 1190 L705.2 1190 L703.2 1190 L701.2 1190 L699.2 1190.1 L697.2 1190.1 L695.2 1190.1 L693.2 1190.2 L691.2 1190.2 L689.2 1190.3 L687.2 1190.3 L685.2 1190.4 L683.2 1190.4 L681.2 1190.5 L679.2 1190.6 L677.2 1190.7 L675.2 1190.8 L673.2 1190.9 L671.2 1191 L669.2 1191.1 L667.2 1191.2 L665.2 1191.3 L663.2 1191.4 L661.2 1191.5 L659.2 1191.6 L657.2 1191.8 L655.2 1191.9 L653.2 1192.1 L651.2 1192.2 L649.2 1192.3 L647.2 1192.5 L645.2 1192.7 L643.2 1192.8 L641.2 1193 L639.2 1193.2 L637.2 1193.3 L635.2 1193.5 L633.2 1193.7 L631.2 1193.9 L629.2 1194.1 L627.2 1194.3 L625.2 1194.5 L623.2 1194.7 L621.2 1194.9 L619.2 1195.1 L617.2 1195.3 L615.2 1195.5 L613.2 1195.7 L611.2 1196 L609.2 1196.2 L607.2 1196.4 L605.2 1196.6 L603.2 1196.9 L601.2 1197.1 L599.2 1197.4 L597.2 1197.6 L595.2 1197.9 L593.2 1198.1 L591.2 1198.4 L589.2 1198.6 L587.2 1198.9 L585.2 1199.2 L583.2 1199.4 L581.2 1199.7 L579.2 1200 L577.2 1200.3 L575.2 1200.5 L573.2 1200.8 L571.2 1201.1 L569.2 1201.4 L567.2 1201.7 L565.2 1202 L563.2 1202.3 L561.2 1202.6 L559.2 1202.9 L557.2 1203.2 L555.2 1203.5 L553.2 1203.8 L551.2 1204.1 L549.2 1204.4 L547.2 1204.7 L545.2 1205 L543.2 1205.4 L541.2 1205.7 L539.2 1206 L537.2 1206.3 L535.2 1206.6 L533.2 1207 L531.2 1207.3 L529.2 1207.6 L527.2 1208 L525.2 1208.3 L523.2 1208.6 L521.2 1209 L519.2 1209.3 L517.2 1209.6 L515.2 1210 L513.2 1210.3 L511.2 1210.7 L509.2 1211 L507.2 1211.3 L505.2 1211.7 L503.2 1212 L501.2 1212.4 L499.2 1212.7 L497.2 1213.1 L495.2 1213.4 L493.2 1213.8 L491.2 1214.1 L489.2 1214.5 L487.2 1214.9 L485.2 1215.2 L483.2 1215.6 L481.2 1215.9 L479.2 1216.3 L477.2 1216.6 L475.2 1217 L473.2 1217.4 L471.2 1217.7 L469.2 1218.1 L467.2 1218.4 L465.2 1218.8 L463.2 1219.2 L461.2 1219.5 L459.2 1219.9 L457.2 1220.2 L455.2 1220.6 L453.2 1221 L451.2 1221.4 L449.2 1221.7 L447.2 1222.1 L445.2 1222.5 L443.2 1222.9 L441.2 1223.2 L439.2 1223.6 L437.2 1224 L435.2 1224.4 L433.2 1224.8 L431.2 1225.2 L429.2 1225.6 L427.2 1226 L425.2 1226.4 L423.2 1226.8 L421.2 1227.2 L419.2 1227.6 L417.2 1228 L415.2 1228.4 L413.2 1228.9 L411.2 1229.3 L409.2 1229.7 L407.2 1230.1 L405.2 1230.5 L403.2 1230.9 L401.2 1231.3 L399.2 1231.7 L397.2 1232.1 L395.2 1232.5 L393.2 1232.8 L391.2 1233.2 L389.2 1233.6 L387.2 1234 L385.2 1234.3 L383.2 1234.7 L381.2 1235 L379.2 1235.4 L377.2 1235.7 L375.2 1236.1 L373.2 1236.4 L371.2 1236.7 L369.2 1237 L367.2 1237.3 L365.2 1237.6 L363.2 1237.9 L361.2 1238.2 L359.2 1238.5 L357.2 1238.7 L355.2 1239 L353.2 1239.3 L351.2 1239.5 L349.2 1239.8 L347.2 1240 L345.2 1240.2 L343.2 1240.5 L341.2 1240.7 L339.2 1240.9 L337.2 1241.1 L335.2 1241.4 L333.2 1241.6 L331.2 1241.8 L329.2 1242 L327.2 1242.2 L325.2 1242.4 L323.2 1242.5 L321.2 1242.7 L319.2 1242.9 L317.2 1243.1 L315.2 1243.3 L313.2 1243.4 L311.2 1243.6 L309.2 1243.8 L307.2 1243.9 L305.2 1244.1 L303.2 1244.2 L301.2 1244.4 L299.2 1244.5 L297.2 1244.7 L295.2 1244.8 L293.2 1245 L291.2 1245.1 L289.2 1245.2 L287.2 1245.4 L285.2 1245.5 L283.2 1245.6 L281.2 1245.8 L279.2 1245.9 L277.2 1246 L275.2 1246.1 L273.2 1246.3 L271.2 1246.4 L269.2 1246.5 L267.2 1246.6 L265.2 1246.8 L263.2 1246.9 L261.2 1247 L259.2 1247.1 L257.2 1247.2 L255.2 1247.4 L253.2 1247.5 L251.2 1247.6 L249.2 1247.7 L247.2 1247.8 L245.2 1248 L243.2 1248.1 L241.2 1248.2 L239.2 1248.3 L237.2 1248.5 L235.2 1248.6 L233.2 1248.7 L231.2 1248.9 L229.2 1249 L227.2 1249.1 L225.2 1249.3 L223.2 1249.4 L221.2 1249.5 L219.2 1249.7 L217.2 1249.8Z" fill="rgba(0,0,0,0.40)"/>
<path d="M217.2 1244.5 L219.2 1244.3 L221.2 1244.1 L223.2 1244 L225.2 1243.8 L227.2 1243.6 L229.2 1243.4 L231.2 1243.2 L233.2 1243 L235.2 1242.8 L237.2 1242.6 L239.2 1242.4 L241.2 1242.2 L243.2 1242 L245.2 1241.8 L247.2 1241.6 L249.2 1241.4 L251.2 1241.2 L253.2 1240.9 L255.2 1240.7 L257.2 1240.5 L259.2 1240.3 L261.2 1240 L263.2 1239.8 L265.2 1239.5 L267.2 1239.3 L269.2 1239 L271.2 1238.8 L273.2 1238.5 L275.2 1238.3 L277.2 1238 L279.2 1237.7 L281.2 1237.5 L283.2 1237.2 L285.2 1236.9 L287.2 1236.6 L289.2 1236.4 L291.2 1236.1 L293.2 1235.8 L295.2 1235.5 L297.2 1235.2 L299.2 1234.9 L301.2 1234.6 L303.2 1234.3 L305.2 1233.9 L307.2 1233.6 L309.2 1233.3 L311.2 1233 L313.2 1232.6 L315.2 1232.3 L317.2 1232 L319.2 1231.6 L321.2 1231.3 L323.2 1230.9 L325.2 1230.6 L327.2 1230.2 L329.2 1229.9 L331.2 1229.5 L333.2 1229.1 L335.2 1228.8 L337.2 1228.4 L339.2 1228 L341.2 1227.6 L343.2 1227.2 L345.2 1226.8 L347.2 1226.4 L349.2 1226 L351.2 1225.6 L353.2 1225.2 L355.2 1224.8 L357.2 1224.4 L359.2 1224 L361.2 1223.6 L363.2 1223.1 L365.2 1222.7 L367.2 1222.3 L369.2 1221.8 L371.2 1221.4 L373.2 1220.9 L375.2 1220.5 L377.2 1220 L379.2 1219.6 L381.2 1219.1 L383.2 1218.7 L385.2 1218.2 L387.2 1217.7 L389.2 1217.2 L391.2 1216.8 L393.2 1216.3 L395.2 1215.8 L397.2 1215.3 L399.2 1214.8 L401.2 1214.3 L403.2 1213.8 L405.2 1213.3 L407.2 1212.8 L409.2 1212.3 L411.2 1211.8 L413.2 1211.3 L415.2 1210.8 L417.2 1210.2 L419.2 1209.7 L421.2 1209.2 L423.2 1208.7 L425.2 1208.1 L427.2 1207.6 L429.2 1207 L431.2 1206.5 L433.2 1206 L435.2 1205.4 L437.2 1204.9 L439.2 1204.3 L441.2 1203.8 L443.2 1203.2 L445.2 1202.6 L447.2 1202.1 L449.2 1201.5 L451.2 1200.9 L453.2 1200.4 L455.2 1199.8 L457.2 1199.2 L459.2 1198.7 L461.2 1198.1 L463.2 1197.5 L465.2 1196.9 L467.2 1196.3 L469.2 1195.8 L471.2 1195.2 L473.2 1194.6 L475.2 1194 L477.2 1193.4 L479.2 1192.8 L481.2 1192.2 L483.2 1191.6 L485.2 1191 L487.2 1190.5 L489.2 1189.9 L491.2 1189.3 L493.2 1188.7 L495.2 1188.1 L497.2 1187.5 L499.2 1186.9 L501.2 1186.3 L503.2 1185.7 L505.2 1185.1 L507.2 1184.5 L509.2 1183.9 L511.2 1183.3 L513.2 1182.7 L515.2 1182.1 L517.2 1181.5 L519.2 1180.9 L521.2 1180.3 L523.2 1179.7 L525.2 1179.1 L527.2 1178.5 L529.2 1178 L531.2 1177.4 L533.2 1176.8 L535.2 1176.2 L537.2 1175.6 L539.2 1175 L541.2 1174.4 L543.2 1173.9 L545.2 1173.3 L547.2 1172.7 L549.2 1172.1 L551.2 1171.6 L553.2 1171 L555.2 1170.4 L557.2 1169.9 L559.2 1169.3 L561.2 1168.7 L563.2 1168.2 L565.2 1167.6 L567.2 1167.1 L569.2 1166.5 L571.2 1166 L573.2 1165.5 L575.2 1164.9 L577.2 1164.4 L579.2 1163.9 L581.2 1163.4 L583.2 1162.8 L585.2 1162.3 L587.2 1161.8 L589.2 1161.3 L591.2 1160.8 L593.2 1160.3 L595.2 1159.8 L597.2 1159.3 L599.2 1158.8 L601.2 1158.3 L603.2 1157.9 L605.2 1157.4 L607.2 1156.9 L609.2 1156.5 L611.2 1156 L613.2 1155.6 L615.2 1155.1 L617.2 1154.7 L619.2 1154.3 L621.2 1153.8 L623.2 1153.4 L625.2 1153 L627.2 1152.6 L629.2 1152.2 L631.2 1151.8 L633.2 1151.4 L635.2 1151 L637.2 1150.7 L639.2 1150.3 L641.2 1149.9 L643.2 1149.6 L645.2 1149.2 L647.2 1148.9 L649.2 1148.6 L651.2 1148.2 L653.2 1147.9 L655.2 1147.6 L657.2 1147.3 L659.2 1147 L661.2 1146.7 L663.2 1146.4 L665.2 1146.2 L667.2 1145.9 L669.2 1145.6 L671.2 1145.4 L673.2 1145.1 L675.2 1144.9 L677.2 1144.7 L679.2 1144.5 L681.2 1144.2 L683.2 1144 L685.2 1143.8 L687.2 1143.7 L689.2 1143.5 L691.2 1143.3 L693.2 1143.1 L695.2 1143 L697.2 1142.8 L699.2 1142.7 L701.2 1142.6 L703.2 1142.5 L705.2 1142.3 L707.2 1142.2 L709.2 1142.1 L711.2 1142.1 L713.2 1142 L715.2 1141.9 L717.2 1141.9 L719.2 1141.8 L721.2 1141.8 L723.2 1141.7 L725.2 1141.7 L727.2 1141.7 L729.2 1141.7 L731.2 1141.7 L733.2 1141.7 L735.2 1141.7 L737.2 1141.7 L739.2 1141.8 L741.2 1141.8 L743.2 1141.9 L745.2 1141.9 L747.2 1142 L749.2 1142.1 L751.2 1142.2 L753.2 1142.3 L755.2 1142.4 L757.2 1142.5 L759.2 1142.6 L761.2 1142.7 L763.2 1142.9 L765.2 1143 L767.2 1143.2 L769.2 1143.3 L771.2 1143.5 L773.2 1143.7 L775.2 1143.9 L777.2 1144.1 L779.2 1144.3 L781.2 1144.5 L783.2 1144.7 L785.2 1144.9 L787.2 1145.2 L789.2 1145.4 L791.2 1145.7 L793.2 1145.9 L795.2 1146.2 L797.2 1146.5 L799.2 1146.8 L801.2 1147.1 L803.2 1147.4 L805.2 1147.7 L807.2 1148 L809.2 1148.3 L811.2 1148.6 L813.2 1149 L815.2 1149.3 L817.2 1149.7 L819.2 1150 L821.2 1150.4 L823.2 1150.7 L825.2 1151.1 L827.2 1151.5 L829.2 1151.9 L831.2 1152.3 L833.2 1152.7 L835.2 1153.1 L837.2 1153.5 L839.2 1153.9 L841.2 1154.4 L843.2 1154.8 L845.2 1155.2 L847.2 1155.7 L849.2 1156.1 L851.2 1156.6 L853.2 1157 L855.2 1157.5 L857.2 1158 L859.2 1158.4 L861.2 1158.9 L863.2 1159.4 L865.2 1159.9 L867.2 1160.4 L869.2 1160.9 L871.2 1161.4 L873.2 1161.9 L875.2 1162.4 L877.2 1162.9 L879.2 1163.5 L881.2 1164 L883.2 1164.5 L885.2 1165 L887.2 1165.6 L889.2 1166.1 L891.2 1166.7 L893.2 1167.2 L895.2 1167.8 L897.2 1168.3 L899.2 1168.9 L901.2 1169.4 L903.2 1170 L905.2 1170.5 L907.2 1171.1 L909.2 1171.7 L911.2 1172.3 L913.2 1172.8 L915.2 1173.4 L917.2 1174 L919.2 1174.6 L921.2 1175.1 L923.2 1175.7 L925.2 1176.3" fill="none" stroke="#000000" stroke-width="4.3" stroke-linecap="round" stroke-dasharray="0.01 16.94"/>
<text transform="translate(891.3 741.3) scale(1.0 1)" font-size="42" font-weight="bold" fill="#9c9c9c" text-anchor="middle">b</text>
<rect x="185.5" y="1305" width="752" height="589" fill="#fff" stroke="#000" stroke-width="2.2"/>
<line x1="213.3" y1="1304" x2="213.3" y2="1895" stroke="#e9e9e9" stroke-width="2.4"/>
<line x1="329.4" y1="1304" x2="329.4" y2="1895" stroke="#e9e9e9" stroke-width="2.4"/>
<line x1="445.4" y1="1304" x2="445.4" y2="1895" stroke="#e9e9e9" stroke-width="2.4"/>
<line x1="561.5" y1="1304" x2="561.5" y2="1895" stroke="#e9e9e9" stroke-width="2.4"/>
<line x1="677.6" y1="1304" x2="677.6" y2="1895" stroke="#e9e9e9" stroke-width="2.4"/>
<line x1="793.7" y1="1304" x2="793.7" y2="1895" stroke="#e9e9e9" stroke-width="2.4"/>
<line x1="909.7" y1="1304" x2="909.7" y2="1895" stroke="#e9e9e9" stroke-width="2.4"/>
<line x1="186.5" y1="1872.3" x2="938.5" y2="1872.3" stroke="#e9e9e9" stroke-width="2.4"/>
<line x1="186.5" y1="1790.8" x2="938.5" y2="1790.8" stroke="#e9e9e9" stroke-width="2.4"/>
<line x1="186.5" y1="1709.3" x2="938.5" y2="1709.3" stroke="#e9e9e9" stroke-width="2.4"/>
<line x1="186.5" y1="1627.8" x2="938.5" y2="1627.8" stroke="#e9e9e9" stroke-width="2.4"/>
<line x1="186.5" y1="1546.3" x2="938.5" y2="1546.3" stroke="#e9e9e9" stroke-width="2.4"/>
<line x1="186.5" y1="1464.8" x2="938.5" y2="1464.8" stroke="#e9e9e9" stroke-width="2.4"/>
<line x1="186.5" y1="1383.3" x2="938.5" y2="1383.3" stroke="#e9e9e9" stroke-width="2.4"/>
<line x1="164" y1="1872" x2="185.5" y2="1872" stroke="#000" stroke-width="2"/>
<text x="144.6" y="1884.3" text-anchor="end" font-size="34">0</text>
<line x1="164" y1="1790.5" x2="185.5" y2="1790.5" stroke="#000" stroke-width="2"/>
<text x="144.6" y="1802.8" text-anchor="end" font-size="34">2</text>
<line x1="164" y1="1709" x2="185.5" y2="1709" stroke="#000" stroke-width="2"/>
<text x="144.6" y="1721.3" text-anchor="end" font-size="34">4</text>
<line x1="164" y1="1627.5" x2="185.5" y2="1627.5" stroke="#000" stroke-width="2"/>
<text x="144.6" y="1639.8" text-anchor="end" font-size="34">6</text>
<line x1="164" y1="1546" x2="185.5" y2="1546" stroke="#000" stroke-width="2"/>
<text x="144.6" y="1558.3" text-anchor="end" font-size="34">8</text>
<line x1="164" y1="1464.5" x2="185.5" y2="1464.5" stroke="#000" stroke-width="2"/>
<text x="144.6" y="1476.8" text-anchor="end" font-size="34">10</text>
<line x1="164" y1="1383" x2="185.5" y2="1383" stroke="#000" stroke-width="2"/>
<text x="144.6" y="1395.3" text-anchor="end" font-size="34">12</text>
<circle cx="213.3" cy="1872" r="4.5" fill="none" stroke="#adadad" stroke-width="1.9"/>
<circle cx="252" cy="1872" r="6" fill="none" stroke="#adadad" stroke-width="1.9"/>
<circle cx="290.7" cy="1828.4" r="7.3" fill="none" stroke="#adadad" stroke-width="1.9"/>
<circle cx="329.4" cy="1766.5" r="8.3" fill="none" stroke="#adadad" stroke-width="1.9"/>
<circle cx="368.1" cy="1760.9" r="9" fill="none" stroke="#adadad" stroke-width="1.9"/>
<circle cx="406.8" cy="1651.1" r="7.3" fill="none" stroke="#adadad" stroke-width="1.9"/>
<circle cx="445.4" cy="1738.3" r="8.3" fill="none" stroke="#adadad" stroke-width="1.9"/>
<circle cx="484.1" cy="1636.1" r="8.3" fill="none" stroke="#adadad" stroke-width="1.9"/>
<circle cx="522.8" cy="1676.4" r="7.4" fill="none" stroke="#adadad" stroke-width="1.9"/>
<circle cx="561.5" cy="1634.4" r="6" fill="none" stroke="#adadad" stroke-width="1.9"/>
<circle cx="600.2" cy="1624.6" r="7.1" fill="none" stroke="#adadad" stroke-width="1.9"/>
<circle cx="638.9" cy="1364.7" r="5.5" fill="none" stroke="#adadad" stroke-width="1.9"/>
<circle cx="677.6" cy="1561.5" r="6.5" fill="none" stroke="#adadad" stroke-width="1.9"/>
<circle cx="716.3" cy="1586.8" r="6.3" fill="none" stroke="#adadad" stroke-width="1.9"/>
<circle cx="755" cy="1577" r="7.6" fill="none" stroke="#adadad" stroke-width="1.9"/>
<circle cx="793.7" cy="1330" r="5.6" fill="none" stroke="#adadad" stroke-width="1.9"/>
<circle cx="832.3" cy="1570.5" r="5.9" fill="none" stroke="#adadad" stroke-width="1.9"/>
<circle cx="871" cy="1698.8" r="5.5" fill="none" stroke="#adadad" stroke-width="1.9"/>
<circle cx="909.7" cy="1607.1" r="3.7" fill="none" stroke="#adadad" stroke-width="1.9"/>
<path d="M213.3 1866.8 L217.8 1874.6 L208.8 1874.6Z" fill="none" stroke="#666666" stroke-width="2.1" stroke-linejoin="round"/>
<path d="M252 1865.6 L257.5 1875.2 L246.5 1875.2Z" fill="none" stroke="#666666" stroke-width="2.1" stroke-linejoin="round"/>
<path d="M290.7 1864.2 L297.8 1876.5 L283.6 1876.5Z" fill="none" stroke="#666666" stroke-width="2.1" stroke-linejoin="round"/>
<path d="M329.4 1855.3 L337.4 1869.1 L321.4 1869.1Z" fill="none" stroke="#666666" stroke-width="2.1" stroke-linejoin="round"/>
<path d="M368.1 1854.1 L376.1 1867.9 L360.1 1867.9Z" fill="none" stroke="#666666" stroke-width="2.1" stroke-linejoin="round"/>
<path d="M406.8 1833.9 L415.6 1849.3 L397.9 1849.3Z" fill="none" stroke="#666666" stroke-width="2.1" stroke-linejoin="round"/>
<path d="M445.4 1826.8 L449.2 1833.3 L441.7 1833.3Z" fill="none" stroke="#666666" stroke-width="2.1" stroke-linejoin="round"/>
<path d="M484.1 1817.9 L492 1831.5 L476.3 1831.5Z" fill="none" stroke="#666666" stroke-width="2.1" stroke-linejoin="round"/>
<path d="M522.8 1845.5 L530.5 1858.7 L515.2 1858.7Z" fill="none" stroke="#666666" stroke-width="2.1" stroke-linejoin="round"/>
<path d="M561.5 1666.5 L568.3 1678.2 L554.8 1678.2Z" fill="none" stroke="#666666" stroke-width="2.1" stroke-linejoin="round"/>
<path d="M600.2 1866.4 L604.8 1874.4 L595.6 1874.4Z" fill="none" stroke="#666666" stroke-width="2.1" stroke-linejoin="round"/>
<path d="M638.9 1642.4 L644.2 1651.7 L633.5 1651.7Z" fill="none" stroke="#666666" stroke-width="2.1" stroke-linejoin="round"/>
<path d="M677.6 1729.1 L684.9 1741.9 L670.2 1741.9Z" fill="none" stroke="#666666" stroke-width="2.1" stroke-linejoin="round"/>
<path d="M716.3 1646.5 L722.6 1657.4 L710 1657.4Z" fill="none" stroke="#666666" stroke-width="2.1" stroke-linejoin="round"/>
<path d="M755 1782.9 L761.9 1794.8 L748.1 1794.8Z" fill="none" stroke="#666666" stroke-width="2.1" stroke-linejoin="round"/>
<path d="M793.7 1654.1 L799.7 1664.5 L787.7 1664.5Z" fill="none" stroke="#666666" stroke-width="2.1" stroke-linejoin="round"/>
<path d="M832.3 1730.7 L836.9 1738.7 L827.7 1738.7Z" fill="none" stroke="#666666" stroke-width="2.1" stroke-linejoin="round"/>
<path d="M871 1568.1 L875.7 1576.1 L866.4 1576.1Z" fill="none" stroke="#666666" stroke-width="2.1" stroke-linejoin="round"/>
<path d="M909.7 1318 L914.2 1325.8 L905.2 1325.8Z" fill="none" stroke="#666666" stroke-width="2.1" stroke-linejoin="round"/>
<rect x="208.9" y="1867.6" width="8.8" height="8.8" fill="none" stroke="#000" stroke-width="2" stroke-linejoin="round"/>
<rect x="246.2" y="1866.2" width="11.5" height="11.5" fill="none" stroke="#000" stroke-width="2" stroke-linejoin="round"/>
<rect x="285.9" y="1854" width="9.5" height="9.5" fill="none" stroke="#000" stroke-width="2" stroke-linejoin="round"/>
<rect x="324.4" y="1867" width="10" height="10" fill="none" stroke="#000" stroke-width="2" stroke-linejoin="round"/>
<rect x="360.9" y="1852.4" width="14.3" height="14.3" fill="none" stroke="#000" stroke-width="2" stroke-linejoin="round"/>
<rect x="401.6" y="1866.9" width="10.2" height="10.2" fill="none" stroke="#000" stroke-width="2" stroke-linejoin="round"/>
<rect x="439.5" y="1857.9" width="11.9" height="11.9" fill="none" stroke="#000" stroke-width="2" stroke-linejoin="round"/>
<rect x="477.6" y="1865.5" width="13" height="13" fill="none" stroke="#000" stroke-width="2" stroke-linejoin="round"/>
<rect x="517.8" y="1796.9" width="10.1" height="10.1" fill="none" stroke="#000" stroke-width="2" stroke-linejoin="round"/>
<rect x="557.7" y="1766.3" width="7.6" height="7.6" fill="none" stroke="#000" stroke-width="2" stroke-linejoin="round"/>
<rect x="595.2" y="1808.6" width="9.9" height="9.9" fill="none" stroke="#000" stroke-width="2" stroke-linejoin="round"/>
<rect x="633.8" y="1762.2" width="10.1" height="10.1" fill="none" stroke="#000" stroke-width="2" stroke-linejoin="round"/>
<rect x="674.9" y="1787.8" width="5.3" height="5.3" fill="none" stroke="#000" stroke-width="2" stroke-linejoin="round"/>
<rect x="710.4" y="1695" width="11.7" height="11.7" fill="none" stroke="#000" stroke-width="2" stroke-linejoin="round"/>
<rect x="749.8" y="1738.9" width="10.3" height="10.3" fill="none" stroke="#000" stroke-width="2" stroke-linejoin="round"/>
<rect x="788.2" y="1632.4" width="10.9" height="10.9" fill="none" stroke="#000" stroke-width="2" stroke-linejoin="round"/>
<rect x="827.7" y="1623.5" width="9.2" height="9.2" fill="none" stroke="#000" stroke-width="2" stroke-linejoin="round"/>
<rect x="866.8" y="1656.3" width="8.4" height="8.4" fill="none" stroke="#000" stroke-width="2" stroke-linejoin="round"/>
<rect x="907.6" y="1626" width="4.3" height="4.3" fill="none" stroke="#000" stroke-width="2" stroke-linejoin="round"/>
<path d="M217.2 1844 L219.2 1843.4 L221.2 1842.8 L223.2 1842.2 L225.2 1841.6 L227.2 1840.9 L229.2 1840.3 L231.2 1839.6 L233.2 1839 L235.2 1838.3 L237.2 1837.7 L239.2 1837 L241.2 1836.3 L243.2 1835.6 L245.2 1834.8 L247.2 1834.1 L249.2 1833.4 L251.2 1832.6 L253.2 1831.9 L255.2 1831.1 L257.2 1830.3 L259.2 1829.5 L261.2 1828.7 L263.2 1827.9 L265.2 1827.1 L267.2 1826.2 L269.2 1825.4 L271.2 1824.5 L273.2 1823.7 L275.2 1822.8 L277.2 1821.9 L279.2 1821 L281.2 1820.1 L283.2 1819.2 L285.2 1818.2 L287.2 1817.3 L289.2 1816.3 L291.2 1815.3 L293.2 1814.3 L295.2 1813.3 L297.2 1812.3 L299.2 1811.3 L301.2 1810.3 L303.2 1809.2 L305.2 1808.2 L307.2 1807.1 L309.2 1806 L311.2 1804.9 L313.2 1803.8 L315.2 1802.7 L317.2 1801.6 L319.2 1800.4 L321.2 1799.3 L323.2 1798.1 L325.2 1796.9 L327.2 1795.7 L329.2 1794.5 L331.2 1793.3 L333.2 1792.1 L335.2 1790.8 L337.2 1789.6 L339.2 1788.3 L341.2 1787 L343.2 1785.7 L345.2 1784.4 L347.2 1783.1 L349.2 1781.7 L351.2 1780.4 L353.2 1779 L355.2 1777.6 L357.2 1776.2 L359.2 1774.8 L361.2 1773.4 L363.2 1772 L365.2 1770.5 L367.2 1769.1 L369.2 1767.6 L371.2 1766.1 L373.2 1764.6 L375.2 1763.1 L377.2 1761.5 L379.2 1760 L381.2 1758.4 L383.2 1756.8 L385.2 1755.3 L387.2 1753.7 L389.2 1752 L391.2 1750.4 L393.2 1748.8 L395.2 1747.1 L397.2 1745.4 L399.2 1743.7 L401.2 1742 L403.2 1740.3 L405.2 1738.6 L407.2 1736.8 L409.2 1735 L411.2 1733.3 L413.2 1731.5 L415.2 1729.7 L417.2 1727.8 L419.2 1726 L421.2 1724.1 L423.2 1722.3 L425.2 1720.4 L427.2 1718.5 L429.2 1716.5 L431.2 1714.6 L433.2 1712.7 L435.2 1710.7 L437.2 1708.7 L439.2 1706.7 L441.2 1704.7 L443.2 1702.7 L445.2 1700.6 L447.2 1698.5 L449.2 1696.5 L451.2 1694.4 L453.2 1692.3 L455.2 1690.1 L457.2 1688 L459.2 1685.8 L461.2 1683.7 L463.2 1681.5 L465.2 1679.3 L467.2 1677.1 L469.2 1674.8 L471.2 1672.6 L473.2 1670.3 L475.2 1668.1 L477.2 1665.8 L479.2 1663.5 L481.2 1661.3 L483.2 1659 L485.2 1656.7 L487.2 1654.4 L489.2 1652 L491.2 1649.7 L493.2 1647.4 L495.2 1645.1 L497.2 1642.7 L499.2 1640.4 L501.2 1638.1 L503.2 1635.7 L505.2 1633.4 L507.2 1631 L509.2 1628.7 L511.2 1626.4 L513.2 1624 L515.2 1621.7 L517.2 1619.3 L519.2 1617 L521.2 1614.7 L523.2 1612.4 L525.2 1610 L527.2 1607.7 L529.2 1605.4 L531.2 1603.1 L533.2 1600.8 L535.2 1598.5 L537.2 1596.2 L539.2 1594 L541.2 1591.7 L543.2 1589.5 L545.2 1587.2 L547.2 1585 L549.2 1582.8 L551.2 1580.6 L553.2 1578.4 L555.2 1576.2 L557.2 1574.1 L559.2 1572 L561.2 1569.9 L563.2 1567.8 L565.2 1565.7 L567.2 1563.7 L569.2 1561.6 L571.2 1559.6 L573.2 1557.7 L575.2 1555.7 L577.2 1553.8 L579.2 1551.9 L581.2 1550.1 L583.2 1548.2 L585.2 1546.4 L587.2 1544.7 L589.2 1542.9 L591.2 1541.2 L593.2 1539.6 L595.2 1538 L597.2 1536.4 L599.2 1534.8 L601.2 1533.3 L603.2 1531.9 L605.2 1530.4 L607.2 1529.1 L609.2 1527.7 L611.2 1526.4 L613.2 1525.1 L615.2 1523.9 L617.2 1522.7 L619.2 1521.5 L621.2 1520.4 L623.2 1519.3 L625.2 1518.2 L627.2 1517.2 L629.2 1516.2 L631.2 1515.2 L633.2 1514.3 L635.2 1513.5 L637.2 1512.6 L639.2 1511.8 L641.2 1511 L643.2 1510.3 L645.2 1509.6 L647.2 1508.9 L649.2 1508.3 L651.2 1507.7 L653.2 1507.1 L655.2 1506.6 L657.2 1506.1 L659.2 1505.6 L661.2 1505.1 L663.2 1504.7 L665.2 1504.4 L667.2 1504 L669.2 1503.7 L671.2 1503.4 L673.2 1503.2 L675.2 1503 L677.2 1502.8 L679.2 1502.7 L681.2 1502.5 L683.2 1502.4 L685.2 1502.4 L687.2 1502.4 L689.2 1502.4 L691.2 1502.4 L693.2 1502.5 L695.2 1502.6 L697.2 1502.7 L699.2 1502.8 L701.2 1503 L703.2 1503.2 L705.2 1503.5 L707.2 1503.7 L709.2 1504 L711.2 1504.3 L713.2 1504.7 L715.2 1505.1 L717.2 1505.5 L719.2 1505.9 L721.2 1506.4 L723.2 1506.9 L725.2 1507.4 L727.2 1507.9 L729.2 1508.5 L731.2 1509.1 L733.2 1509.7 L735.2 1510.4 L737.2 1511.1 L739.2 1511.8 L741.2 1512.5 L743.2 1513.2 L745.2 1514 L747.2 1514.8 L749.2 1515.6 L751.2 1516.5 L753.2 1517.3 L755.2 1518.2 L757.2 1519.1 L759.2 1520.1 L761.2 1521 L763.2 1522 L765.2 1523 L767.2 1524 L769.2 1525 L771.2 1526 L773.2 1527.1 L775.2 1528.1 L777.2 1529.2 L779.2 1530.3 L781.2 1531.4 L783.2 1532.5 L785.2 1533.6 L787.2 1534.7 L789.2 1535.9 L791.2 1537 L793.2 1538.2 L795.2 1539.4 L797.2 1540.5 L799.2 1541.7 L801.2 1542.9 L803.2 1544.1 L805.2 1545.3 L807.2 1546.5 L809.2 1547.7 L811.2 1548.9 L813.2 1550.1 L815.2 1551.3 L817.2 1552.5 L819.2 1553.8 L821.2 1555 L823.2 1556.2 L825.2 1557.5 L827.2 1558.7 L829.2 1560 L831.2 1561.2 L833.2 1562.5 L835.2 1563.7 L837.2 1565 L839.2 1566.3 L841.2 1567.6 L843.2 1568.9 L845.2 1570.2 L847.2 1571.5 L849.2 1572.8 L851.2 1574.1 L853.2 1575.4 L855.2 1576.7 L857.2 1578.1 L859.2 1579.4 L861.2 1580.8 L863.2 1582.2 L865.2 1583.6 L867.2 1585 L869.2 1586.4 L871.2 1587.8 L873.2 1589.2 L875.2 1590.7 L877.2 1592.2 L879.2 1593.6 L881.2 1595.1 L883.2 1596.7 L885.2 1598.2 L887.2 1599.8 L889.2 1601.3 L891.2 1602.9 L893.2 1604.6 L895.2 1606.2 L897.2 1607.9 L899.2 1609.6 L901.2 1611.3 L903.2 1613 L905.2 1614.8 L907.2 1616.6 L909.2 1618.4 L911.2 1620.2 L913.2 1622.1 L915.2 1624 L917.2 1625.9 L919.2 1627.9 L921.2 1629.9 L923.2 1631.9 L925.2 1634 L925.2 1835.4 L923.2 1835 L921.2 1834.5 L919.2 1834.1 L917.2 1833.6 L915.2 1833.1 L913.2 1832.6 L911.2 1832 L909.2 1831.5 L907.2 1830.9 L905.2 1830.3 L903.2 1829.6 L901.2 1829 L899.2 1828.3 L897.2 1827.6 L895.2 1826.9 L893.2 1826.2 L891.2 1825.4 L889.2 1824.6 L887.2 1823.9 L885.2 1823.1 L883.2 1822.2 L881.2 1821.4 L879.2 1820.6 L877.2 1819.7 L875.2 1818.8 L873.2 1817.9 L871.2 1817 L869.2 1816.1 L867.2 1815.2 L865.2 1814.2 L863.2 1813.3 L861.2 1812.3 L859.2 1811.3 L857.2 1810.3 L855.2 1809.3 L853.2 1808.3 L851.2 1807.3 L849.2 1806.2 L847.2 1805.2 L845.2 1804.2 L843.2 1803.1 L841.2 1802 L839.2 1801 L837.2 1799.9 L835.2 1798.8 L833.2 1797.7 L831.2 1796.6 L829.2 1795.5 L827.2 1794.4 L825.2 1793.3 L823.2 1792.2 L821.2 1791.1 L819.2 1790 L817.2 1788.9 L815.2 1787.8 L813.2 1786.6 L811.2 1785.5 L809.2 1784.4 L807.2 1783.3 L805.2 1782.2 L803.2 1781 L801.2 1779.9 L799.2 1778.8 L797.2 1777.7 L795.2 1776.6 L793.2 1775.5 L791.2 1774.4 L789.2 1773.3 L787.2 1772.2 L785.2 1771.1 L783.2 1770 L781.2 1769 L779.2 1767.9 L777.2 1766.8 L775.2 1765.8 L773.2 1764.7 L771.2 1763.7 L769.2 1762.7 L767.2 1761.7 L765.2 1760.7 L763.2 1759.7 L761.2 1758.7 L759.2 1757.7 L757.2 1756.7 L755.2 1755.8 L753.2 1754.8 L751.2 1753.9 L749.2 1753 L747.2 1752.1 L745.2 1751.2 L743.2 1750.3 L741.2 1749.4 L739.2 1748.6 L737.2 1747.7 L735.2 1746.9 L733.2 1746.1 L731.2 1745.3 L729.2 1744.5 L727.2 1743.8 L725.2 1743 L723.2 1742.3 L721.2 1741.5 L719.2 1740.8 L717.2 1740.2 L715.2 1739.5 L713.2 1738.8 L711.2 1738.2 L709.2 1737.6 L707.2 1737 L705.2 1736.4 L703.2 1735.9 L701.2 1735.3 L699.2 1734.8 L697.2 1734.3 L695.2 1733.8 L693.2 1733.3 L691.2 1732.9 L689.2 1732.5 L687.2 1732.1 L685.2 1731.7 L683.2 1731.3 L681.2 1731 L679.2 1730.7 L677.2 1730.4 L675.2 1730.1 L673.2 1729.9 L671.2 1729.6 L669.2 1729.4 L667.2 1729.2 L665.2 1729.1 L663.2 1728.9 L661.2 1728.8 L659.2 1728.7 L657.2 1728.6 L655.2 1728.6 L653.2 1728.5 L651.2 1728.5 L649.2 1728.5 L647.2 1728.5 L645.2 1728.6 L643.2 1728.6 L641.2 1728.7 L639.2 1728.8 L637.2 1728.9 L635.2 1729.1 L633.2 1729.2 L631.2 1729.4 L629.2 1729.6 L627.2 1729.8 L625.2 1730 L623.2 1730.2 L621.2 1730.5 L619.2 1730.8 L617.2 1731.1 L615.2 1731.4 L613.2 1731.7 L611.2 1732.1 L609.2 1732.4 L607.2 1732.8 L605.2 1733.2 L603.2 1733.6 L601.2 1734 L599.2 1734.5 L597.2 1734.9 L595.2 1735.4 L593.2 1735.9 L591.2 1736.4 L589.2 1736.9 L587.2 1737.4 L585.2 1738 L583.2 1738.5 L581.2 1739.1 L579.2 1739.7 L577.2 1740.3 L575.2 1740.9 L573.2 1741.5 L571.2 1742.2 L569.2 1742.8 L567.2 1743.5 L565.2 1744.2 L563.2 1744.9 L561.2 1745.6 L559.2 1746.3 L557.2 1747 L555.2 1747.8 L553.2 1748.5 L551.2 1749.3 L549.2 1750.1 L547.2 1750.8 L545.2 1751.6 L543.2 1752.4 L541.2 1753.3 L539.2 1754.1 L537.2 1754.9 L535.2 1755.8 L533.2 1756.6 L531.2 1757.5 L529.2 1758.3 L527.2 1759.2 L525.2 1760.1 L523.2 1761 L521.2 1761.9 L519.2 1762.8 L517.2 1763.7 L515.2 1764.6 L513.2 1765.5 L511.2 1766.5 L509.2 1767.4 L507.2 1768.3 L505.2 1769.3 L503.2 1770.2 L501.2 1771.2 L499.2 1772.1 L497.2 1773.1 L495.2 1774.1 L493.2 1775 L491.2 1776 L489.2 1777 L487.2 1777.9 L485.2 1778.9 L483.2 1779.9 L481.2 1780.9 L479.2 1781.9 L477.2 1782.9 L475.2 1783.8 L473.2 1784.8 L471.2 1785.8 L469.2 1786.8 L467.2 1787.8 L465.2 1788.8 L463.2 1789.8 L461.2 1790.8 L459.2 1791.8 L457.2 1792.7 L455.2 1793.7 L453.2 1794.7 L451.2 1795.7 L449.2 1796.7 L447.2 1797.6 L445.2 1798.6 L443.2 1799.6 L441.2 1800.6 L439.2 1801.5 L437.2 1802.5 L435.2 1803.4 L433.2 1804.4 L431.2 1805.3 L429.2 1806.3 L427.2 1807.2 L425.2 1808.1 L423.2 1809.1 L421.2 1810 L419.2 1810.9 L417.2 1811.8 L415.2 1812.7 L413.2 1813.6 L411.2 1814.5 L409.2 1815.4 L407.2 1816.2 L405.2 1817.1 L403.2 1818 L401.2 1818.8 L399.2 1819.6 L397.2 1820.5 L395.2 1821.3 L393.2 1822.1 L391.2 1822.9 L389.2 1823.7 L387.2 1824.5 L385.2 1825.3 L383.2 1826.1 L381.2 1826.8 L379.2 1827.6 L377.2 1828.3 L375.2 1829.1 L373.2 1829.8 L371.2 1830.5 L369.2 1831.3 L367.2 1832 L365.2 1832.7 L363.2 1833.4 L361.2 1834.1 L359.2 1834.8 L357.2 1835.4 L355.2 1836.1 L353.2 1836.8 L351.2 1837.4 L349.2 1838.1 L347.2 1838.7 L345.2 1839.3 L343.2 1840 L341.2 1840.6 L339.2 1841.2 L337.2 1841.8 L335.2 1842.4 L333.2 1843 L331.2 1843.6 L329.2 1844.1 L327.2 1844.7 L325.2 1845.3 L323.2 1845.8 L321.2 1846.4 L319.2 1846.9 L317.2 1847.4 L315.2 1848 L313.2 1848.5 L311.2 1849 L309.2 1849.5 L307.2 1850 L305.2 1850.5 L303.2 1851 L301.2 1851.5 L299.2 1852 L297.2 1852.4 L295.2 1852.9 L293.2 1853.4 L291.2 1853.8 L289.2 1854.3 L287.2 1854.7 L285.2 1855.1 L283.2 1855.6 L281.2 1856 L279.2 1856.4 L277.2 1856.8 L275.2 1857.2 L273.2 1857.6 L271.2 1858 L269.2 1858.4 L267.2 1858.8 L265.2 1859.2 L263.2 1859.5 L261.2 1859.9 L259.2 1860.2 L257.2 1860.6 L255.2 1860.9 L253.2 1861.3 L251.2 1861.6 L249.2 1862 L247.2 1862.3 L245.2 1862.6 L243.2 1862.9 L241.2 1863.2 L239.2 1863.5 L237.2 1863.8 L235.2 1864.1 L233.2 1864.4 L231.2 1864.7 L229.2 1865 L227.2 1865.2 L225.2 1865.5 L223.2 1865.8 L221.2 1866 L219.2 1866.3 L217.2 1866.5Z" fill="rgba(179,179,179,0.27)"/>
<path d="M217.2 1859.3 L219.2 1859 L221.2 1858.7 L223.2 1858.3 L225.2 1858 L227.2 1857.6 L229.2 1857.3 L231.2 1856.9 L233.2 1856.5 L235.2 1856.1 L237.2 1855.7 L239.2 1855.3 L241.2 1854.9 L243.2 1854.5 L245.2 1854 L247.2 1853.6 L249.2 1853.1 L251.2 1852.7 L253.2 1852.2 L255.2 1851.8 L257.2 1851.3 L259.2 1850.8 L261.2 1850.3 L263.2 1849.8 L265.2 1849.2 L267.2 1848.7 L269.2 1848.2 L271.2 1847.6 L273.2 1847.1 L275.2 1846.5 L277.2 1845.9 L279.2 1845.3 L281.2 1844.7 L283.2 1844.1 L285.2 1843.5 L287.2 1842.9 L289.2 1842.2 L291.2 1841.6 L293.2 1840.9 L295.2 1840.2 L297.2 1839.5 L299.2 1838.9 L301.2 1838.1 L303.2 1837.4 L305.2 1836.7 L307.2 1836 L309.2 1835.2 L311.2 1834.4 L313.2 1833.7 L315.2 1832.9 L317.2 1832.1 L319.2 1831.3 L321.2 1830.5 L323.2 1829.6 L325.2 1828.8 L327.2 1827.9 L329.2 1827.1 L331.2 1826.2 L333.2 1825.3 L335.2 1824.4 L337.2 1823.5 L339.2 1822.5 L341.2 1821.6 L343.2 1820.6 L345.2 1819.7 L347.2 1818.7 L349.2 1817.7 L351.2 1816.7 L353.2 1815.7 L355.2 1814.7 L357.2 1813.6 L359.2 1812.6 L361.2 1811.5 L363.2 1810.5 L365.2 1809.4 L367.2 1808.3 L369.2 1807.2 L371.2 1806.1 L373.2 1804.9 L375.2 1803.8 L377.2 1802.6 L379.2 1801.5 L381.2 1800.3 L383.2 1799.1 L385.2 1797.9 L387.2 1796.7 L389.2 1795.5 L391.2 1794.2 L393.2 1793 L395.2 1791.7 L397.2 1790.5 L399.2 1789.2 L401.2 1787.9 L403.2 1786.6 L405.2 1785.3 L407.2 1784 L409.2 1782.7 L411.2 1781.3 L413.2 1780 L415.2 1778.6 L417.2 1777.3 L419.2 1775.9 L421.2 1774.5 L423.2 1773.1 L425.2 1771.7 L427.2 1770.3 L429.2 1768.9 L431.2 1767.5 L433.2 1766.1 L435.2 1764.6 L437.2 1763.2 L439.2 1761.7 L441.2 1760.3 L443.2 1758.8 L445.2 1757.3 L447.2 1755.9 L449.2 1754.4 L451.2 1752.9 L453.2 1751.4 L455.2 1749.9 L457.2 1748.4 L459.2 1746.9 L461.2 1745.4 L463.2 1743.9 L465.2 1742.4 L467.2 1740.8 L469.2 1739.3 L471.2 1737.8 L473.2 1736.3 L475.2 1734.7 L477.2 1733.2 L479.2 1731.7 L481.2 1730.1 L483.2 1728.6 L485.2 1727.1 L487.2 1725.5 L489.2 1724 L491.2 1722.5 L493.2 1720.9 L495.2 1719.4 L497.2 1717.9 L499.2 1716.4 L501.2 1714.9 L503.2 1713.3 L505.2 1711.8 L507.2 1710.3 L509.2 1708.8 L511.2 1707.3 L513.2 1705.8 L515.2 1704.3 L517.2 1702.8 L519.2 1701.4 L521.2 1699.9 L523.2 1698.4 L525.2 1697 L527.2 1695.5 L529.2 1694.1 L531.2 1692.7 L533.2 1691.2 L535.2 1689.8 L537.2 1688.4 L539.2 1687 L541.2 1685.6 L543.2 1684.3 L545.2 1682.9 L547.2 1681.6 L549.2 1680.2 L551.2 1678.9 L553.2 1677.6 L555.2 1676.3 L557.2 1675 L559.2 1673.7 L561.2 1672.5 L563.2 1671.3 L565.2 1670 L567.2 1668.8 L569.2 1667.6 L571.2 1666.4 L573.2 1665.3 L575.2 1664.1 L577.2 1663 L579.2 1661.9 L581.2 1660.8 L583.2 1659.8 L585.2 1658.7 L587.2 1657.7 L589.2 1656.7 L591.2 1655.7 L593.2 1654.7 L595.2 1653.7 L597.2 1652.8 L599.2 1651.9 L601.2 1651 L603.2 1650.1 L605.2 1649.3 L607.2 1648.5 L609.2 1647.7 L611.2 1646.9 L613.2 1646.1 L615.2 1645.4 L617.2 1644.7 L619.2 1644 L621.2 1643.4 L623.2 1642.7 L625.2 1642.1 L627.2 1641.5 L629.2 1641 L631.2 1640.4 L633.2 1639.9 L635.2 1639.4 L637.2 1639 L639.2 1638.5 L641.2 1638.1 L643.2 1637.7 L645.2 1637.4 L647.2 1637 L649.2 1636.7 L651.2 1636.4 L653.2 1636.2 L655.2 1636 L657.2 1635.8 L659.2 1635.6 L661.2 1635.4 L663.2 1635.3 L665.2 1635.2 L667.2 1635.2 L669.2 1635.1 L671.2 1635.1 L673.2 1635.1 L675.2 1635.2 L677.2 1635.2 L679.2 1635.3 L681.2 1635.5 L683.2 1635.6 L685.2 1635.8 L687.2 1636 L689.2 1636.2 L691.2 1636.5 L693.2 1636.8 L695.2 1637.1 L697.2 1637.4 L699.2 1637.8 L701.2 1638.2 L703.2 1638.6 L705.2 1639 L707.2 1639.5 L709.2 1640 L711.2 1640.5 L713.2 1641 L715.2 1641.6 L717.2 1642.2 L719.2 1642.8 L721.2 1643.4 L723.2 1644.1 L725.2 1644.8 L727.2 1645.5 L729.2 1646.2 L731.2 1647 L733.2 1647.8 L735.2 1648.6 L737.2 1649.4 L739.2 1650.2 L741.2 1651.1 L743.2 1652 L745.2 1652.9 L747.2 1653.9 L749.2 1654.8 L751.2 1655.8 L753.2 1656.8 L755.2 1657.8 L757.2 1658.8 L759.2 1659.9 L761.2 1661 L763.2 1662 L765.2 1663.2 L767.2 1664.3 L769.2 1665.4 L771.2 1666.6 L773.2 1667.8 L775.2 1669 L777.2 1670.2 L779.2 1671.4 L781.2 1672.6 L783.2 1673.9 L785.2 1675.2 L787.2 1676.5 L789.2 1677.7 L791.2 1679.1 L793.2 1680.4 L795.2 1681.7 L797.2 1683.1 L799.2 1684.4 L801.2 1685.8 L803.2 1687.2 L805.2 1688.6 L807.2 1690 L809.2 1691.4 L811.2 1692.8 L813.2 1694.3 L815.2 1695.7 L817.2 1697.1 L819.2 1698.6 L821.2 1700.1 L823.2 1701.5 L825.2 1703 L827.2 1704.5 L829.2 1706 L831.2 1707.5 L833.2 1709 L835.2 1710.5 L837.2 1712 L839.2 1713.5 L841.2 1715 L843.2 1716.6 L845.2 1718.1 L847.2 1719.6 L849.2 1721.1 L851.2 1722.7 L853.2 1724.2 L855.2 1725.7 L857.2 1727.3 L859.2 1728.8 L861.2 1730.3 L863.2 1731.9 L865.2 1733.4 L867.2 1734.9 L869.2 1736.4 L871.2 1738 L873.2 1739.5 L875.2 1741 L877.2 1742.5 L879.2 1744.1 L881.2 1745.6 L883.2 1747.1 L885.2 1748.6 L887.2 1750.1 L889.2 1751.6 L891.2 1753.1 L893.2 1754.6 L895.2 1756 L897.2 1757.5 L899.2 1759 L901.2 1760.4 L903.2 1761.9 L905.2 1763.4 L907.2 1764.8 L909.2 1766.2 L911.2 1767.7 L913.2 1769.1 L915.2 1770.5 L917.2 1771.9 L919.2 1773.3 L921.2 1774.7 L923.2 1776.1 L925.2 1777.4" fill="none" stroke="#adadad" stroke-width="4.2" stroke-linecap="round" stroke-linejoin="round"/>
<path d="M217.2 1870.5 L219.2 1870.5 L221.2 1870.6 L223.2 1870.7 L225.2 1870.7 L227.2 1870.8 L229.2 1870.8 L231.2 1870.9 L233.2 1870.9 L235.2 1871 L237.2 1871 L239.2 1871 L241.2 1871.1 L243.2 1871.1 L245.2 1871.1 L247.2 1871.1 L249.2 1871.1 L251.2 1871.1 L253.2 1871.1 L255.2 1871.1 L257.2 1871.1 L259.2 1871.1 L261.2 1871.1 L263.2 1871 L265.2 1871 L267.2 1871 L269.2 1871 L271.2 1870.9 L273.2 1870.9 L275.2 1870.8 L277.2 1870.8 L279.2 1870.7 L281.2 1870.7 L283.2 1870.6 L285.2 1870.5 L287.2 1870.5 L289.2 1870.4 L291.2 1870.3 L293.2 1870.2 L295.2 1870.1 L297.2 1870 L299.2 1869.9 L301.2 1869.8 L303.2 1869.7 L305.2 1869.6 L307.2 1869.5 L309.2 1869.4 L311.2 1869.3 L313.2 1869.1 L315.2 1869 L317.2 1868.9 L319.2 1868.7 L321.2 1868.6 L323.2 1868.4 L325.2 1868.3 L327.2 1868.1 L329.2 1868 L331.2 1867.8 L333.2 1867.6 L335.2 1867.5 L337.2 1867.3 L339.2 1867.1 L341.2 1866.9 L343.2 1866.7 L345.2 1866.5 L347.2 1866.3 L349.2 1866.1 L351.2 1865.9 L353.2 1865.7 L355.2 1865.5 L357.2 1865.3 L359.2 1865 L361.2 1864.8 L363.2 1864.6 L365.2 1864.3 L367.2 1864.1 L369.2 1863.8 L371.2 1863.6 L373.2 1863.3 L375.2 1863.1 L377.2 1862.8 L379.2 1862.6 L381.2 1862.3 L383.2 1862 L385.2 1861.7 L387.2 1861.4 L389.2 1861.1 L391.2 1860.9 L393.2 1860.6 L395.2 1860.3 L397.2 1859.9 L399.2 1859.6 L401.2 1859.3 L403.2 1859 L405.2 1858.7 L407.2 1858.4 L409.2 1858 L411.2 1857.7 L413.2 1857.3 L415.2 1857 L417.2 1856.6 L419.2 1856.3 L421.2 1855.9 L423.2 1855.6 L425.2 1855.2 L427.2 1854.8 L429.2 1854.5 L431.2 1854.1 L433.2 1853.7 L435.2 1853.3 L437.2 1852.9 L439.2 1852.5 L441.2 1852.1 L443.2 1851.7 L445.2 1851.3 L447.2 1850.9 L449.2 1850.5 L451.2 1850 L453.2 1849.6 L455.2 1849.2 L457.2 1848.7 L459.2 1848.3 L461.2 1847.9 L463.2 1847.4 L465.2 1847 L467.2 1846.5 L469.2 1846 L471.2 1845.6 L473.2 1845.1 L475.2 1844.6 L477.2 1844.1 L479.2 1843.7 L481.2 1843.2 L483.2 1842.7 L485.2 1842.2 L487.2 1841.7 L489.2 1841.2 L491.2 1840.7 L493.2 1840.2 L495.2 1839.6 L497.2 1839.1 L499.2 1838.6 L501.2 1838.1 L503.2 1837.5 L505.2 1837 L507.2 1836.4 L509.2 1835.9 L511.2 1835.3 L513.2 1834.8 L515.2 1834.2 L517.2 1833.6 L519.2 1833.1 L521.2 1832.5 L523.2 1831.9 L525.2 1831.3 L527.2 1830.7 L529.2 1830.1 L531.2 1829.5 L533.2 1828.9 L535.2 1828.2 L537.2 1827.6 L539.2 1826.9 L541.2 1826.2 L543.2 1825.5 L545.2 1824.8 L547.2 1824 L549.2 1823.3 L551.2 1822.5 L553.2 1821.7 L555.2 1820.8 L557.2 1820 L559.2 1819.1 L561.2 1818.2 L563.2 1817.3 L565.2 1816.3 L567.2 1815.3 L569.2 1814.3 L571.2 1813.2 L573.2 1812.1 L575.2 1811 L577.2 1809.9 L579.2 1808.7 L581.2 1807.4 L583.2 1806.2 L585.2 1804.9 L587.2 1803.5 L589.2 1802.2 L591.2 1800.8 L593.2 1799.3 L595.2 1797.9 L597.2 1796.4 L599.2 1794.9 L601.2 1793.4 L603.2 1791.9 L605.2 1790.3 L607.2 1788.8 L609.2 1787.2 L611.2 1785.6 L613.2 1784 L615.2 1782.4 L617.2 1780.8 L619.2 1779.2 L621.2 1777.6 L623.2 1776 L625.2 1774.4 L627.2 1772.8 L629.2 1771.1 L631.2 1769.5 L633.2 1767.9 L635.2 1766.2 L637.2 1764.6 L639.2 1762.9 L641.2 1761.2 L643.2 1759.5 L645.2 1757.7 L647.2 1755.9 L649.2 1754.1 L651.2 1752.3 L653.2 1750.4 L655.2 1748.5 L657.2 1746.6 L659.2 1744.6 L661.2 1742.6 L663.2 1740.7 L665.2 1738.6 L667.2 1736.6 L669.2 1734.5 L671.2 1732.4 L673.2 1730.3 L675.2 1728.2 L677.2 1726 L679.2 1723.8 L681.2 1721.6 L683.2 1719.4 L685.2 1717.2 L687.2 1714.9 L689.2 1712.7 L691.2 1710.4 L693.2 1708.1 L695.2 1705.8 L697.2 1703.4 L699.2 1701.1 L701.2 1698.7 L703.2 1696.3 L705.2 1693.9 L707.2 1691.5 L709.2 1689.1 L711.2 1686.6 L713.2 1684.2 L715.2 1681.7 L717.2 1679.3 L719.2 1676.8 L721.2 1674.3 L723.2 1671.8 L725.2 1669.3 L727.2 1666.8 L729.2 1664.3 L731.2 1661.7 L733.2 1659.2 L735.2 1656.7 L737.2 1654.1 L739.2 1651.6 L741.2 1649 L743.2 1646.4 L745.2 1643.9 L747.2 1641.3 L749.2 1638.7 L751.2 1636.2 L753.2 1633.6 L755.2 1631 L757.2 1628.4 L759.2 1625.9 L761.2 1623.3 L763.2 1620.7 L765.2 1618.2 L767.2 1615.6 L769.2 1613 L771.2 1610.4 L773.2 1607.9 L775.2 1605.3 L777.2 1602.8 L779.2 1600.2 L781.2 1597.7 L783.2 1595.2 L785.2 1592.6 L787.2 1590.1 L789.2 1587.6 L791.2 1585.1 L793.2 1582.6 L795.2 1580.1 L797.2 1577.6 L799.2 1575.2 L801.2 1572.7 L803.2 1570.3 L805.2 1567.8 L807.2 1565.4 L809.2 1563 L811.2 1560.6 L813.2 1558.2 L815.2 1555.9 L817.2 1553.5 L819.2 1551.2 L821.2 1548.9 L823.2 1546.6 L825.2 1544.3 L827.2 1542 L829.2 1539.8 L831.2 1537.5 L833.2 1535.3 L835.2 1533.1 L837.2 1530.9 L839.2 1528.8 L841.2 1526.7 L843.2 1524.6 L845.2 1522.5 L847.2 1520.4 L849.2 1518.4 L851.2 1516.3 L853.2 1514.3 L855.2 1512.4 L857.2 1510.4 L859.2 1508.5 L861.2 1506.6 L863.2 1504.7 L865.2 1502.9 L867.2 1501.1 L869.2 1499.3 L871.2 1497.5 L873.2 1495.8 L875.2 1494.1 L877.2 1492.4 L879.2 1490.8 L881.2 1489.2 L883.2 1487.6 L885.2 1486.1 L887.2 1484.6 L889.2 1483.1 L891.2 1481.6 L893.2 1480.2 L895.2 1478.9 L897.2 1477.5 L899.2 1476.2 L901.2 1474.9 L903.2 1473.7 L905.2 1472.5 L907.2 1471.4 L909.2 1470.2 L911.2 1469.2 L913.2 1468.1 L915.2 1467.1 L917.2 1466.2 L919.2 1465.2 L921.2 1464.4 L923.2 1463.5 L925.2 1462.7 L925.2 1801.4 L923.2 1801.1 L921.2 1800.8 L919.2 1800.4 L917.2 1800.1 L915.2 1799.8 L913.2 1799.6 L911.2 1799.3 L909.2 1799 L907.2 1798.8 L905.2 1798.6 L903.2 1798.3 L901.2 1798.1 L899.2 1797.9 L897.2 1797.7 L895.2 1797.6 L893.2 1797.4 L891.2 1797.2 L889.2 1797.1 L887.2 1797 L885.2 1796.8 L883.2 1796.7 L881.2 1796.6 L879.2 1796.5 L877.2 1796.4 L875.2 1796.4 L873.2 1796.3 L871.2 1796.3 L869.2 1796.2 L867.2 1796.2 L865.2 1796.2 L863.2 1796.1 L861.2 1796.1 L859.2 1796.1 L857.2 1796.2 L855.2 1796.2 L853.2 1796.2 L851.2 1796.3 L849.2 1796.3 L847.2 1796.4 L845.2 1796.4 L843.2 1796.5 L841.2 1796.6 L839.2 1796.7 L837.2 1796.8 L835.2 1796.9 L833.2 1797 L831.2 1797.1 L829.2 1797.3 L827.2 1797.4 L825.2 1797.6 L823.2 1797.7 L821.2 1797.9 L819.2 1798 L817.2 1798.2 L815.2 1798.4 L813.2 1798.6 L811.2 1798.8 L809.2 1799 L807.2 1799.2 L805.2 1799.4 L803.2 1799.7 L801.2 1799.9 L799.2 1800.1 L797.2 1800.4 L795.2 1800.6 L793.2 1800.9 L791.2 1801.2 L789.2 1801.4 L787.2 1801.7 L785.2 1802 L783.2 1802.3 L781.2 1802.6 L779.2 1802.9 L777.2 1803.2 L775.2 1803.5 L773.2 1803.8 L771.2 1804.1 L769.2 1804.5 L767.2 1804.8 L765.2 1805.1 L763.2 1805.5 L761.2 1805.8 L759.2 1806.2 L757.2 1806.5 L755.2 1806.9 L753.2 1807.2 L751.2 1807.6 L749.2 1808 L747.2 1808.3 L745.2 1808.7 L743.2 1809.1 L741.2 1809.5 L739.2 1809.9 L737.2 1810.3 L735.2 1810.7 L733.2 1811.1 L731.2 1811.5 L729.2 1811.9 L727.2 1812.3 L725.2 1812.7 L723.2 1813.1 L721.2 1813.5 L719.2 1814 L717.2 1814.4 L715.2 1814.8 L713.2 1815.2 L711.2 1815.7 L709.2 1816.1 L707.2 1816.5 L705.2 1817 L703.2 1817.4 L701.2 1817.8 L699.2 1818.3 L697.2 1818.7 L695.2 1819.2 L693.2 1819.6 L691.2 1820.1 L689.2 1820.5 L687.2 1821 L685.2 1821.4 L683.2 1821.9 L681.2 1822.3 L679.2 1822.8 L677.2 1823.3 L675.2 1823.7 L673.2 1824.2 L671.2 1824.6 L669.2 1825.1 L667.2 1825.5 L665.2 1826 L663.2 1826.5 L661.2 1826.9 L659.2 1827.4 L657.2 1827.9 L655.2 1828.3 L653.2 1828.8 L651.2 1829.2 L649.2 1829.7 L647.2 1830.2 L645.2 1830.6 L643.2 1831.1 L641.2 1831.6 L639.2 1832 L637.2 1832.5 L635.2 1832.9 L633.2 1833.4 L631.2 1833.8 L629.2 1834.3 L627.2 1834.8 L625.2 1835.2 L623.2 1835.7 L621.2 1836.1 L619.2 1836.6 L617.2 1837 L615.2 1837.5 L613.2 1837.9 L611.2 1838.4 L609.2 1838.8 L607.2 1839.3 L605.2 1839.7 L603.2 1840.1 L601.2 1840.6 L599.2 1841 L597.2 1841.4 L595.2 1841.9 L593.2 1842.3 L591.2 1842.7 L589.2 1843.1 L587.2 1843.6 L585.2 1844 L583.2 1844.4 L581.2 1844.8 L579.2 1845.2 L577.2 1845.6 L575.2 1846 L573.2 1846.4 L571.2 1846.8 L569.2 1847.2 L567.2 1847.6 L565.2 1848 L563.2 1848.4 L561.2 1848.8 L559.2 1849.2 L557.2 1849.6 L555.2 1849.9 L553.2 1850.3 L551.2 1850.7 L549.2 1851.1 L547.2 1851.4 L545.2 1851.8 L543.2 1852.1 L541.2 1852.5 L539.2 1852.9 L537.2 1853.2 L535.2 1853.6 L533.2 1853.9 L531.2 1854.2 L529.2 1854.6 L527.2 1854.9 L525.2 1855.3 L523.2 1855.6 L521.2 1855.9 L519.2 1856.2 L517.2 1856.6 L515.2 1856.9 L513.2 1857.2 L511.2 1857.5 L509.2 1857.8 L507.2 1858.1 L505.2 1858.5 L503.2 1858.8 L501.2 1859.1 L499.2 1859.4 L497.2 1859.6 L495.2 1859.9 L493.2 1860.2 L491.2 1860.5 L489.2 1860.8 L487.2 1861.1 L485.2 1861.4 L483.2 1861.6 L481.2 1861.9 L479.2 1862.2 L477.2 1862.4 L475.2 1862.7 L473.2 1863 L471.2 1863.2 L469.2 1863.5 L467.2 1863.7 L465.2 1864 L463.2 1864.2 L461.2 1864.5 L459.2 1864.7 L457.2 1864.9 L455.2 1865.2 L453.2 1865.4 L451.2 1865.6 L449.2 1865.8 L447.2 1866.1 L445.2 1866.3 L443.2 1866.5 L441.2 1866.7 L439.2 1866.9 L437.2 1867.1 L435.2 1867.3 L433.2 1867.5 L431.2 1867.7 L429.2 1867.9 L427.2 1868.1 L425.2 1868.3 L423.2 1868.5 L421.2 1868.7 L419.2 1868.9 L417.2 1869 L415.2 1869.2 L413.2 1869.4 L411.2 1869.5 L409.2 1869.7 L407.2 1869.9 L405.2 1870 L403.2 1870.2 L401.2 1870.3 L399.2 1870.5 L397.2 1870.6 L395.2 1870.8 L393.2 1870.9 L391.2 1871.1 L389.2 1871.2 L387.2 1871.3 L385.2 1871.5 L383.2 1871.6 L381.2 1871.7 L379.2 1871.8 L377.2 1871.9 L375.2 1872.1 L373.2 1872.2 L371.2 1872.3 L369.2 1872.4 L367.2 1872.5 L365.2 1872.6 L363.2 1872.7 L361.2 1872.8 L359.2 1872.9 L357.2 1872.9 L355.2 1873 L353.2 1873.1 L351.2 1873.2 L349.2 1873.3 L347.2 1873.3 L345.2 1873.4 L343.2 1873.5 L341.2 1873.5 L339.2 1873.6 L337.2 1873.6 L335.2 1873.7 L333.2 1873.7 L331.2 1873.8 L329.2 1873.8 L327.2 1873.9 L325.2 1873.9 L323.2 1873.9 L321.2 1874 L319.2 1874 L317.2 1874 L315.2 1874 L313.2 1874.1 L311.2 1874.1 L309.2 1874.1 L307.2 1874.1 L305.2 1874.1 L303.2 1874.1 L301.2 1874.1 L299.2 1874.1 L297.2 1874.1 L295.2 1874.1 L293.2 1874.1 L291.2 1874.1 L289.2 1874 L287.2 1874 L285.2 1874 L283.2 1874 L281.2 1873.9 L279.2 1873.9 L277.2 1873.9 L275.2 1873.8 L273.2 1873.8 L271.2 1873.7 L269.2 1873.7 L267.2 1873.6 L265.2 1873.6 L263.2 1873.5 L261.2 1873.4 L259.2 1873.4 L257.2 1873.3 L255.2 1873.2 L253.2 1873.1 L251.2 1873.1 L249.2 1873 L247.2 1872.9 L245.2 1872.8 L243.2 1872.7 L241.2 1872.6 L239.2 1872.5 L237.2 1872.4 L235.2 1872.3 L233.2 1872.2 L231.2 1872.1 L229.2 1872 L227.2 1871.9 L225.2 1871.7 L223.2 1871.6 L221.2 1871.5 L219.2 1871.4 L217.2 1871.2Z" fill="rgba(102,102,102,0.40)"/>
<path d="M217.2 1871.4 L219.2 1871.4 L221.2 1871.3 L223.2 1871.3 L225.2 1871.3 L227.2 1871.3 L229.2 1871.2 L231.2 1871.2 L233.2 1871.2 L235.2 1871.2 L237.2 1871.1 L239.2 1871.1 L241.2 1871.1 L243.2 1871.1 L245.2 1871 L247.2 1871 L249.2 1871 L251.2 1870.9 L253.2 1870.9 L255.2 1870.9 L257.2 1870.8 L259.2 1870.8 L261.2 1870.8 L263.2 1870.7 L265.2 1870.7 L267.2 1870.7 L269.2 1870.6 L271.2 1870.6 L273.2 1870.5 L275.2 1870.5 L277.2 1870.4 L279.2 1870.4 L281.2 1870.4 L283.2 1870.3 L285.2 1870.3 L287.2 1870.2 L289.2 1870.2 L291.2 1870.1 L293.2 1870.1 L295.2 1870 L297.2 1869.9 L299.2 1869.9 L301.2 1869.8 L303.2 1869.8 L305.2 1869.7 L307.2 1869.6 L309.2 1869.6 L311.2 1869.5 L313.2 1869.4 L315.2 1869.4 L317.2 1869.3 L319.2 1869.2 L321.2 1869.1 L323.2 1869.1 L325.2 1869 L327.2 1868.9 L329.2 1868.8 L331.2 1868.7 L333.2 1868.6 L335.2 1868.5 L337.2 1868.4 L339.2 1868.4 L341.2 1868.3 L343.2 1868.2 L345.2 1868.1 L347.2 1868 L349.2 1867.8 L351.2 1867.7 L353.2 1867.6 L355.2 1867.5 L357.2 1867.4 L359.2 1867.3 L361.2 1867.2 L363.2 1867 L365.2 1866.9 L367.2 1866.8 L369.2 1866.7 L371.2 1866.5 L373.2 1866.4 L375.2 1866.2 L377.2 1866.1 L379.2 1866 L381.2 1865.8 L383.2 1865.7 L385.2 1865.5 L387.2 1865.3 L389.2 1865.2 L391.2 1865 L393.2 1864.8 L395.2 1864.7 L397.2 1864.5 L399.2 1864.3 L401.2 1864.1 L403.2 1864 L405.2 1863.8 L407.2 1863.6 L409.2 1863.4 L411.2 1863.2 L413.2 1863 L415.2 1862.8 L417.2 1862.6 L419.2 1862.3 L421.2 1862.1 L423.2 1861.9 L425.2 1861.7 L427.2 1861.4 L429.2 1861.2 L431.2 1861 L433.2 1860.7 L435.2 1860.5 L437.2 1860.2 L439.2 1859.9 L441.2 1859.7 L443.2 1859.4 L445.2 1859.1 L447.2 1858.9 L449.2 1858.6 L451.2 1858.3 L453.2 1858 L455.2 1857.7 L457.2 1857.4 L459.2 1857.1 L461.2 1856.8 L463.2 1856.5 L465.2 1856.1 L467.2 1855.8 L469.2 1855.5 L471.2 1855.2 L473.2 1854.8 L475.2 1854.5 L477.2 1854.1 L479.2 1853.7 L481.2 1853.4 L483.2 1853 L485.2 1852.6 L487.2 1852.3 L489.2 1851.9 L491.2 1851.5 L493.2 1851.1 L495.2 1850.7 L497.2 1850.3 L499.2 1849.8 L501.2 1849.4 L503.2 1849 L505.2 1848.6 L507.2 1848.1 L509.2 1847.7 L511.2 1847.2 L513.2 1846.8 L515.2 1846.3 L517.2 1845.8 L519.2 1845.4 L521.2 1844.9 L523.2 1844.4 L525.2 1843.9 L527.2 1843.4 L529.2 1842.9 L531.2 1842.4 L533.2 1841.8 L535.2 1841.3 L537.2 1840.8 L539.2 1840.2 L541.2 1839.7 L543.2 1839.1 L545.2 1838.6 L547.2 1838 L549.2 1837.4 L551.2 1836.9 L553.2 1836.3 L555.2 1835.7 L557.2 1835.1 L559.2 1834.5 L561.2 1833.9 L563.2 1833.3 L565.2 1832.6 L567.2 1832 L569.2 1831.4 L571.2 1830.7 L573.2 1830.1 L575.2 1829.4 L577.2 1828.8 L579.2 1828.1 L581.2 1827.4 L583.2 1826.7 L585.2 1826.1 L587.2 1825.4 L589.2 1824.7 L591.2 1824 L593.2 1823.2 L595.2 1822.5 L597.2 1821.8 L599.2 1821.1 L601.2 1820.3 L603.2 1819.6 L605.2 1818.8 L607.2 1818.1 L609.2 1817.3 L611.2 1816.6 L613.2 1815.8 L615.2 1815 L617.2 1814.2 L619.2 1813.5 L621.2 1812.7 L623.2 1811.9 L625.2 1811.1 L627.2 1810.3 L629.2 1809.5 L631.2 1808.6 L633.2 1807.8 L635.2 1807 L637.2 1806.2 L639.2 1805.3 L641.2 1804.5 L643.2 1803.6 L645.2 1802.8 L647.2 1801.9 L649.2 1801.1 L651.2 1800.2 L653.2 1799.4 L655.2 1798.5 L657.2 1797.6 L659.2 1796.7 L661.2 1795.9 L663.2 1795 L665.2 1794.1 L667.2 1793.2 L669.2 1792.3 L671.2 1791.4 L673.2 1790.5 L675.2 1789.6 L677.2 1788.7 L679.2 1787.8 L681.2 1786.9 L683.2 1786 L685.2 1785.1 L687.2 1784.2 L689.2 1783.3 L691.2 1782.4 L693.2 1781.4 L695.2 1780.5 L697.2 1779.6 L699.2 1778.7 L701.2 1777.8 L703.2 1776.9 L705.2 1775.9 L707.2 1775 L709.2 1774.1 L711.2 1773.2 L713.2 1772.3 L715.2 1771.3 L717.2 1770.4 L719.2 1769.5 L721.2 1768.6 L723.2 1767.7 L725.2 1766.8 L727.2 1765.9 L729.2 1764.9 L731.2 1764 L733.2 1763.1 L735.2 1762.2 L737.2 1761.3 L739.2 1760.4 L741.2 1759.5 L743.2 1758.6 L745.2 1757.8 L747.2 1756.9 L749.2 1756 L751.2 1755.1 L753.2 1754.2 L755.2 1753.4 L757.2 1752.5 L759.2 1751.7 L761.2 1750.8 L763.2 1750 L765.2 1749.1 L767.2 1748.3 L769.2 1747.4 L771.2 1746.6 L773.2 1745.8 L775.2 1745 L777.2 1744.2 L779.2 1743.4 L781.2 1742.6 L783.2 1741.8 L785.2 1741 L787.2 1740.2 L789.2 1739.5 L791.2 1738.7 L793.2 1737.9 L795.2 1737.2 L797.2 1736.5 L799.2 1735.7 L801.2 1735 L803.2 1734.3 L805.2 1733.6 L807.2 1732.9 L809.2 1732.2 L811.2 1731.6 L813.2 1730.9 L815.2 1730.3 L817.2 1729.6 L819.2 1729 L821.2 1728.4 L823.2 1727.7 L825.2 1727.1 L827.2 1726.5 L829.2 1726 L831.2 1725.4 L833.2 1724.8 L835.2 1724.3 L837.2 1723.7 L839.2 1723.2 L841.2 1722.7 L843.2 1722.2 L845.2 1721.7 L847.2 1721.2 L849.2 1720.8 L851.2 1720.3 L853.2 1719.9 L855.2 1719.5 L857.2 1719 L859.2 1718.6 L861.2 1718.3 L863.2 1717.9 L865.2 1717.5 L867.2 1717.2 L869.2 1716.8 L871.2 1716.5 L873.2 1716.2 L875.2 1715.9 L877.2 1715.6 L879.2 1715.3 L881.2 1715.1 L883.2 1714.9 L885.2 1714.6 L887.2 1714.4 L889.2 1714.2 L891.2 1714 L893.2 1713.9 L895.2 1713.7 L897.2 1713.6 L899.2 1713.4 L901.2 1713.3 L903.2 1713.2 L905.2 1713.1 L907.2 1713.1 L909.2 1713 L911.2 1713 L913.2 1712.9 L915.2 1712.9 L917.2 1712.9 L919.2 1712.9 L921.2 1713 L923.2 1713 L925.2 1713.1" fill="none" stroke="#5e5e5e" stroke-width="4.5" stroke-linecap="round" stroke-dasharray="12.3 21.62"/>
<path d="M217.2 1871.4 L219.2 1871.4 L221.2 1871.3 L223.2 1871.3 L225.2 1871.3 L227.2 1871.2 L229.2 1871.2 L231.2 1871.2 L233.2 1871.2 L235.2 1871.1 L237.2 1871.1 L239.2 1871.1 L241.2 1871 L243.2 1871 L245.2 1871 L247.2 1871 L249.2 1870.9 L251.2 1870.9 L253.2 1870.9 L255.2 1870.8 L257.2 1870.8 L259.2 1870.8 L261.2 1870.8 L263.2 1870.7 L265.2 1870.7 L267.2 1870.7 L269.2 1870.6 L271.2 1870.6 L273.2 1870.6 L275.2 1870.5 L277.2 1870.5 L279.2 1870.4 L281.2 1870.4 L283.2 1870.4 L285.2 1870.3 L287.2 1870.3 L289.2 1870.2 L291.2 1870.2 L293.2 1870.1 L295.2 1870.1 L297.2 1870 L299.2 1870 L301.2 1869.9 L303.2 1869.9 L305.2 1869.8 L307.2 1869.8 L309.2 1869.7 L311.2 1869.7 L313.2 1869.6 L315.2 1869.5 L317.2 1869.5 L319.2 1869.4 L321.2 1869.3 L323.2 1869.2 L325.2 1869.2 L327.2 1869.1 L329.2 1869 L331.2 1868.9 L333.2 1868.8 L335.2 1868.7 L337.2 1868.6 L339.2 1868.5 L341.2 1868.4 L343.2 1868.3 L345.2 1868.2 L347.2 1868.1 L349.2 1868 L351.2 1867.9 L353.2 1867.8 L355.2 1867.6 L357.2 1867.5 L359.2 1867.4 L361.2 1867.3 L363.2 1867.1 L365.2 1867 L367.2 1866.8 L369.2 1866.7 L371.2 1866.5 L373.2 1866.4 L375.2 1866.2 L377.2 1866.1 L379.2 1865.9 L381.2 1865.7 L383.2 1865.5 L385.2 1865.4 L387.2 1865.2 L389.2 1865 L391.2 1864.8 L393.2 1864.6 L395.2 1864.4 L397.2 1864.2 L399.2 1864 L401.2 1863.8 L403.2 1863.5 L405.2 1863.3 L407.2 1863.1 L409.2 1862.8 L411.2 1862.6 L413.2 1862.4 L415.2 1862.1 L417.2 1861.8 L419.2 1861.6 L421.2 1861.3 L423.2 1861 L425.2 1860.8 L427.2 1860.5 L429.2 1860.2 L431.2 1859.9 L433.2 1859.6 L435.2 1859.3 L437.2 1859 L439.2 1858.7 L441.2 1858.3 L443.2 1858 L445.2 1857.7 L447.2 1857.3 L449.2 1857 L451.2 1856.6 L453.2 1856.2 L455.2 1855.9 L457.2 1855.5 L459.2 1855.1 L461.2 1854.7 L463.2 1854.3 L465.2 1853.9 L467.2 1853.5 L469.2 1853.1 L471.2 1852.7 L473.2 1852.3 L475.2 1851.8 L477.2 1851.4 L479.2 1850.9 L481.2 1850.5 L483.2 1850 L485.2 1849.5 L487.2 1849.1 L489.2 1848.6 L491.2 1848.1 L493.2 1847.6 L495.2 1847.1 L497.2 1846.6 L499.2 1846 L501.2 1845.5 L503.2 1845 L505.2 1844.4 L507.2 1843.9 L509.2 1843.3 L511.2 1842.7 L513.2 1842.1 L515.2 1841.6 L517.2 1841 L519.2 1840.4 L521.2 1839.7 L523.2 1839.1 L525.2 1838.5 L527.2 1837.8 L529.2 1837.2 L531.2 1836.5 L533.2 1835.9 L535.2 1835.2 L537.2 1834.5 L539.2 1833.8 L541.2 1833.1 L543.2 1832.4 L545.2 1831.6 L547.2 1830.9 L549.2 1830.2 L551.2 1829.4 L553.2 1828.6 L555.2 1827.8 L557.2 1827 L559.2 1826.2 L561.2 1825.4 L563.2 1824.6 L565.2 1823.7 L567.2 1822.9 L569.2 1822 L571.2 1821.1 L573.2 1820.3 L575.2 1819.4 L577.2 1818.4 L579.2 1817.5 L581.2 1816.6 L583.2 1815.6 L585.2 1814.6 L587.2 1813.6 L589.2 1812.6 L591.2 1811.6 L593.2 1810.6 L595.2 1809.6 L597.2 1808.5 L599.2 1807.4 L601.2 1806.3 L603.2 1805.2 L605.2 1804.1 L607.2 1803 L609.2 1801.9 L611.2 1800.7 L613.2 1799.5 L615.2 1798.3 L617.2 1797.1 L619.2 1795.9 L621.2 1794.7 L623.2 1793.4 L625.2 1792.2 L627.2 1790.9 L629.2 1789.6 L631.2 1788.4 L633.2 1787 L635.2 1785.7 L637.2 1784.4 L639.2 1783.1 L641.2 1781.7 L643.2 1780.4 L645.2 1779 L647.2 1777.6 L649.2 1776.2 L651.2 1774.8 L653.2 1773.4 L655.2 1772 L657.2 1770.6 L659.2 1769.1 L661.2 1767.7 L663.2 1766.2 L665.2 1764.7 L667.2 1763.3 L669.2 1761.8 L671.2 1760.3 L673.2 1758.8 L675.2 1757.3 L677.2 1755.8 L679.2 1754.3 L681.2 1752.7 L683.2 1751.2 L685.2 1749.7 L687.2 1748.1 L689.2 1746.6 L691.2 1745 L693.2 1743.5 L695.2 1741.9 L697.2 1740.3 L699.2 1738.8 L701.2 1737.2 L703.2 1735.6 L705.2 1734 L707.2 1732.4 L709.2 1730.8 L711.2 1729.2 L713.2 1727.6 L715.2 1726 L717.2 1724.4 L719.2 1722.8 L721.2 1721.2 L723.2 1719.6 L725.2 1718 L727.2 1716.4 L729.2 1714.8 L731.2 1713.2 L733.2 1711.6 L735.2 1710 L737.2 1708.4 L739.2 1706.8 L741.2 1705.2 L743.2 1703.6 L745.2 1702 L747.2 1700.4 L749.2 1698.8 L751.2 1697.2 L753.2 1695.6 L755.2 1694 L757.2 1692.4 L759.2 1690.8 L761.2 1689.2 L763.2 1687.6 L765.2 1686 L767.2 1684.5 L769.2 1682.9 L771.2 1681.3 L773.2 1679.8 L775.2 1678.2 L777.2 1676.6 L779.2 1675.1 L781.2 1673.5 L783.2 1672 L785.2 1670.4 L787.2 1668.9 L789.2 1667.4 L791.2 1665.8 L793.2 1664.3 L795.2 1662.8 L797.2 1661.3 L799.2 1659.8 L801.2 1658.3 L803.2 1656.8 L805.2 1655.3 L807.2 1653.8 L809.2 1652.3 L811.2 1650.8 L813.2 1649.4 L815.2 1647.9 L817.2 1646.4 L819.2 1645 L821.2 1643.5 L823.2 1642.1 L825.2 1640.7 L827.2 1639.3 L829.2 1637.8 L831.2 1636.4 L833.2 1635 L835.2 1633.6 L837.2 1632.2 L839.2 1630.9 L841.2 1629.5 L843.2 1628.1 L845.2 1626.8 L847.2 1625.4 L849.2 1624.1 L851.2 1622.8 L853.2 1621.4 L855.2 1620.1 L857.2 1618.8 L859.2 1617.5 L861.2 1616.3 L863.2 1615 L865.2 1613.7 L867.2 1612.5 L869.2 1611.2 L871.2 1610 L873.2 1608.8 L875.2 1607.5 L877.2 1606.3 L879.2 1605.1 L881.2 1604 L883.2 1602.8 L885.2 1601.6 L887.2 1600.5 L889.2 1599.3 L891.2 1598.2 L893.2 1597.1 L895.2 1596 L897.2 1594.9 L899.2 1593.8 L901.2 1592.8 L903.2 1591.7 L905.2 1590.7 L907.2 1589.6 L909.2 1588.6 L911.2 1587.6 L913.2 1586.6 L915.2 1585.7 L917.2 1584.7 L919.2 1583.7 L921.2 1582.8 L923.2 1581.9 L925.2 1581 L925.2 1834.3 L923.2 1833.9 L921.2 1833.4 L919.2 1833 L917.2 1832.6 L915.2 1832.1 L913.2 1831.7 L911.2 1831.3 L909.2 1830.9 L907.2 1830.5 L905.2 1830.1 L903.2 1829.8 L901.2 1829.4 L899.2 1829 L897.2 1828.6 L895.2 1828.3 L893.2 1827.9 L891.2 1827.6 L889.2 1827.3 L887.2 1826.9 L885.2 1826.6 L883.2 1826.3 L881.2 1826 L879.2 1825.7 L877.2 1825.4 L875.2 1825.2 L873.2 1824.9 L871.2 1824.6 L869.2 1824.4 L867.2 1824.1 L865.2 1823.9 L863.2 1823.7 L861.2 1823.5 L859.2 1823.3 L857.2 1823.1 L855.2 1822.9 L853.2 1822.7 L851.2 1822.5 L849.2 1822.4 L847.2 1822.2 L845.2 1822.1 L843.2 1822 L841.2 1821.9 L839.2 1821.8 L837.2 1821.7 L835.2 1821.6 L833.2 1821.5 L831.2 1821.5 L829.2 1821.4 L827.2 1821.4 L825.2 1821.4 L823.2 1821.4 L821.2 1821.4 L819.2 1821.4 L817.2 1821.4 L815.2 1821.4 L813.2 1821.5 L811.2 1821.5 L809.2 1821.6 L807.2 1821.7 L805.2 1821.8 L803.2 1821.9 L801.2 1822 L799.2 1822.1 L797.2 1822.2 L795.2 1822.4 L793.2 1822.5 L791.2 1822.7 L789.2 1822.9 L787.2 1823.1 L785.2 1823.3 L783.2 1823.5 L781.2 1823.7 L779.2 1823.9 L777.2 1824.1 L775.2 1824.3 L773.2 1824.6 L771.2 1824.8 L769.2 1825.1 L767.2 1825.3 L765.2 1825.6 L763.2 1825.9 L761.2 1826.1 L759.2 1826.4 L757.2 1826.7 L755.2 1827 L753.2 1827.3 L751.2 1827.6 L749.2 1827.9 L747.2 1828.3 L745.2 1828.6 L743.2 1828.9 L741.2 1829.2 L739.2 1829.6 L737.2 1829.9 L735.2 1830.3 L733.2 1830.6 L731.2 1831 L729.2 1831.3 L727.2 1831.7 L725.2 1832 L723.2 1832.4 L721.2 1832.7 L719.2 1833.1 L717.2 1833.5 L715.2 1833.8 L713.2 1834.2 L711.2 1834.6 L709.2 1834.9 L707.2 1835.3 L705.2 1835.7 L703.2 1836 L701.2 1836.4 L699.2 1836.8 L697.2 1837.2 L695.2 1837.5 L693.2 1837.9 L691.2 1838.3 L689.2 1838.6 L687.2 1839 L685.2 1839.3 L683.2 1839.7 L681.2 1840.1 L679.2 1840.4 L677.2 1840.8 L675.2 1841.1 L673.2 1841.5 L671.2 1841.8 L669.2 1842.2 L667.2 1842.5 L665.2 1842.9 L663.2 1843.2 L661.2 1843.5 L659.2 1843.9 L657.2 1844.2 L655.2 1844.5 L653.2 1844.9 L651.2 1845.2 L649.2 1845.5 L647.2 1845.9 L645.2 1846.2 L643.2 1846.5 L641.2 1846.8 L639.2 1847.1 L637.2 1847.5 L635.2 1847.8 L633.2 1848.1 L631.2 1848.4 L629.2 1848.7 L627.2 1849 L625.2 1849.3 L623.2 1849.6 L621.2 1849.9 L619.2 1850.2 L617.2 1850.5 L615.2 1850.8 L613.2 1851.1 L611.2 1851.4 L609.2 1851.7 L607.2 1852 L605.2 1852.2 L603.2 1852.5 L601.2 1852.8 L599.2 1853.1 L597.2 1853.4 L595.2 1853.6 L593.2 1853.9 L591.2 1854.2 L589.2 1854.5 L587.2 1854.7 L585.2 1855 L583.2 1855.3 L581.2 1855.5 L579.2 1855.8 L577.2 1856 L575.2 1856.3 L573.2 1856.5 L571.2 1856.8 L569.2 1857.1 L567.2 1857.3 L565.2 1857.5 L563.2 1857.8 L561.2 1858 L559.2 1858.3 L557.2 1858.5 L555.2 1858.8 L553.2 1859 L551.2 1859.2 L549.2 1859.5 L547.2 1859.7 L545.2 1859.9 L543.2 1860.1 L541.2 1860.4 L539.2 1860.6 L537.2 1860.8 L535.2 1861 L533.2 1861.2 L531.2 1861.5 L529.2 1861.7 L527.2 1861.9 L525.2 1862.1 L523.2 1862.3 L521.2 1862.5 L519.2 1862.7 L517.2 1862.9 L515.2 1863.1 L513.2 1863.3 L511.2 1863.5 L509.2 1863.7 L507.2 1863.9 L505.2 1864.1 L503.2 1864.3 L501.2 1864.5 L499.2 1864.6 L497.2 1864.8 L495.2 1865 L493.2 1865.2 L491.2 1865.4 L489.2 1865.5 L487.2 1865.7 L485.2 1865.9 L483.2 1866.1 L481.2 1866.2 L479.2 1866.4 L477.2 1866.6 L475.2 1866.7 L473.2 1866.9 L471.2 1867 L469.2 1867.2 L467.2 1867.3 L465.2 1867.5 L463.2 1867.6 L461.2 1867.8 L459.2 1867.9 L457.2 1868.1 L455.2 1868.2 L453.2 1868.4 L451.2 1868.5 L449.2 1868.7 L447.2 1868.8 L445.2 1868.9 L443.2 1869.1 L441.2 1869.2 L439.2 1869.3 L437.2 1869.4 L435.2 1869.6 L433.2 1869.7 L431.2 1869.8 L429.2 1869.9 L427.2 1870 L425.2 1870.2 L423.2 1870.3 L421.2 1870.4 L419.2 1870.5 L417.2 1870.6 L415.2 1870.7 L413.2 1870.8 L411.2 1870.9 L409.2 1871 L407.2 1871.1 L405.2 1871.2 L403.2 1871.3 L401.2 1871.4 L399.2 1871.5 L397.2 1871.6 L395.2 1871.7 L393.2 1871.8 L391.2 1871.8 L389.2 1871.9 L387.2 1872 L385.2 1872.1 L383.2 1872.2 L381.2 1872.2 L379.2 1872.3 L377.2 1872.4 L375.2 1872.4 L373.2 1872.5 L371.2 1872.6 L369.2 1872.6 L367.2 1872.7 L365.2 1872.8 L363.2 1872.8 L361.2 1872.9 L359.2 1872.9 L357.2 1873 L355.2 1873 L353.2 1873.1 L351.2 1873.1 L349.2 1873.2 L347.2 1873.2 L345.2 1873.2 L343.2 1873.3 L341.2 1873.3 L339.2 1873.4 L337.2 1873.4 L335.2 1873.4 L333.2 1873.4 L331.2 1873.5 L329.2 1873.5 L327.2 1873.5 L325.2 1873.5 L323.2 1873.6 L321.2 1873.6 L319.2 1873.6 L317.2 1873.6 L315.2 1873.6 L313.2 1873.6 L311.2 1873.6 L309.2 1873.7 L307.2 1873.7 L305.2 1873.7 L303.2 1873.7 L301.2 1873.7 L299.2 1873.7 L297.2 1873.7 L295.2 1873.7 L293.2 1873.6 L291.2 1873.6 L289.2 1873.6 L287.2 1873.6 L285.2 1873.6 L283.2 1873.6 L281.2 1873.6 L279.2 1873.5 L277.2 1873.5 L275.2 1873.5 L273.2 1873.5 L271.2 1873.4 L269.2 1873.4 L267.2 1873.4 L265.2 1873.3 L263.2 1873.3 L261.2 1873.3 L259.2 1873.2 L257.2 1873.2 L255.2 1873.2 L253.2 1873.1 L251.2 1873.1 L249.2 1873 L247.2 1873 L245.2 1872.9 L243.2 1872.9 L241.2 1872.8 L239.2 1872.7 L237.2 1872.7 L235.2 1872.6 L233.2 1872.6 L231.2 1872.5 L229.2 1872.4 L227.2 1872.4 L225.2 1872.3 L223.2 1872.2 L221.2 1872.1 L219.2 1872.1 L217.2 1872Z" fill="rgba(0,0,0,0.40)"/>
<path d="M217.2 1871.9 L219.2 1871.9 L221.2 1871.9 L223.2 1871.8 L225.2 1871.8 L227.2 1871.8 L229.2 1871.8 L231.2 1871.8 L233.2 1871.8 L235.2 1871.8 L237.2 1871.8 L239.2 1871.8 L241.2 1871.8 L243.2 1871.8 L245.2 1871.8 L247.2 1871.8 L249.2 1871.7 L251.2 1871.7 L253.2 1871.7 L255.2 1871.7 L257.2 1871.7 L259.2 1871.7 L261.2 1871.7 L263.2 1871.7 L265.2 1871.7 L267.2 1871.6 L269.2 1871.6 L271.2 1871.6 L273.2 1871.6 L275.2 1871.6 L277.2 1871.6 L279.2 1871.5 L281.2 1871.5 L283.2 1871.5 L285.2 1871.5 L287.2 1871.5 L289.2 1871.5 L291.2 1871.4 L293.2 1871.4 L295.2 1871.4 L297.2 1871.4 L299.2 1871.3 L301.2 1871.3 L303.2 1871.3 L305.2 1871.3 L307.2 1871.2 L309.2 1871.2 L311.2 1871.2 L313.2 1871.2 L315.2 1871.1 L317.2 1871.1 L319.2 1871.1 L321.2 1871 L323.2 1871 L325.2 1871 L327.2 1870.9 L329.2 1870.9 L331.2 1870.9 L333.2 1870.8 L335.2 1870.8 L337.2 1870.7 L339.2 1870.7 L341.2 1870.7 L343.2 1870.6 L345.2 1870.6 L347.2 1870.5 L349.2 1870.5 L351.2 1870.4 L353.2 1870.4 L355.2 1870.3 L357.2 1870.2 L359.2 1870.2 L361.2 1870.1 L363.2 1870.1 L365.2 1870 L367.2 1869.9 L369.2 1869.9 L371.2 1869.8 L373.2 1869.7 L375.2 1869.7 L377.2 1869.6 L379.2 1869.5 L381.2 1869.4 L383.2 1869.4 L385.2 1869.3 L387.2 1869.2 L389.2 1869.1 L391.2 1869 L393.2 1868.9 L395.2 1868.8 L397.2 1868.7 L399.2 1868.6 L401.2 1868.5 L403.2 1868.4 L405.2 1868.3 L407.2 1868.2 L409.2 1868.1 L411.2 1868 L413.2 1867.9 L415.2 1867.8 L417.2 1867.6 L419.2 1867.5 L421.2 1867.4 L423.2 1867.2 L425.2 1867.1 L427.2 1867 L429.2 1866.8 L431.2 1866.7 L433.2 1866.5 L435.2 1866.4 L437.2 1866.2 L439.2 1866.1 L441.2 1865.9 L443.2 1865.7 L445.2 1865.6 L447.2 1865.4 L449.2 1865.2 L451.2 1865 L453.2 1864.8 L455.2 1864.7 L457.2 1864.5 L459.2 1864.3 L461.2 1864.1 L463.2 1863.8 L465.2 1863.6 L467.2 1863.4 L469.2 1863.2 L471.2 1863 L473.2 1862.7 L475.2 1862.5 L477.2 1862.3 L479.2 1862 L481.2 1861.8 L483.2 1861.5 L485.2 1861.3 L487.2 1861 L489.2 1860.7 L491.2 1860.5 L493.2 1860.2 L495.2 1859.9 L497.2 1859.6 L499.2 1859.3 L501.2 1859 L503.2 1858.7 L505.2 1858.4 L507.2 1858.1 L509.2 1857.8 L511.2 1857.5 L513.2 1857.1 L515.2 1856.8 L517.2 1856.4 L519.2 1856.1 L521.2 1855.7 L523.2 1855.4 L525.2 1855 L527.2 1854.6 L529.2 1854.3 L531.2 1853.9 L533.2 1853.5 L535.2 1853.1 L537.2 1852.7 L539.2 1852.3 L541.2 1851.9 L543.2 1851.5 L545.2 1851 L547.2 1850.6 L549.2 1850.2 L551.2 1849.7 L553.2 1849.3 L555.2 1848.8 L557.2 1848.3 L559.2 1847.9 L561.2 1847.4 L563.2 1846.9 L565.2 1846.4 L567.2 1845.9 L569.2 1845.4 L571.2 1844.9 L573.2 1844.4 L575.2 1843.9 L577.2 1843.4 L579.2 1842.8 L581.2 1842.3 L583.2 1841.8 L585.2 1841.2 L587.2 1840.7 L589.2 1840.1 L591.2 1839.5 L593.2 1839 L595.2 1838.4 L597.2 1837.8 L599.2 1837.2 L601.2 1836.6 L603.2 1836 L605.2 1835.4 L607.2 1834.8 L609.2 1834.2 L611.2 1833.5 L613.2 1832.9 L615.2 1832.3 L617.2 1831.6 L619.2 1831 L621.2 1830.4 L623.2 1829.7 L625.2 1829 L627.2 1828.4 L629.2 1827.7 L631.2 1827 L633.2 1826.4 L635.2 1825.7 L637.2 1825 L639.2 1824.3 L641.2 1823.6 L643.2 1822.9 L645.2 1822.2 L647.2 1821.5 L649.2 1820.8 L651.2 1820.1 L653.2 1819.4 L655.2 1818.6 L657.2 1817.9 L659.2 1817.2 L661.2 1816.5 L663.2 1815.7 L665.2 1815 L667.2 1814.3 L669.2 1813.5 L671.2 1812.8 L673.2 1812 L675.2 1811.3 L677.2 1810.6 L679.2 1809.8 L681.2 1809.1 L683.2 1808.3 L685.2 1807.6 L687.2 1806.8 L689.2 1806.1 L691.2 1805.3 L693.2 1804.6 L695.2 1803.8 L697.2 1803.1 L699.2 1802.3 L701.2 1801.6 L703.2 1800.8 L705.2 1800.1 L707.2 1799.3 L709.2 1798.6 L711.2 1797.9 L713.2 1797.1 L715.2 1796.4 L717.2 1795.7 L719.2 1794.9 L721.2 1794.2 L723.2 1793.5 L725.2 1792.7 L727.2 1792 L729.2 1791.3 L731.2 1790.6 L733.2 1789.9 L735.2 1789.2 L737.2 1788.5 L739.2 1787.8 L741.2 1787.1 L743.2 1786.4 L745.2 1785.8 L747.2 1785.1 L749.2 1784.4 L751.2 1783.8 L753.2 1783.1 L755.2 1782.5 L757.2 1781.8 L759.2 1781.2 L761.2 1780.6 L763.2 1779.9 L765.2 1779.3 L767.2 1778.7 L769.2 1778.1 L771.2 1777.5 L773.2 1777 L775.2 1776.4 L777.2 1775.8 L779.2 1775.3 L781.2 1774.7 L783.2 1774.2 L785.2 1773.7 L787.2 1773.1 L789.2 1772.6 L791.2 1772.1 L793.2 1771.7 L795.2 1771.2 L797.2 1770.7 L799.2 1770.3 L801.2 1769.8 L803.2 1769.4 L805.2 1769 L807.2 1768.6 L809.2 1768.2 L811.2 1767.8 L813.2 1767.4 L815.2 1767 L817.2 1766.7 L819.2 1766.3 L821.2 1766 L823.2 1765.7 L825.2 1765.4 L827.2 1765.1 L829.2 1764.8 L831.2 1764.6 L833.2 1764.3 L835.2 1764.1 L837.2 1763.9 L839.2 1763.6 L841.2 1763.4 L843.2 1763.3 L845.2 1763.1 L847.2 1762.9 L849.2 1762.8 L851.2 1762.7 L853.2 1762.5 L855.2 1762.4 L857.2 1762.3 L859.2 1762.3 L861.2 1762.2 L863.2 1762.2 L865.2 1762.1 L867.2 1762.1 L869.2 1762.1 L871.2 1762.1 L873.2 1762.1 L875.2 1762.2 L877.2 1762.2 L879.2 1762.3 L881.2 1762.4 L883.2 1762.5 L885.2 1762.6 L887.2 1762.7 L889.2 1762.8 L891.2 1763 L893.2 1763.1 L895.2 1763.3 L897.2 1763.5 L899.2 1763.7 L901.2 1763.9 L903.2 1764.1 L905.2 1764.3 L907.2 1764.6 L909.2 1764.9 L911.2 1765.1 L913.2 1765.4 L915.2 1765.7 L917.2 1766.1 L919.2 1766.4 L921.2 1766.7 L923.2 1767.1 L925.2 1767.4" fill="none" stroke="#000000" stroke-width="4.3" stroke-linecap="round" stroke-dasharray="0.01 16.94"/>
<text transform="translate(890.2 1361.3) scale(0.88 1)" font-size="42" font-weight="bold" fill="#9c9c9c" text-anchor="middle">c</text>
<line x1="213.3" y1="1894" x2="213.3" y2="1915" stroke="#000" stroke-width="2"/>
<text x="213.3" y="1959.3" text-anchor="middle" font-size="34">0</text>
<line x1="329.4" y1="1894" x2="329.4" y2="1915" stroke="#000" stroke-width="2"/>
<text x="329.4" y="1959.3" text-anchor="middle" font-size="34">30</text>
<line x1="445.4" y1="1894" x2="445.4" y2="1915" stroke="#000" stroke-width="2"/>
<text x="445.4" y="1959.3" text-anchor="middle" font-size="34">60</text>
<line x1="561.5" y1="1894" x2="561.5" y2="1915" stroke="#000" stroke-width="2"/>
<text x="561.5" y="1959.3" text-anchor="middle" font-size="34">90</text>
<line x1="677.6" y1="1894" x2="677.6" y2="1915" stroke="#000" stroke-width="2"/>
<text x="677.6" y="1959.3" text-anchor="middle" font-size="34">120</text>
<line x1="793.7" y1="1894" x2="793.7" y2="1915" stroke="#000" stroke-width="2"/>
<text x="793.7" y="1959.3" text-anchor="middle" font-size="34">150</text>
<line x1="909.7" y1="1894" x2="909.7" y2="1915" stroke="#000" stroke-width="2"/>
<text x="909.7" y="1959.3" text-anchor="middle" font-size="34">180</text>
<text x="417.3" y="2023.4" font-size="42">Infant age</text>
<text x="612.6" y="2023.4" font-size="34">[days]</text>
<text transform="translate(37.5 360.5) rotate(-90)" text-anchor="middle" font-size="42.8">Contact time</text>
<text transform="translate(84.5 360.5) rotate(-90)" text-anchor="middle" font-size="34">[%]</text>
<text transform="translate(37.5 980.3) rotate(-90)" text-anchor="middle" font-size="42.8">Mother breaks contact</text>
<text transform="translate(84.5 980.3) rotate(-90)" text-anchor="middle" font-size="34">[rate/hour]</text>
<text transform="translate(37.5 1599.5) rotate(-90)" text-anchor="middle" font-size="42.8">Mother increases distance</text>
<text transform="translate(84.5 1599.5) rotate(-90)" text-anchor="middle" font-size="34">[rate/hour]</text>
<line x1="185.5" y1="21.4" x2="219.4" y2="21.4" stroke="#adadad" stroke-width="3.8" stroke-linecap="round"/>
<circle cx="202.5" cy="21.4" r="10.4" fill="none" stroke="#adadad" stroke-width="4.2"/>
<text x="230.9" y="31.3" font-size="31">Forest</text>
<path d="M354.6 24 H366.4" stroke="#6a6a6a" stroke-width="3.8" stroke-linecap="round" fill="none"/>
<circle cx="388.1" cy="24" r="2.1" fill="#6a6a6a"/>
<path d="M371.2 7.2 L385.6 32.4 L356.7 32.4Z" fill="none" stroke="#6a6a6a" stroke-width="3.8" stroke-linejoin="round"/>
<text x="398.8" y="31.3" font-size="31">Plantation edge</text>
<rect x="657.15" y="11" width="21.1" height="21.2" fill="none" stroke="#000" stroke-width="4.1" stroke-linejoin="round"/>
<circle cx="650.8" cy="21.5" r="2.2" fill="#000"/>
<circle cx="667.7" cy="21.5" r="2.2" fill="#000"/>
<circle cx="684.7" cy="21.5" r="2.2" fill="#000"/>
<text x="696.5" y="31.3" font-size="31">Plantation interior</text>
</svg>
</body></html>
